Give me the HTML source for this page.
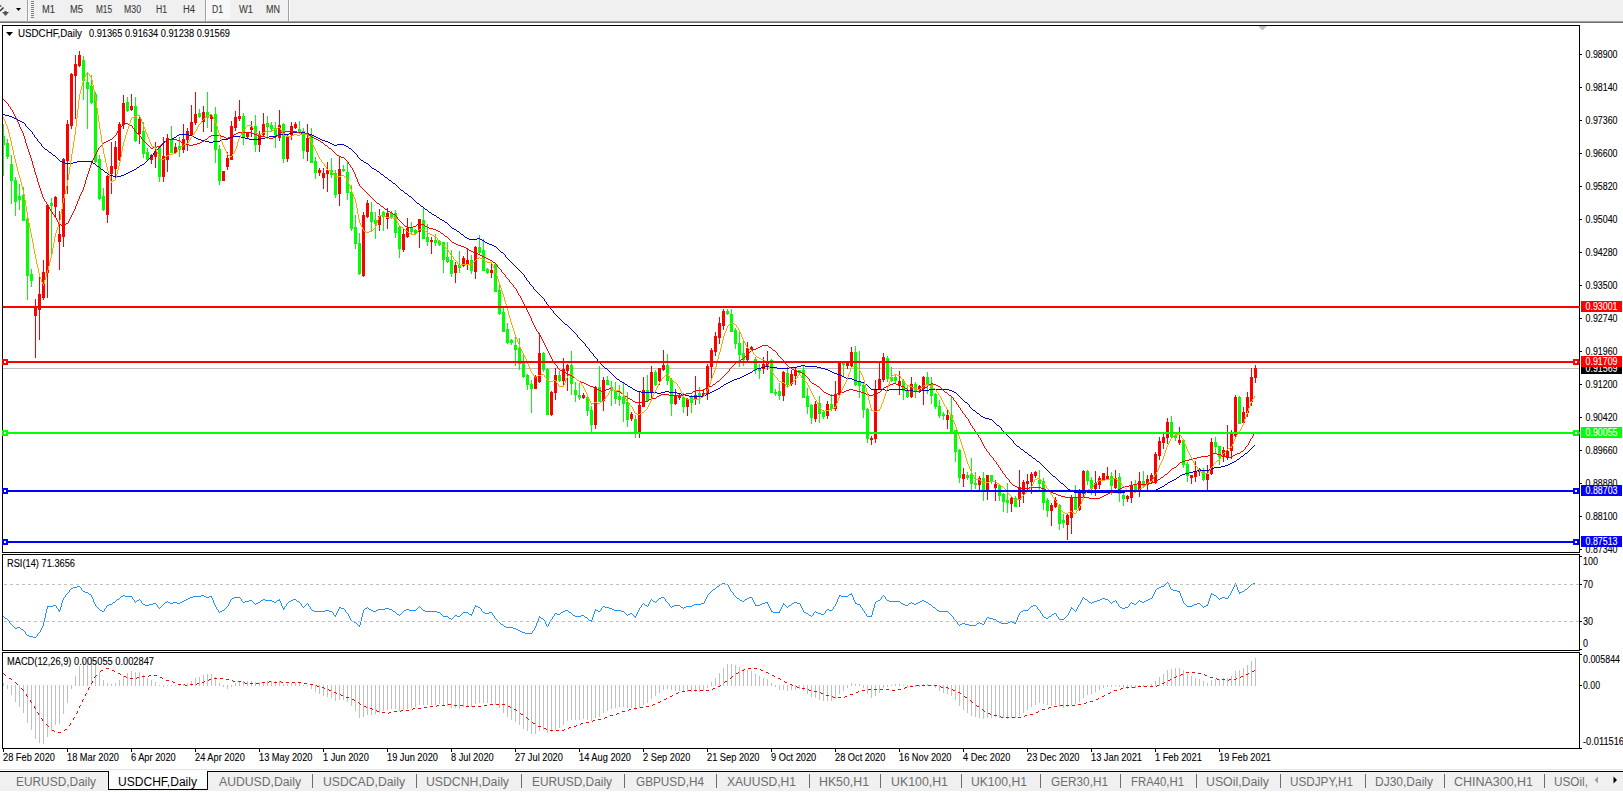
<!DOCTYPE html>
<html><head><meta charset="utf-8"><style>
html,body{margin:0;padding:0;background:#fff;overflow:hidden}
svg{display:block}
text{font-family:"Liberation Sans", sans-serif;white-space:pre}
</style></head><body>
<svg width="1623" height="792" viewBox="0 0 1623 792">
<rect x="0" y="0" width="1623" height="21" fill="#f0f0f0"/>
<rect x="0" y="21" width="1623" height="1" fill="#a0a0a0"/>
<rect x="0" y="22" width="1623" height="1" fill="#6e6e6e"/>
<rect x="27" y="0" width="1" height="21" fill="#a0a0a0"/>
<rect x="28" y="0" width="1" height="21" fill="#ffffff"/>
<rect x="205" y="0" width="1" height="21" fill="#a0a0a0"/>
<rect x="206" y="0" width="1" height="21" fill="#ffffff"/>
<rect x="288" y="0" width="1" height="21" fill="#a0a0a0"/>
<rect x="289" y="0" width="1" height="21" fill="#ffffff"/>
<rect x="31" y="1" width="3" height="1" fill="#808080"/>
<rect x="31" y="3" width="3" height="1" fill="#808080"/>
<rect x="31" y="5" width="3" height="1" fill="#808080"/>
<rect x="31" y="7" width="3" height="1" fill="#808080"/>
<rect x="31" y="9" width="3" height="1" fill="#808080"/>
<rect x="31" y="11" width="3" height="1" fill="#808080"/>
<rect x="31" y="13" width="3" height="1" fill="#808080"/>
<rect x="31" y="15" width="3" height="1" fill="#808080"/>
<rect x="31" y="17" width="3" height="1" fill="#808080"/>
<rect x="207" y="0" width="23" height="19" fill="#f8f8f8"/>
<path d="M16 8h5l-2.5 3z" fill="#000"/>
<path d="M0 5 L2 6 L0 7z" fill="#404040"/>
<path d="M0 11 L3.5 7.5" stroke="#303030" stroke-width="1.4"/>
<path d="M2 12 L9 12 L5.5 16z" fill="#555"/>
<path d="M4 11 L7 11 L5.5 13z" fill="#555"/>
<text x="42" y="13" font-size="10.0" fill="#3c3c3c" text-anchor="start" textLength="13" lengthAdjust="spacingAndGlyphs" stroke="#3c3c3c" stroke-width="0.1">M1</text>
<text x="70" y="13" font-size="10.0" fill="#3c3c3c" text-anchor="start" textLength="13" lengthAdjust="spacingAndGlyphs" stroke="#3c3c3c" stroke-width="0.1">M5</text>
<text x="96" y="13" font-size="10.0" fill="#3c3c3c" text-anchor="start" textLength="16" lengthAdjust="spacingAndGlyphs" stroke="#3c3c3c" stroke-width="0.1">M15</text>
<text x="124" y="13" font-size="10.0" fill="#3c3c3c" text-anchor="start" textLength="17" lengthAdjust="spacingAndGlyphs" stroke="#3c3c3c" stroke-width="0.1">M30</text>
<text x="156" y="13" font-size="10.0" fill="#3c3c3c" text-anchor="start" textLength="11" lengthAdjust="spacingAndGlyphs" stroke="#3c3c3c" stroke-width="0.1">H1</text>
<text x="183" y="13" font-size="10.0" fill="#3c3c3c" text-anchor="start" textLength="12" lengthAdjust="spacingAndGlyphs" stroke="#3c3c3c" stroke-width="0.1">H4</text>
<text x="212" y="13" font-size="10.0" fill="#3c3c3c" text-anchor="start" textLength="11" lengthAdjust="spacingAndGlyphs" stroke="#3c3c3c" stroke-width="0.1">D1</text>
<text x="239" y="13" font-size="10.0" fill="#3c3c3c" text-anchor="start" textLength="14" lengthAdjust="spacingAndGlyphs" stroke="#3c3c3c" stroke-width="0.1">W1</text>
<text x="266" y="13" font-size="10.0" fill="#3c3c3c" text-anchor="start" textLength="14" lengthAdjust="spacingAndGlyphs" stroke="#3c3c3c" stroke-width="0.1">MN</text>
<g fill="none" stroke="#000" stroke-width="1" shape-rendering="crispEdges">
<rect x="2.5" y="25.5" width="1577" height="527"/>
<rect x="2.5" y="554.5" width="1577" height="96"/>
<rect x="2.5" y="652.5" width="1577" height="96"/>
</g>
<rect x="1580" y="54" width="2" height="1" fill="#000"/>
<text x="1585.5" y="58" font-size="10.0" fill="#000" text-anchor="start" textLength="32" lengthAdjust="spacingAndGlyphs" stroke="#000" stroke-width="0.1">0.98900</text>
<rect x="1580" y="87" width="2" height="1" fill="#000"/>
<text x="1585.5" y="91" font-size="10.0" fill="#000" text-anchor="start" textLength="32" lengthAdjust="spacingAndGlyphs" stroke="#000" stroke-width="0.1">0.98140</text>
<rect x="1580" y="120" width="2" height="1" fill="#000"/>
<text x="1585.5" y="124" font-size="10.0" fill="#000" text-anchor="start" textLength="32" lengthAdjust="spacingAndGlyphs" stroke="#000" stroke-width="0.1">0.97360</text>
<rect x="1580" y="153" width="2" height="1" fill="#000"/>
<text x="1585.5" y="157" font-size="10.0" fill="#000" text-anchor="start" textLength="32" lengthAdjust="spacingAndGlyphs" stroke="#000" stroke-width="0.1">0.96600</text>
<rect x="1580" y="186" width="2" height="1" fill="#000"/>
<text x="1585.5" y="190" font-size="10.0" fill="#000" text-anchor="start" textLength="32" lengthAdjust="spacingAndGlyphs" stroke="#000" stroke-width="0.1">0.95820</text>
<rect x="1580" y="219" width="2" height="1" fill="#000"/>
<text x="1585.5" y="223" font-size="10.0" fill="#000" text-anchor="start" textLength="32" lengthAdjust="spacingAndGlyphs" stroke="#000" stroke-width="0.1">0.95040</text>
<rect x="1580" y="252" width="2" height="1" fill="#000"/>
<text x="1585.5" y="256" font-size="10.0" fill="#000" text-anchor="start" textLength="32" lengthAdjust="spacingAndGlyphs" stroke="#000" stroke-width="0.1">0.94280</text>
<rect x="1580" y="285" width="2" height="1" fill="#000"/>
<text x="1585.5" y="289" font-size="10.0" fill="#000" text-anchor="start" textLength="32" lengthAdjust="spacingAndGlyphs" stroke="#000" stroke-width="0.1">0.93500</text>
<rect x="1580" y="318" width="2" height="1" fill="#000"/>
<text x="1585.5" y="322" font-size="10.0" fill="#000" text-anchor="start" textLength="32" lengthAdjust="spacingAndGlyphs" stroke="#000" stroke-width="0.1">0.92740</text>
<rect x="1580" y="351" width="2" height="1" fill="#000"/>
<text x="1585.5" y="355" font-size="10.0" fill="#000" text-anchor="start" textLength="32" lengthAdjust="spacingAndGlyphs" stroke="#000" stroke-width="0.1">0.91960</text>
<rect x="1580" y="384" width="2" height="1" fill="#000"/>
<text x="1585.5" y="388" font-size="10.0" fill="#000" text-anchor="start" textLength="32" lengthAdjust="spacingAndGlyphs" stroke="#000" stroke-width="0.1">0.91200</text>
<rect x="1580" y="417" width="2" height="1" fill="#000"/>
<text x="1585.5" y="421" font-size="10.0" fill="#000" text-anchor="start" textLength="32" lengthAdjust="spacingAndGlyphs" stroke="#000" stroke-width="0.1">0.90420</text>
<rect x="1580" y="450" width="2" height="1" fill="#000"/>
<text x="1585.5" y="454" font-size="10.0" fill="#000" text-anchor="start" textLength="32" lengthAdjust="spacingAndGlyphs" stroke="#000" stroke-width="0.1">0.89660</text>
<rect x="1580" y="483" width="2" height="1" fill="#000"/>
<text x="1585.5" y="487" font-size="10.0" fill="#000" text-anchor="start" textLength="32" lengthAdjust="spacingAndGlyphs" stroke="#000" stroke-width="0.1">0.88880</text>
<rect x="1580" y="516" width="2" height="1" fill="#000"/>
<text x="1585.5" y="520" font-size="10.0" fill="#000" text-anchor="start" textLength="32" lengthAdjust="spacingAndGlyphs" stroke="#000" stroke-width="0.1">0.88100</text>
<rect x="1580" y="549" width="2" height="1" fill="#000"/>
<text x="1585.5" y="553" font-size="10.0" fill="#000" text-anchor="start" textLength="32" lengthAdjust="spacingAndGlyphs" stroke="#000" stroke-width="0.1">0.87340</text>
<rect x="3" y="368" width="1576" height="1" fill="#c0c0c0"/>
<path d="M3 124h1v52h-1zM3 136H5V145H3zM7 139h1v20h-1zM6 143H9V157H6zM11 155h1v49h-1zM10 164H13V181H10zM15 177h1v39h-1zM14 180H17V202H14zM19 184h1v26h-1zM18 196H21V200H18zM23 187h1v34h-1zM22 195H25V221H22zM27 218h1v82h-1zM26 219H29V276H26zM31 269h1v18h-1zM30 274H33V281H30zM51 198h1v58h-1zM50 203H53V206H50zM83 56h1v44h-1zM82 60H85V81H82zM87 72h1v57h-1zM86 82H89V89H86zM91 75h1v29h-1zM90 86H93V103H90zM95 92h1v71h-1zM94 94H97V162H94zM99 155h1v45h-1zM98 159H101V199H98zM103 188h1v23h-1zM102 196H105V210H102zM127 97h1v15h-1zM126 102H129V111H126zM135 97h1v45h-1zM134 106H137V141H134zM143 122h1v36h-1zM142 131H145V154H142zM147 148h1v13h-1zM146 152H149V160H146zM159 146h1v36h-1zM158 147H161V177H158zM171 126h1v27h-1zM170 139H173V153H170zM179 137h1v20h-1zM178 146H181V150H178zM199 109h1v9h-1zM198 113H201V117H198zM207 92h1v36h-1zM206 112H209V118H206zM215 107h1v56h-1zM214 114H217V150H214zM219 145h1v40h-1zM218 149H221V181H218zM243 113h1v32h-1zM242 116H245V137H242zM255 115h1v37h-1zM254 126H257V145H254zM267 116h1v23h-1zM266 123H269V127H266zM271 122h1v9h-1zM270 125H273V129H270zM275 122h1v26h-1zM274 128H277V135H274zM283 123h1v40h-1zM282 124H285V159H282zM299 121h1v13h-1zM298 129H301V133H298zM303 128h1v31h-1zM302 131H305V151H302zM311 128h1v35h-1zM310 135H313V163H310zM315 157h1v22h-1zM314 161H317V173H314zM331 158h1v20h-1zM330 170H333V175H330zM335 170h1v28h-1zM334 173H337V195H334zM343 165h1v7h-1zM342 169H345V171H342zM347 162h1v38h-1zM346 172H349V193H346zM351 185h1v46h-1zM350 192H353V229H350zM355 215h1v34h-1zM354 227H357V244H354zM359 233h1v42h-1zM358 243H361V274H358zM371 202h1v30h-1zM370 212H373V222H370zM375 212h1v27h-1zM374 220H377V224H374zM383 211h1v20h-1zM382 212H385V217H382zM391 211h1v8h-1zM390 213H393V218H390zM395 210h1v28h-1zM394 213H397V233H394zM399 226h1v32h-1zM398 227H401V249H398zM411 222h1v13h-1zM410 228H413V232H410zM415 229h1v6h-1zM414 230H417V234H414zM423 207h1v32h-1zM422 220H425V239H422zM427 224h1v22h-1zM426 237H429V242H426zM435 234h1v12h-1zM434 240H437V243H434zM439 240h1v6h-1zM438 241H441V245H438zM443 242h1v31h-1zM442 242H445V260H442zM447 242h1v21h-1zM446 257H449V262H446zM451 250h1v27h-1zM450 260H453V274H450zM459 251h1v22h-1zM458 265H461V268H458zM471 255h1v19h-1zM470 260H473V271H470zM479 235h1v20h-1zM478 247H481V253H478zM483 239h1v32h-1zM482 250H485V271H482zM487 268h1v6h-1zM486 269H489V273H486zM495 263h1v29h-1zM494 264H497V292H494zM499 285h1v30h-1zM498 290H501V314H498zM503 307h1v25h-1zM502 312H505V332H502zM507 323h1v21h-1zM506 329H509V343H506zM511 339h1v6h-1zM510 340H513V343H510zM515 337h1v29h-1zM514 345H517V350H514zM519 338h1v32h-1zM518 348H521V364H518zM523 355h1v23h-1zM522 361H525V377H522zM527 374h1v16h-1zM526 375H529V385H526zM531 380h1v33h-1zM530 384H533V389H530zM543 352h1v20h-1zM542 353H545V370H542zM547 368h1v47h-1zM546 369H549V415H546zM559 371h1v11h-1zM558 375H561V381H558zM571 351h1v44h-1zM570 365H573V384H570zM575 382h1v20h-1zM574 390H577V395H574zM579 383h1v17h-1zM578 395H581V398H578zM587 395h1v21h-1zM586 397H589V411H586zM591 406h1v27h-1zM590 410H593V425H590zM599 366h1v36h-1zM598 387H601V402H598zM607 376h1v9h-1zM606 380H609V385H606zM611 381h1v25h-1zM610 387H613V391H610zM615 382h1v22h-1zM614 390H617V399H614zM619 385h1v21h-1zM618 396H621V400H618zM623 382h1v40h-1zM622 397H625V404H622zM627 392h1v35h-1zM626 402H629V420H626zM635 415h1v23h-1zM634 419H637V433H634zM647 375h1v26h-1zM646 390H649V401H646zM655 370h1v16h-1zM654 372H657V385H654zM667 354h1v31h-1zM666 365H669V381H666zM671 378h1v38h-1zM670 380H673V404H670zM683 393h1v20h-1zM682 397H685V407H682zM691 395h1v18h-1zM690 396H693V403H690zM699 387h1v17h-1zM698 393H701V396H698zM727 309h1v6h-1zM726 311H729V314H726zM731 309h1v23h-1zM730 314H733V332H730zM735 328h1v21h-1zM734 330H737V344H734zM739 332h1v35h-1zM738 343H741V355H738zM743 341h1v25h-1zM742 353H745V360H742zM755 357h1v17h-1zM754 359H757V370H754zM759 364h1v15h-1zM758 369H761V371H758zM771 359h1v34h-1zM770 360H773V393H770zM775 389h1v7h-1zM774 392H777V394H774zM779 383h1v17h-1zM778 391H781V396H778zM787 367h1v21h-1zM786 373H789V385H786zM799 370h1v4h-1zM798 370H801V373H798zM803 366h1v32h-1zM802 370H805V398H802zM807 388h1v26h-1zM806 396H809V407H806zM811 404h1v20h-1zM810 405H813V418H810zM819 396h1v27h-1zM818 403H821V414H818zM823 410h1v9h-1zM822 412H825V417H822zM831 394h1v17h-1zM830 404H833V409H830zM843 362h1v14h-1zM842 362H845V365H842zM855 346h1v40h-1zM854 352H857V385H854zM859 351h1v47h-1zM858 381H861V386H858zM863 383h1v35h-1zM862 385H865V410H862zM867 408h1v35h-1zM866 409H869V439H866zM887 356h1v26h-1zM886 358H889V379H886zM891 367h1v15h-1zM890 377H893V381H890zM895 374h1v10h-1zM894 377H897V381H894zM903 379h1v21h-1zM902 381H905V391H902zM907 385h1v13h-1zM906 390H909V397H906zM915 382h1v16h-1zM914 384H917V392H914zM927 372h1v22h-1zM926 377H929V385H926zM931 377h1v27h-1zM930 384H933V396H930zM935 393h1v16h-1zM934 394H937V407H934zM939 400h1v18h-1zM938 406H941V416H938zM943 412h1v8h-1zM942 414H945V416H942zM951 396h1v37h-1zM950 415H953V432H950zM955 430h1v32h-1zM954 430H957V452H954zM959 449h1v34h-1zM958 450H961V478H958zM967 472h1v8h-1zM966 475H969V478H966zM971 458h1v33h-1zM970 474H973V484H970zM975 472h1v17h-1zM974 483H977V485H974zM983 472h1v29h-1zM982 478H985V491H982zM991 475h1v9h-1zM990 475H993V481H990zM999 484h1v17h-1zM998 485H1001V496H998zM1003 493h1v19h-1zM1002 494H1005V502H1002zM1007 483h1v30h-1zM1006 500H1009V503H1006zM1015 496h1v11h-1zM1014 498H1017V507H1014zM1039 470h1v22h-1zM1038 480H1041V484H1038zM1043 478h1v32h-1zM1042 481H1045V503H1042zM1047 498h1v19h-1zM1046 500H1049V511H1046zM1059 504h1v26h-1zM1058 505H1061V524H1058zM1063 514h1v14h-1zM1062 520H1065V523H1062zM1075 485h1v25h-1zM1074 498H1077V510H1074zM1087 470h1v15h-1zM1086 471H1089V481H1086zM1091 477h1v18h-1zM1090 480H1093V489H1090zM1111 472h1v23h-1zM1110 476H1113V486H1110zM1119 473h1v29h-1zM1118 477H1121V494H1118zM1123 493h1v13h-1zM1122 495H1125V499H1122zM1135 480h1v11h-1zM1134 485H1137V490H1134zM1143 471h1v17h-1zM1142 481H1145V486H1142zM1171 416h1v22h-1zM1170 422H1173V437H1170zM1175 433h1v8h-1zM1174 435H1177V438H1174zM1183 439h1v29h-1zM1182 440H1185V465H1182zM1187 462h1v20h-1zM1186 464H1189V476H1186zM1203 468h1v13h-1zM1202 470H1205V480H1202zM1215 437h1v17h-1zM1214 442H1217V447H1214zM1219 446h1v19h-1zM1218 446H1221V457H1218zM1239 396h1v28h-1zM1238 397H1241V424H1238z" fill="#00ff00" shape-rendering="crispEdges"/>
<path d="M35 299h1v59h-1zM34 306H37V316H34zM39 277h1v63h-1zM38 294H41V310H38zM43 260h1v40h-1zM42 272H45V298H42zM47 204h1v94h-1zM46 205H49V273H46zM55 196h1v22h-1zM54 197H57V207H54zM59 211h1v59h-1zM58 234H61V242H58zM63 158h1v89h-1zM62 159H65V237H62zM67 120h1v74h-1zM66 124H69V161H66zM71 73h1v56h-1zM70 74H73V126H70zM75 55h1v64h-1zM74 64H77V76H74zM79 51h1v16h-1zM78 55H81V66H78zM107 175h1v48h-1zM106 176H109V215H106zM111 142h1v52h-1zM110 166H113V174H110zM115 141h1v39h-1zM114 147H117V169H114zM119 122h1v39h-1zM118 124H121V160H118zM123 95h1v34h-1zM122 103H125V125H122zM131 94h1v17h-1zM130 106H133V110H130zM139 116h1v28h-1zM138 119H141V134H138zM151 154h1v10h-1zM150 155H153V160H150zM155 142h1v26h-1zM154 151H157V157H154zM163 137h1v45h-1zM162 156H165V177H162zM167 134h1v38h-1zM166 138H169V160H166zM175 143h1v11h-1zM174 147H177V153H174zM183 124h1v29h-1zM182 139H185V150H182zM187 128h1v23h-1zM186 131H189V140H186zM191 105h1v30h-1zM190 122H193V135H190zM195 92h1v33h-1zM194 114H197V123H194zM203 106h1v26h-1zM202 112H205V122H202zM211 114h1v18h-1zM210 115H213V119H210zM223 171h1v10h-1zM222 171H225V181H222zM227 152h1v18h-1zM226 158H229V167H226zM231 121h1v39h-1zM230 126H233V160H230zM235 111h1v20h-1zM234 117H237V128H234zM239 100h1v21h-1zM238 116H241V119H238zM247 132h1v6h-1zM246 133H249V137H246zM251 121h1v16h-1zM250 127H253V130H250zM259 131h1v21h-1zM258 135H261V145H258zM263 113h1v23h-1zM262 124H265V135H262zM279 110h1v31h-1zM278 125H281V138H278zM287 135h1v27h-1zM286 137H289V159H286zM291 122h1v18h-1zM290 126H293V135H290zM295 122h1v7h-1zM294 124H297V128H294zM307 124h1v37h-1zM306 138H309V152H306zM319 168h1v8h-1zM318 170H321V173H318zM323 168h1v21h-1zM322 173H325V178H322zM327 162h1v30h-1zM326 170H329V174H326zM339 157h1v49h-1zM338 169H341V194H338zM363 212h1v65h-1zM362 215H365V276H362zM367 200h1v18h-1zM366 203H369V217H366zM379 209h1v22h-1zM378 216H381V225H378zM387 208h1v21h-1zM386 213H389V219H386zM403 228h1v24h-1zM402 234H405V250H402zM407 218h1v20h-1zM406 228H409V237H406zM419 219h1v29h-1zM418 219H421V232H418zM431 237h1v17h-1zM430 240H433V242H430zM455 262h1v21h-1zM454 265H457V273H454zM463 256h1v11h-1zM462 258H465V266H462zM467 248h1v22h-1zM466 260H469V265H466zM475 246h1v33h-1zM474 247H477V272H474zM491 262h1v16h-1zM490 270H493V273H490zM535 375h1v14h-1zM534 377H537V389H534zM539 333h1v50h-1zM538 353H541V382H538zM551 391h1v25h-1zM550 392H553V415H550zM555 368h1v32h-1zM554 375H557V393H554zM563 358h1v27h-1zM562 369H565V381H562zM567 364h1v27h-1zM566 365H569V371H566zM583 393h1v6h-1zM582 395H585V398H582zM595 386h1v43h-1zM594 387H597V425H594zM603 377h1v34h-1zM602 380H605V401H602zM631 412h1v9h-1zM630 414H633V419H630zM639 392h1v46h-1zM638 405H641V433H638zM643 377h1v30h-1zM642 390H645V407H642zM651 366h1v34h-1zM650 372H653V392H650zM659 368h1v17h-1zM658 368H661V381H658zM663 350h1v21h-1zM662 365H665V370H662zM675 389h1v16h-1zM674 396H677V404H674zM679 394h1v6h-1zM678 395H681V398H678zM687 398h1v18h-1zM686 399H689V407H686zM695 376h1v29h-1zM694 395H697V399H694zM703 389h1v8h-1zM702 393H705V396H702zM707 364h1v36h-1zM706 366H709V394H706zM711 348h1v31h-1zM710 350H713V367H710zM715 332h1v24h-1zM714 336H717V352H714zM719 317h1v27h-1zM718 323H721V338H718zM723 309h1v21h-1zM722 311H725V326H722zM747 342h1v19h-1zM746 348H749V360H746zM751 346h1v5h-1zM750 347H753V350H750zM763 357h1v17h-1zM762 364H765V369H762zM767 351h1v19h-1zM766 361H769V366H766zM783 371h1v30h-1zM782 372H785V396H782zM791 370h1v16h-1zM790 374H793V384H790zM795 367h1v18h-1zM794 370H797V376H794zM815 401h1v21h-1zM814 404H817V419H814zM827 401h1v18h-1zM826 404H829V416H826zM835 381h1v30h-1zM834 394H837V409H834zM839 361h1v36h-1zM838 362H841V395H838zM847 362h1v7h-1zM846 363H849V366H846zM851 347h1v20h-1zM850 352H853V366H850zM871 436h1v9h-1zM870 438H873V440H870zM875 380h1v63h-1zM874 389H877V439H874zM879 363h1v27h-1zM878 379H881V389H878zM883 353h1v29h-1zM882 357H885V380H882zM899 371h1v24h-1zM898 381H901V385H898zM911 377h1v21h-1zM910 384H913V397H910zM919 385h1v8h-1zM918 386H921V390H918zM923 376h1v29h-1zM922 377H925V389H922zM947 410h1v19h-1zM946 415H949V420H946zM963 468h1v19h-1zM962 474H965V479H962zM979 476h1v15h-1zM978 478H981V485H978zM987 475h1v25h-1zM986 475H989V491H986zM995 480h1v21h-1zM994 484H997V488H994zM1011 497h1v15h-1zM1010 498H1013V504H1010zM1019 470h1v37h-1zM1018 488H1021V500H1018zM1023 480h1v23h-1zM1022 482H1025V494H1022zM1027 474h1v17h-1zM1026 481H1029V484H1026zM1031 472h1v22h-1zM1030 474H1033V482H1030zM1035 471h1v7h-1zM1034 472H1037V476H1034zM1051 503h1v23h-1zM1050 505H1053V511H1050zM1055 497h1v11h-1zM1054 500H1057V507H1054zM1067 514h1v26h-1zM1066 515H1069V525H1066zM1071 495h1v39h-1zM1070 497H1073V518H1070zM1079 489h1v22h-1zM1078 493H1081V510H1078zM1083 470h1v29h-1zM1082 471H1085V494H1082zM1095 471h1v25h-1zM1094 483H1097V489H1094zM1099 476h1v13h-1zM1098 478H1101V485H1098zM1103 473h1v8h-1zM1102 473H1105V480H1102zM1107 467h1v13h-1zM1106 476H1109V479H1106zM1115 470h1v19h-1zM1114 478H1117V488H1114zM1127 495h1v7h-1zM1126 496H1129V499H1126zM1131 481h1v22h-1zM1130 485H1133V498H1130zM1139 472h1v25h-1zM1138 481H1141V490H1138zM1147 475h1v15h-1zM1146 479H1149V485H1146zM1151 473h1v11h-1zM1150 475H1153V482H1150zM1155 452h1v32h-1zM1154 454H1157V483H1154zM1159 437h1v23h-1zM1158 441H1161V456H1158zM1163 434h1v15h-1zM1162 437H1165V443H1162zM1167 418h1v26h-1zM1166 422H1169V438H1166zM1179 427h1v18h-1zM1178 440H1181V443H1178zM1191 475h1v9h-1zM1190 475H1193V478H1190zM1195 461h1v21h-1zM1194 471H1197V477H1194zM1199 468h1v8h-1zM1198 469H1201V472H1198zM1207 465h1v26h-1zM1206 474H1209V480H1206zM1211 438h1v37h-1zM1210 442H1213V474H1210zM1223 447h1v15h-1zM1222 450H1225V457H1222zM1227 425h1v35h-1zM1226 451H1229V458H1226zM1231 430h1v29h-1zM1230 434H1233V451H1230zM1235 395h1v43h-1zM1234 397H1237V436H1234zM1243 407h1v17h-1zM1242 412H1245V423H1242zM1247 392h1v25h-1zM1246 397H1249V413H1246zM1251 368h1v38h-1zM1250 377H1253V402H1250zM1255 365h1v18h-1zM1254 368H1257V378H1254z" fill="#ff0000" shape-rendering="crispEdges"/>
<svg x="3" y="26" width="1576" height="526" overflow="hidden"><g transform="translate(-3,-26)">
<path d="M3 114h1v1h-1zM4 114h1v1h-1zM5 115h1v1h-1zM6 115h1v1h-1zM7 115h1v1h-1zM8 115h1v1h-1zM9 116h1v1h-1zM10 116h1v1h-1zM11 116h1v1h-1zM12 117h1v1h-1zM13 117h1v1h-1zM14 118h1v1h-1zM15 118h1v1h-1zM16 119h1v1h-1zM17 119h1v1h-1zM18 120h1v1h-1zM19 120h1v1h-1zM20 121h1v1h-1zM21 121h1v1h-1zM22 122h1v1h-1zM23 122h1v1h-1zM24 123h1v1h-1zM25 124h1v2h-1zM26 126h1v1h-1zM27 127h1v1h-1zM28 128h1v1h-1zM29 129h1v1h-1zM30 130h1v1h-1zM31 131h1v1h-1zM32 132h1v2h-1zM33 134h1v1h-1zM34 135h1v2h-1zM35 137h1v1h-1zM36 138h1v1h-1zM37 139h1v2h-1zM38 141h1v1h-1zM39 142h1v1h-1zM40 143h1v1h-1zM41 144h1v2h-1zM42 146h1v1h-1zM43 147h1v1h-1zM44 148h1v1h-1zM45 149h1v1h-1zM46 149h1v1h-1zM47 150h1v1h-1zM48 151h1v1h-1zM49 152h1v1h-1zM50 152h1v1h-1zM51 153h1v1h-1zM52 154h1v1h-1zM53 155h1v1h-1zM54 155h1v1h-1zM55 156h1v1h-1zM56 157h1v1h-1zM57 158h1v1h-1zM58 159h1v1h-1zM59 160h1v1h-1zM60 161h1v1h-1zM61 161h1v1h-1zM62 162h1v1h-1zM63 162h1v1h-1zM64 162h1v1h-1zM65 163h1v1h-1zM66 163h1v1h-1zM67 163h1v1h-1zM68 163h1v1h-1zM69 163h1v1h-1zM70 163h1v1h-1zM71 163h1v1h-1zM72 163h1v1h-1zM73 162h1v1h-1zM74 162h1v1h-1zM75 162h1v1h-1zM76 162h1v1h-1zM77 161h1v1h-1zM78 161h1v1h-1zM79 161h1v1h-1zM80 161h1v1h-1zM81 161h1v1h-1zM82 161h1v1h-1zM83 161h1v1h-1zM84 161h1v1h-1zM85 161h1v1h-1zM86 161h1v1h-1zM87 161h1v1h-1zM88 161h1v1h-1zM89 161h1v1h-1zM90 161h1v1h-1zM91 161h1v1h-1zM92 162h1v1h-1zM93 163h1v1h-1zM94 163h1v1h-1zM95 164h1v1h-1zM96 165h1v1h-1zM97 166h1v1h-1zM98 166h1v1h-1zM99 167h1v1h-1zM100 168h1v1h-1zM101 169h1v1h-1zM102 169h1v1h-1zM103 170h1v1h-1zM104 171h1v1h-1zM105 172h1v1h-1zM106 172h1v1h-1zM107 173h1v1h-1zM108 174h1v1h-1zM109 174h1v1h-1zM110 175h1v1h-1zM111 175h1v1h-1zM112 175h1v1h-1zM113 176h1v1h-1zM114 176h1v1h-1zM115 176h1v1h-1zM116 176h1v1h-1zM117 176h1v1h-1zM118 176h1v1h-1zM119 176h1v1h-1zM120 176h1v1h-1zM121 175h1v1h-1zM122 175h1v1h-1zM123 175h1v1h-1zM124 174h1v1h-1zM125 174h1v1h-1zM126 173h1v1h-1zM127 173h1v1h-1zM128 172h1v1h-1zM129 172h1v1h-1zM130 171h1v1h-1zM131 171h1v1h-1zM132 170h1v1h-1zM133 170h1v1h-1zM134 169h1v1h-1zM135 169h1v1h-1zM136 168h1v1h-1zM137 167h1v1h-1zM138 167h1v1h-1zM139 166h1v1h-1zM140 165h1v1h-1zM141 165h1v1h-1zM142 164h1v1h-1zM143 164h1v1h-1zM144 163h1v1h-1zM145 162h1v1h-1zM146 161h1v1h-1zM147 160h1v1h-1zM148 159h1v1h-1zM149 158h1v1h-1zM150 157h1v1h-1zM151 156h1v1h-1zM152 155h1v1h-1zM153 153h1v2h-1zM154 152h1v1h-1zM155 151h1v1h-1zM156 150h1v1h-1zM157 149h1v1h-1zM158 148h1v1h-1zM159 147h1v1h-1zM160 146h1v1h-1zM161 145h1v1h-1zM162 144h1v1h-1zM163 143h1v1h-1zM164 142h1v1h-1zM165 141h1v1h-1zM166 141h1v1h-1zM167 140h1v1h-1zM168 140h1v1h-1zM169 139h1v1h-1zM170 139h1v1h-1zM171 139h1v1h-1zM172 138h1v1h-1zM173 138h1v1h-1zM174 137h1v1h-1zM175 137h1v1h-1zM176 136h1v1h-1zM177 135h1v1h-1zM178 135h1v1h-1zM179 134h1v1h-1zM180 134h1v1h-1zM181 134h1v1h-1zM182 134h1v1h-1zM183 134h1v1h-1zM184 134h1v1h-1zM185 134h1v1h-1zM186 134h1v1h-1zM187 134h1v1h-1zM188 134h1v1h-1zM189 135h1v1h-1zM190 135h1v1h-1zM191 135h1v1h-1zM192 136h1v1h-1zM193 136h1v1h-1zM194 137h1v1h-1zM195 137h1v1h-1zM196 138h1v1h-1zM197 138h1v1h-1zM198 139h1v1h-1zM199 139h1v1h-1zM200 139h1v1h-1zM201 140h1v1h-1zM202 140h1v1h-1zM203 140h1v1h-1zM204 140h1v1h-1zM205 141h1v1h-1zM206 141h1v1h-1zM207 141h1v1h-1zM208 141h1v1h-1zM209 142h1v1h-1zM210 142h1v1h-1zM211 142h1v1h-1zM212 142h1v1h-1zM213 141h1v1h-1zM214 141h1v1h-1zM215 141h1v1h-1zM216 141h1v1h-1zM217 141h1v1h-1zM218 141h1v1h-1zM219 141h1v1h-1zM220 140h1v1h-1zM221 140h1v1h-1zM222 139h1v1h-1zM223 139h1v1h-1zM224 139h1v1h-1zM225 139h1v1h-1zM226 139h1v1h-1zM227 139h1v1h-1zM228 138h1v1h-1zM229 138h1v1h-1zM230 137h1v1h-1zM231 137h1v1h-1zM232 137h1v1h-1zM233 136h1v1h-1zM234 136h1v1h-1zM235 136h1v1h-1zM236 136h1v1h-1zM237 136h1v1h-1zM238 136h1v1h-1zM239 136h1v1h-1zM240 136h1v1h-1zM241 137h1v1h-1zM242 137h1v1h-1zM243 137h1v1h-1zM244 137h1v1h-1zM245 138h1v1h-1zM246 138h1v1h-1zM247 138h1v1h-1zM248 138h1v1h-1zM249 139h1v1h-1zM250 139h1v1h-1zM251 139h1v1h-1zM252 139h1v1h-1zM253 139h1v1h-1zM254 139h1v1h-1zM255 139h1v1h-1zM256 139h1v1h-1zM257 139h1v1h-1zM258 139h1v1h-1zM259 139h1v1h-1zM260 139h1v1h-1zM261 138h1v1h-1zM262 138h1v1h-1zM263 138h1v1h-1zM264 138h1v1h-1zM265 137h1v1h-1zM266 137h1v1h-1zM267 137h1v1h-1zM268 137h1v1h-1zM269 136h1v1h-1zM270 136h1v1h-1zM271 136h1v1h-1zM272 136h1v1h-1zM273 136h1v1h-1zM274 136h1v1h-1zM275 136h1v1h-1zM276 135h1v1h-1zM277 135h1v1h-1zM278 134h1v1h-1zM279 134h1v1h-1zM280 134h1v1h-1zM281 134h1v1h-1zM282 134h1v1h-1zM283 134h1v1h-1zM284 134h1v1h-1zM285 134h1v1h-1zM286 134h1v1h-1zM287 134h1v1h-1zM288 134h1v1h-1zM289 133h1v1h-1zM290 133h1v1h-1zM291 133h1v1h-1zM292 133h1v1h-1zM293 132h1v1h-1zM294 132h1v1h-1zM295 132h1v1h-1zM296 132h1v1h-1zM297 132h1v1h-1zM298 132h1v1h-1zM299 132h1v1h-1zM300 132h1v1h-1zM301 132h1v1h-1zM302 132h1v1h-1zM303 132h1v1h-1zM304 132h1v1h-1zM305 133h1v1h-1zM306 133h1v1h-1zM307 133h1v1h-1zM308 133h1v1h-1zM309 134h1v1h-1zM310 134h1v1h-1zM311 134h1v1h-1zM312 135h1v1h-1zM313 135h1v1h-1zM314 136h1v1h-1zM315 136h1v1h-1zM316 137h1v1h-1zM317 137h1v1h-1zM318 138h1v1h-1zM319 138h1v1h-1zM320 139h1v1h-1zM321 139h1v1h-1zM322 140h1v1h-1zM323 140h1v1h-1zM324 140h1v1h-1zM325 141h1v1h-1zM326 141h1v1h-1zM327 141h1v1h-1zM328 142h1v1h-1zM329 142h1v1h-1zM330 143h1v1h-1zM331 143h1v1h-1zM332 144h1v1h-1zM333 144h1v1h-1zM334 145h1v1h-1zM335 145h1v1h-1zM336 145h1v1h-1zM337 144h1v1h-1zM338 144h1v1h-1zM339 144h1v1h-1zM340 144h1v1h-1zM341 144h1v1h-1zM342 144h1v1h-1zM343 144h1v1h-1zM344 145h1v1h-1zM345 145h1v1h-1zM346 146h1v1h-1zM347 146h1v1h-1zM348 147h1v1h-1zM349 148h1v1h-1zM350 148h1v1h-1zM351 149h1v1h-1zM352 150h1v1h-1zM353 151h1v1h-1zM354 152h1v1h-1zM355 153h1v1h-1zM356 154h1v1h-1zM357 155h1v2h-1zM358 157h1v1h-1zM359 158h1v1h-1zM360 159h1v1h-1zM361 160h1v1h-1zM362 160h1v1h-1zM363 161h1v1h-1zM364 162h1v1h-1zM365 162h1v1h-1zM366 163h1v1h-1zM367 163h1v1h-1zM368 164h1v1h-1zM369 165h1v1h-1zM370 166h1v1h-1zM371 167h1v1h-1zM372 168h1v1h-1zM373 168h1v1h-1zM374 169h1v1h-1zM375 169h1v1h-1zM376 170h1v1h-1zM377 171h1v1h-1zM378 171h1v1h-1zM379 172h1v1h-1zM380 173h1v1h-1zM381 174h1v1h-1zM382 174h1v1h-1zM383 175h1v1h-1zM384 176h1v1h-1zM385 177h1v1h-1zM386 177h1v1h-1zM387 178h1v1h-1zM388 179h1v1h-1zM389 180h1v1h-1zM390 180h1v1h-1zM391 181h1v1h-1zM392 182h1v1h-1zM393 183h1v1h-1zM394 183h1v1h-1zM395 184h1v1h-1zM396 185h1v1h-1zM397 186h1v1h-1zM398 187h1v1h-1zM399 188h1v1h-1zM400 189h1v1h-1zM401 190h1v1h-1zM402 190h1v1h-1zM403 191h1v1h-1zM404 192h1v1h-1zM405 193h1v1h-1zM406 193h1v1h-1zM407 194h1v1h-1zM408 195h1v1h-1zM409 196h1v1h-1zM410 196h1v1h-1zM411 197h1v1h-1zM412 198h1v1h-1zM413 199h1v1h-1zM414 200h1v1h-1zM415 201h1v1h-1zM416 202h1v1h-1zM417 203h1v1h-1zM418 203h1v1h-1zM419 204h1v1h-1zM420 205h1v1h-1zM421 206h1v1h-1zM422 206h1v1h-1zM423 207h1v1h-1zM424 208h1v1h-1zM425 209h1v1h-1zM426 209h1v1h-1zM427 210h1v1h-1zM428 211h1v1h-1zM429 212h1v1h-1zM430 212h1v1h-1zM431 213h1v1h-1zM432 214h1v1h-1zM433 214h1v1h-1zM434 215h1v1h-1zM435 215h1v1h-1zM436 216h1v1h-1zM437 217h1v1h-1zM438 217h1v1h-1zM439 218h1v1h-1zM440 219h1v1h-1zM441 219h1v1h-1zM442 220h1v1h-1zM443 220h1v1h-1zM444 221h1v1h-1zM445 222h1v1h-1zM446 222h1v1h-1zM447 223h1v1h-1zM448 224h1v1h-1zM449 225h1v1h-1zM450 226h1v1h-1zM451 227h1v1h-1zM452 228h1v1h-1zM453 228h1v1h-1zM454 229h1v1h-1zM455 229h1v1h-1zM456 230h1v1h-1zM457 231h1v1h-1zM458 231h1v1h-1zM459 232h1v1h-1zM460 233h1v1h-1zM461 234h1v1h-1zM462 234h1v1h-1zM463 235h1v1h-1zM464 236h1v1h-1zM465 237h1v1h-1zM466 237h1v1h-1zM467 238h1v1h-1zM468 238h1v1h-1zM469 239h1v1h-1zM470 239h1v1h-1zM471 239h1v1h-1zM472 239h1v1h-1zM473 239h1v1h-1zM474 239h1v1h-1zM475 239h1v1h-1zM476 239h1v1h-1zM477 238h1v1h-1zM478 238h1v1h-1zM479 238h1v1h-1zM480 239h1v1h-1zM481 239h1v1h-1zM482 240h1v1h-1zM483 240h1v1h-1zM484 241h1v1h-1zM485 242h1v1h-1zM486 242h1v1h-1zM487 243h1v1h-1zM488 243h1v1h-1zM489 244h1v1h-1zM490 244h1v1h-1zM491 244h1v1h-1zM492 245h1v1h-1zM493 245h1v1h-1zM494 246h1v1h-1zM495 246h1v1h-1zM496 247h1v1h-1zM497 248h1v1h-1zM498 249h1v1h-1zM499 250h1v1h-1zM500 251h1v1h-1zM501 252h1v1h-1zM502 252h1v1h-1zM503 253h1v1h-1zM504 254h1v1h-1zM505 255h1v2h-1zM506 257h1v1h-1zM507 258h1v1h-1zM508 259h1v1h-1zM509 260h1v1h-1zM510 261h1v1h-1zM511 262h1v1h-1zM512 263h1v1h-1zM513 264h1v1h-1zM514 265h1v1h-1zM515 266h1v1h-1zM516 267h1v1h-1zM517 268h1v1h-1zM518 269h1v1h-1zM519 270h1v1h-1zM520 271h1v1h-1zM521 272h1v1h-1zM522 273h1v1h-1zM523 274h1v1h-1zM524 275h1v2h-1zM525 277h1v1h-1zM526 278h1v2h-1zM527 280h1v1h-1zM528 281h1v1h-1zM529 282h1v2h-1zM530 284h1v1h-1zM531 285h1v1h-1zM532 286h1v1h-1zM533 287h1v2h-1zM534 289h1v1h-1zM535 290h1v1h-1zM536 291h1v1h-1zM537 292h1v1h-1zM538 293h1v1h-1zM539 294h1v1h-1zM540 295h1v1h-1zM541 296h1v1h-1zM542 297h1v1h-1zM543 298h1v1h-1zM544 299h1v2h-1zM545 301h1v1h-1zM546 302h1v2h-1zM547 304h1v1h-1zM548 305h1v1h-1zM549 306h1v2h-1zM550 308h1v1h-1zM551 309h1v1h-1zM552 310h1v1h-1zM553 311h1v2h-1zM554 313h1v1h-1zM555 314h1v1h-1zM556 315h1v1h-1zM557 316h1v1h-1zM558 317h1v1h-1zM559 318h1v1h-1zM560 319h1v1h-1zM561 320h1v1h-1zM562 321h1v1h-1zM563 322h1v1h-1zM564 323h1v1h-1zM565 324h1v1h-1zM566 324h1v1h-1zM567 325h1v1h-1zM568 326h1v1h-1zM569 327h1v1h-1zM570 328h1v1h-1zM571 329h1v1h-1zM572 330h1v1h-1zM573 331h1v1h-1zM574 332h1v1h-1zM575 333h1v1h-1zM576 334h1v1h-1zM577 335h1v2h-1zM578 337h1v1h-1zM579 338h1v1h-1zM580 339h1v1h-1zM581 340h1v1h-1zM582 341h1v1h-1zM583 342h1v1h-1zM584 343h1v1h-1zM585 344h1v2h-1zM586 346h1v1h-1zM587 347h1v1h-1zM588 348h1v1h-1zM589 349h1v2h-1zM590 351h1v1h-1zM591 352h1v1h-1zM592 353h1v1h-1zM593 354h1v2h-1zM594 356h1v1h-1zM595 357h1v1h-1zM596 358h1v1h-1zM597 359h1v2h-1zM598 361h1v1h-1zM599 362h1v1h-1zM600 363h1v1h-1zM601 364h1v1h-1zM602 365h1v1h-1zM603 366h1v1h-1zM604 367h1v1h-1zM605 368h1v1h-1zM606 368h1v1h-1zM607 369h1v1h-1zM608 370h1v1h-1zM609 371h1v1h-1zM610 372h1v1h-1zM611 373h1v1h-1zM612 374h1v1h-1zM613 375h1v1h-1zM614 376h1v1h-1zM615 377h1v1h-1zM616 378h1v1h-1zM617 379h1v1h-1zM618 379h1v1h-1zM619 380h1v1h-1zM620 381h1v1h-1zM621 381h1v1h-1zM622 382h1v1h-1zM623 382h1v1h-1zM624 383h1v1h-1zM625 384h1v1h-1zM626 384h1v1h-1zM627 385h1v1h-1zM628 386h1v1h-1zM629 386h1v1h-1zM630 387h1v1h-1zM631 387h1v1h-1zM632 388h1v1h-1zM633 389h1v1h-1zM634 389h1v1h-1zM635 390h1v1h-1zM636 390h1v1h-1zM637 391h1v1h-1zM638 391h1v1h-1zM639 391h1v1h-1zM640 391h1v1h-1zM641 392h1v1h-1zM642 392h1v1h-1zM643 392h1v1h-1zM644 392h1v1h-1zM645 392h1v1h-1zM646 392h1v1h-1zM647 392h1v1h-1zM648 392h1v1h-1zM649 392h1v1h-1zM650 392h1v1h-1zM651 392h1v1h-1zM652 392h1v1h-1zM653 392h1v1h-1zM654 392h1v1h-1zM655 392h1v1h-1zM656 392h1v1h-1zM657 393h1v1h-1zM658 393h1v1h-1zM659 393h1v1h-1zM660 393h1v1h-1zM661 392h1v1h-1zM662 392h1v1h-1zM663 392h1v1h-1zM664 392h1v1h-1zM665 391h1v1h-1zM666 391h1v1h-1zM667 391h1v1h-1zM668 391h1v1h-1zM669 392h1v1h-1zM670 392h1v1h-1zM671 392h1v1h-1zM672 392h1v1h-1zM673 392h1v1h-1zM674 392h1v1h-1zM675 392h1v1h-1zM676 392h1v1h-1zM677 393h1v1h-1zM678 393h1v1h-1zM679 393h1v1h-1zM680 393h1v1h-1zM681 394h1v1h-1zM682 394h1v1h-1zM683 394h1v1h-1zM684 394h1v1h-1zM685 395h1v1h-1zM686 395h1v1h-1zM687 395h1v1h-1zM688 395h1v1h-1zM689 396h1v1h-1zM690 396h1v1h-1zM691 396h1v1h-1zM692 396h1v1h-1zM693 396h1v1h-1zM694 396h1v1h-1zM695 396h1v1h-1zM696 396h1v1h-1zM697 396h1v1h-1zM698 396h1v1h-1zM699 396h1v1h-1zM700 396h1v1h-1zM701 396h1v1h-1zM702 396h1v1h-1zM703 396h1v1h-1zM704 395h1v1h-1zM705 395h1v1h-1zM706 394h1v1h-1zM707 394h1v1h-1zM708 393h1v1h-1zM709 393h1v1h-1zM710 392h1v1h-1zM711 392h1v1h-1zM712 391h1v1h-1zM713 391h1v1h-1zM714 390h1v1h-1zM715 390h1v1h-1zM716 389h1v1h-1zM717 389h1v1h-1zM718 388h1v1h-1zM719 388h1v1h-1zM720 387h1v1h-1zM721 386h1v1h-1zM722 386h1v1h-1zM723 385h1v1h-1zM724 384h1v1h-1zM725 384h1v1h-1zM726 383h1v1h-1zM727 383h1v1h-1zM728 382h1v1h-1zM729 382h1v1h-1zM730 381h1v1h-1zM731 381h1v1h-1zM732 380h1v1h-1zM733 380h1v1h-1zM734 379h1v1h-1zM735 379h1v1h-1zM736 379h1v1h-1zM737 378h1v1h-1zM738 378h1v1h-1zM739 378h1v1h-1zM740 377h1v1h-1zM741 377h1v1h-1zM742 376h1v1h-1zM743 376h1v1h-1zM744 375h1v1h-1zM745 375h1v1h-1zM746 374h1v1h-1zM747 374h1v1h-1zM748 373h1v1h-1zM749 373h1v1h-1zM750 372h1v1h-1zM751 372h1v1h-1zM752 371h1v1h-1zM753 370h1v1h-1zM754 370h1v1h-1zM755 369h1v1h-1zM756 369h1v1h-1zM757 368h1v1h-1zM758 368h1v1h-1zM759 368h1v1h-1zM760 368h1v1h-1zM761 367h1v1h-1zM762 367h1v1h-1zM763 367h1v1h-1zM764 367h1v1h-1zM765 366h1v1h-1zM766 366h1v1h-1zM767 366h1v1h-1zM768 366h1v1h-1zM769 367h1v1h-1zM770 367h1v1h-1zM771 367h1v1h-1zM772 367h1v1h-1zM773 367h1v1h-1zM774 367h1v1h-1zM775 367h1v1h-1zM776 367h1v1h-1zM777 368h1v1h-1zM778 368h1v1h-1zM779 368h1v1h-1zM780 368h1v1h-1zM781 368h1v1h-1zM782 368h1v1h-1zM783 368h1v1h-1zM784 368h1v1h-1zM785 368h1v1h-1zM786 368h1v1h-1zM787 368h1v1h-1zM788 368h1v1h-1zM789 367h1v1h-1zM790 367h1v1h-1zM791 367h1v1h-1zM792 367h1v1h-1zM793 367h1v1h-1zM794 367h1v1h-1zM795 367h1v1h-1zM796 367h1v1h-1zM797 366h1v1h-1zM798 366h1v1h-1zM799 366h1v1h-1zM800 366h1v1h-1zM801 365h1v1h-1zM802 365h1v1h-1zM803 365h1v1h-1zM804 365h1v1h-1zM805 366h1v1h-1zM806 366h1v1h-1zM807 366h1v1h-1zM808 366h1v1h-1zM809 366h1v1h-1zM810 366h1v1h-1zM811 366h1v1h-1zM812 366h1v1h-1zM813 366h1v1h-1zM814 366h1v1h-1zM815 366h1v1h-1zM816 366h1v1h-1zM817 367h1v1h-1zM818 367h1v1h-1zM819 367h1v1h-1zM820 367h1v1h-1zM821 368h1v1h-1zM822 368h1v1h-1zM823 368h1v1h-1zM824 368h1v1h-1zM825 369h1v1h-1zM826 369h1v1h-1zM827 369h1v1h-1zM828 370h1v1h-1zM829 370h1v1h-1zM830 371h1v1h-1zM831 371h1v1h-1zM832 372h1v1h-1zM833 372h1v1h-1zM834 373h1v1h-1zM835 373h1v1h-1zM836 373h1v1h-1zM837 374h1v1h-1zM838 374h1v1h-1zM839 374h1v1h-1zM840 375h1v1h-1zM841 375h1v1h-1zM842 376h1v1h-1zM843 376h1v1h-1zM844 377h1v1h-1zM845 377h1v1h-1zM846 378h1v1h-1zM847 378h1v1h-1zM848 378h1v1h-1zM849 378h1v1h-1zM850 378h1v1h-1zM851 378h1v1h-1zM852 379h1v1h-1zM853 379h1v1h-1zM854 380h1v1h-1zM855 380h1v1h-1zM856 380h1v1h-1zM857 381h1v1h-1zM858 381h1v1h-1zM859 381h1v1h-1zM860 381h1v1h-1zM861 382h1v1h-1zM862 382h1v1h-1zM863 382h1v1h-1zM864 383h1v1h-1zM865 384h1v1h-1zM866 384h1v1h-1zM867 385h1v1h-1zM868 386h1v1h-1zM869 387h1v1h-1zM870 388h1v1h-1zM871 389h1v1h-1zM872 389h1v1h-1zM873 389h1v1h-1zM874 389h1v1h-1zM875 389h1v1h-1zM876 389h1v1h-1zM877 389h1v1h-1zM878 389h1v1h-1zM879 389h1v1h-1zM880 389h1v1h-1zM881 389h1v1h-1zM882 389h1v1h-1zM883 389h1v1h-1zM884 389h1v1h-1zM885 390h1v1h-1zM886 390h1v1h-1zM887 390h1v1h-1zM888 390h1v1h-1zM889 389h1v1h-1zM890 389h1v1h-1zM891 389h1v1h-1zM892 389h1v1h-1zM893 389h1v1h-1zM894 389h1v1h-1zM895 389h1v1h-1zM896 389h1v1h-1zM897 389h1v1h-1zM898 389h1v1h-1zM899 389h1v1h-1zM900 389h1v1h-1zM901 389h1v1h-1zM902 389h1v1h-1zM903 389h1v1h-1zM904 389h1v1h-1zM905 390h1v1h-1zM906 390h1v1h-1zM907 390h1v1h-1zM908 390h1v1h-1zM909 390h1v1h-1zM910 390h1v1h-1zM911 390h1v1h-1zM912 390h1v1h-1zM913 391h1v1h-1zM914 391h1v1h-1zM915 391h1v1h-1zM916 391h1v1h-1zM917 391h1v1h-1zM918 391h1v1h-1zM919 391h1v1h-1zM920 391h1v1h-1zM921 390h1v1h-1zM922 390h1v1h-1zM923 390h1v1h-1zM924 390h1v1h-1zM925 390h1v1h-1zM926 390h1v1h-1zM927 390h1v1h-1zM928 390h1v1h-1zM929 389h1v1h-1zM930 389h1v1h-1zM931 389h1v1h-1zM932 389h1v1h-1zM933 389h1v1h-1zM934 389h1v1h-1zM935 389h1v1h-1zM936 389h1v1h-1zM937 389h1v1h-1zM938 389h1v1h-1zM939 389h1v1h-1zM940 389h1v1h-1zM941 389h1v1h-1zM942 389h1v1h-1zM943 389h1v1h-1zM944 389h1v1h-1zM945 389h1v1h-1zM946 389h1v1h-1zM947 389h1v1h-1zM948 389h1v1h-1zM949 390h1v1h-1zM950 390h1v1h-1zM951 390h1v1h-1zM952 391h1v1h-1zM953 391h1v1h-1zM954 392h1v1h-1zM955 392h1v1h-1zM956 393h1v1h-1zM957 394h1v1h-1zM958 395h1v1h-1zM959 396h1v1h-1zM960 397h1v1h-1zM961 398h1v1h-1zM962 399h1v1h-1zM963 400h1v1h-1zM964 401h1v1h-1zM965 402h1v1h-1zM966 402h1v1h-1zM967 403h1v1h-1zM968 404h1v1h-1zM969 405h1v2h-1zM970 407h1v1h-1zM971 408h1v1h-1zM972 409h1v1h-1zM973 410h1v1h-1zM974 410h1v1h-1zM975 411h1v1h-1zM976 412h1v1h-1zM977 413h1v1h-1zM978 413h1v1h-1zM979 414h1v1h-1zM980 415h1v1h-1zM981 416h1v1h-1zM982 416h1v1h-1zM983 417h1v1h-1zM984 417h1v1h-1zM985 418h1v1h-1zM986 418h1v1h-1zM987 418h1v1h-1zM988 418h1v1h-1zM989 419h1v1h-1zM990 419h1v1h-1zM991 419h1v1h-1zM992 420h1v1h-1zM993 421h1v1h-1zM994 422h1v1h-1zM995 423h1v1h-1zM996 424h1v1h-1zM997 425h1v1h-1zM998 425h1v1h-1zM999 426h1v1h-1zM1000 427h1v1h-1zM1001 428h1v2h-1zM1002 430h1v1h-1zM1003 431h1v1h-1zM1004 432h1v1h-1zM1005 433h1v1h-1zM1006 434h1v1h-1zM1007 435h1v1h-1zM1008 436h1v1h-1zM1009 437h1v1h-1zM1010 438h1v1h-1zM1011 439h1v1h-1zM1012 440h1v1h-1zM1013 441h1v2h-1zM1014 443h1v1h-1zM1015 444h1v1h-1zM1016 445h1v1h-1zM1017 446h1v1h-1zM1018 446h1v1h-1zM1019 447h1v1h-1zM1020 448h1v1h-1zM1021 449h1v1h-1zM1022 449h1v1h-1zM1023 450h1v1h-1zM1024 451h1v1h-1zM1025 452h1v1h-1zM1026 452h1v1h-1zM1027 453h1v1h-1zM1028 454h1v1h-1zM1029 455h1v1h-1zM1030 455h1v1h-1zM1031 456h1v1h-1zM1032 457h1v1h-1zM1033 458h1v1h-1zM1034 458h1v1h-1zM1035 459h1v1h-1zM1036 460h1v1h-1zM1037 461h1v1h-1zM1038 461h1v1h-1zM1039 462h1v1h-1zM1040 463h1v1h-1zM1041 464h1v1h-1zM1042 465h1v1h-1zM1043 466h1v1h-1zM1044 467h1v1h-1zM1045 468h1v1h-1zM1046 469h1v1h-1zM1047 470h1v1h-1zM1048 471h1v1h-1zM1049 472h1v1h-1zM1050 473h1v1h-1zM1051 474h1v1h-1zM1052 475h1v1h-1zM1053 476h1v1h-1zM1054 476h1v1h-1zM1055 477h1v1h-1zM1056 478h1v1h-1zM1057 479h1v1h-1zM1058 480h1v1h-1zM1059 481h1v1h-1zM1060 482h1v1h-1zM1061 483h1v1h-1zM1062 483h1v1h-1zM1063 484h1v1h-1zM1064 485h1v1h-1zM1065 486h1v1h-1zM1066 487h1v1h-1zM1067 488h1v1h-1zM1068 489h1v1h-1zM1069 489h1v1h-1zM1070 490h1v1h-1zM1071 490h1v1h-1zM1072 491h1v1h-1zM1073 491h1v1h-1zM1074 492h1v1h-1zM1075 492h1v1h-1zM1076 492h1v1h-1zM1077 492h1v1h-1zM1078 492h1v1h-1zM1079 492h1v1h-1zM1080 492h1v1h-1zM1081 492h1v1h-1zM1082 492h1v1h-1zM1083 492h1v1h-1zM1084 492h1v1h-1zM1085 492h1v1h-1zM1086 492h1v1h-1zM1087 492h1v1h-1zM1088 492h1v1h-1zM1089 492h1v1h-1zM1090 492h1v1h-1zM1091 492h1v1h-1zM1092 492h1v1h-1zM1093 492h1v1h-1zM1094 492h1v1h-1zM1095 492h1v1h-1zM1096 492h1v1h-1zM1097 492h1v1h-1zM1098 492h1v1h-1zM1099 492h1v1h-1zM1100 492h1v1h-1zM1101 492h1v1h-1zM1102 492h1v1h-1zM1103 492h1v1h-1zM1104 492h1v1h-1zM1105 492h1v1h-1zM1106 492h1v1h-1zM1107 492h1v1h-1zM1108 492h1v1h-1zM1109 492h1v1h-1zM1110 492h1v1h-1zM1111 492h1v1h-1zM1112 492h1v1h-1zM1113 492h1v1h-1zM1114 492h1v1h-1zM1115 492h1v1h-1zM1116 492h1v1h-1zM1117 492h1v1h-1zM1118 492h1v1h-1zM1119 492h1v1h-1zM1120 492h1v1h-1zM1121 492h1v1h-1zM1122 492h1v1h-1zM1123 492h1v1h-1zM1124 492h1v1h-1zM1125 491h1v1h-1zM1126 491h1v1h-1zM1127 491h1v1h-1zM1128 491h1v1h-1zM1129 491h1v1h-1zM1130 491h1v1h-1zM1131 491h1v1h-1zM1132 491h1v1h-1zM1133 490h1v1h-1zM1134 490h1v1h-1zM1135 490h1v1h-1zM1136 490h1v1h-1zM1137 490h1v1h-1zM1138 490h1v1h-1zM1139 490h1v1h-1zM1140 490h1v1h-1zM1141 490h1v1h-1zM1142 490h1v1h-1zM1143 490h1v1h-1zM1144 490h1v1h-1zM1145 490h1v1h-1zM1146 490h1v1h-1zM1147 490h1v1h-1zM1148 490h1v1h-1zM1149 490h1v1h-1zM1150 490h1v1h-1zM1151 490h1v1h-1zM1152 490h1v1h-1zM1153 490h1v1h-1zM1154 490h1v1h-1zM1155 490h1v1h-1zM1156 489h1v1h-1zM1157 489h1v1h-1zM1158 488h1v1h-1zM1159 488h1v1h-1zM1160 487h1v1h-1zM1161 487h1v1h-1zM1162 486h1v1h-1zM1163 486h1v1h-1zM1164 485h1v1h-1zM1165 484h1v1h-1zM1166 484h1v1h-1zM1167 483h1v1h-1zM1168 482h1v1h-1zM1169 482h1v1h-1zM1170 481h1v1h-1zM1171 481h1v1h-1zM1172 480h1v1h-1zM1173 480h1v1h-1zM1174 479h1v1h-1zM1175 479h1v1h-1zM1176 478h1v1h-1zM1177 477h1v1h-1zM1178 477h1v1h-1zM1179 476h1v1h-1zM1180 475h1v1h-1zM1181 475h1v1h-1zM1182 474h1v1h-1zM1183 474h1v1h-1zM1184 474h1v1h-1zM1185 473h1v1h-1zM1186 473h1v1h-1zM1187 473h1v1h-1zM1188 473h1v1h-1zM1189 472h1v1h-1zM1190 472h1v1h-1zM1191 472h1v1h-1zM1192 472h1v1h-1zM1193 471h1v1h-1zM1194 471h1v1h-1zM1195 471h1v1h-1zM1196 471h1v1h-1zM1197 470h1v1h-1zM1198 470h1v1h-1zM1199 470h1v1h-1zM1200 470h1v1h-1zM1201 470h1v1h-1zM1202 470h1v1h-1zM1203 470h1v1h-1zM1204 470h1v1h-1zM1205 470h1v1h-1zM1206 470h1v1h-1zM1207 470h1v1h-1zM1208 470h1v1h-1zM1209 469h1v1h-1zM1210 469h1v1h-1zM1211 469h1v1h-1zM1212 468h1v1h-1zM1213 468h1v1h-1zM1214 467h1v1h-1zM1215 467h1v1h-1zM1216 467h1v1h-1zM1217 467h1v1h-1zM1218 467h1v1h-1zM1219 467h1v1h-1zM1220 467h1v1h-1zM1221 466h1v1h-1zM1222 466h1v1h-1zM1223 466h1v1h-1zM1224 466h1v1h-1zM1225 465h1v1h-1zM1226 465h1v1h-1zM1227 465h1v1h-1zM1228 464h1v1h-1zM1229 464h1v1h-1zM1230 463h1v1h-1zM1231 463h1v1h-1zM1232 462h1v1h-1zM1233 462h1v1h-1zM1234 461h1v1h-1zM1235 461h1v1h-1zM1236 460h1v1h-1zM1237 459h1v1h-1zM1238 459h1v1h-1zM1239 458h1v1h-1zM1240 457h1v1h-1zM1241 456h1v1h-1zM1242 456h1v1h-1zM1243 455h1v1h-1zM1244 454h1v1h-1zM1245 453h1v1h-1zM1246 453h1v1h-1zM1247 452h1v1h-1zM1248 451h1v1h-1zM1249 450h1v1h-1zM1250 449h1v1h-1zM1251 448h1v1h-1zM1252 447h1v1h-1zM1253 446h1v1h-1zM1254 445h1v1h-1z" fill="#0000cd" shape-rendering="crispEdges"/>
<path d="M3 99h1v1h-1zM4 100h1v1h-1zM5 101h1v1h-1zM6 102h1v1h-1zM7 103h1v1h-1zM8 104h1v2h-1zM9 106h1v1h-1zM10 107h1v2h-1zM11 109h1v1h-1zM12 110h1v2h-1zM13 112h1v2h-1zM14 114h1v2h-1zM15 116h1v2h-1zM16 118h1v2h-1zM17 120h1v2h-1zM18 122h1v2h-1zM19 124h1v3h-1zM20 127h1v2h-1zM21 129h1v2h-1zM22 131h1v2h-1zM23 133h1v3h-1zM24 136h1v3h-1zM25 139h1v4h-1zM26 143h1v3h-1zM27 146h1v3h-1zM28 149h1v3h-1zM29 152h1v3h-1zM30 155h1v3h-1zM31 158h1v3h-1zM32 161h1v4h-1zM33 165h1v3h-1zM34 168h1v4h-1zM35 172h1v3h-1zM36 175h1v3h-1zM37 178h1v4h-1zM38 182h1v3h-1zM39 185h1v3h-1zM40 188h1v3h-1zM41 191h1v3h-1zM42 194h1v3h-1zM43 197h1v2h-1zM44 199h1v2h-1zM45 201h1v1h-1zM46 202h1v2h-1zM47 204h1v1h-1zM48 205h1v2h-1zM49 207h1v2h-1zM50 209h1v2h-1zM51 211h1v1h-1zM52 212h1v2h-1zM53 214h1v1h-1zM54 215h1v2h-1zM55 217h1v1h-1zM56 218h1v2h-1zM57 220h1v2h-1zM58 222h1v2h-1zM59 224h1v1h-1zM60 224h1v1h-1zM61 225h1v1h-1zM62 225h1v1h-1zM63 225h1v1h-1zM64 224h1v1h-1zM65 224h1v1h-1zM66 223h1v1h-1zM67 223h1v1h-1zM68 221h1v2h-1zM69 219h1v2h-1zM70 217h1v2h-1zM71 215h1v2h-1zM72 213h1v2h-1zM73 211h1v2h-1zM74 209h1v2h-1zM75 206h1v3h-1zM76 204h1v2h-1zM77 201h1v3h-1zM78 199h1v2h-1zM79 196h1v3h-1zM80 194h1v2h-1zM81 192h1v2h-1zM82 190h1v2h-1zM83 187h1v3h-1zM84 184h1v3h-1zM85 180h1v4h-1zM86 177h1v3h-1zM87 174h1v3h-1zM88 171h1v3h-1zM89 168h1v3h-1zM90 165h1v3h-1zM91 162h1v3h-1zM92 160h1v2h-1zM93 158h1v2h-1zM94 156h1v2h-1zM95 154h1v2h-1zM96 152h1v2h-1zM97 150h1v2h-1zM98 148h1v2h-1zM99 147h1v1h-1zM100 146h1v1h-1zM101 145h1v1h-1zM102 144h1v1h-1zM103 143h1v1h-1zM104 142h1v1h-1zM105 142h1v1h-1zM106 141h1v1h-1zM107 141h1v1h-1zM108 140h1v1h-1zM109 140h1v1h-1zM110 139h1v1h-1zM111 139h1v1h-1zM112 138h1v1h-1zM113 137h1v1h-1zM114 136h1v1h-1zM115 135h1v1h-1zM116 133h1v2h-1zM117 131h1v2h-1zM118 129h1v2h-1zM119 128h1v1h-1zM120 127h1v1h-1zM121 126h1v1h-1zM122 125h1v1h-1zM123 124h1v1h-1zM124 124h1v1h-1zM125 123h1v1h-1zM126 123h1v1h-1zM127 123h1v1h-1zM128 124h1v1h-1zM129 124h1v1h-1zM130 125h1v1h-1zM131 125h1v1h-1zM132 126h1v2h-1zM133 128h1v1h-1zM134 129h1v2h-1zM135 131h1v1h-1zM136 132h1v1h-1zM137 133h1v1h-1zM138 134h1v1h-1zM139 135h1v1h-1zM140 136h1v1h-1zM141 137h1v2h-1zM142 139h1v1h-1zM143 140h1v1h-1zM144 141h1v1h-1zM145 142h1v1h-1zM146 143h1v1h-1zM147 144h1v1h-1zM148 145h1v1h-1zM149 146h1v1h-1zM150 147h1v1h-1zM151 148h1v1h-1zM152 148h1v1h-1zM153 147h1v1h-1zM154 147h1v1h-1zM155 147h1v1h-1zM156 147h1v1h-1zM157 146h1v1h-1zM158 146h1v1h-1zM159 146h1v1h-1zM160 145h1v1h-1zM161 144h1v1h-1zM162 143h1v1h-1zM163 142h1v1h-1zM164 141h1v1h-1zM165 141h1v1h-1zM166 140h1v1h-1zM167 140h1v1h-1zM168 140h1v1h-1zM169 139h1v1h-1zM170 139h1v1h-1zM171 139h1v1h-1zM172 139h1v1h-1zM173 139h1v1h-1zM174 139h1v1h-1zM175 139h1v1h-1zM176 139h1v1h-1zM177 140h1v1h-1zM178 140h1v1h-1zM179 140h1v1h-1zM180 141h1v1h-1zM181 142h1v1h-1zM182 142h1v1h-1zM183 143h1v1h-1zM184 143h1v1h-1zM185 144h1v1h-1zM186 144h1v1h-1zM187 144h1v1h-1zM188 144h1v1h-1zM189 145h1v1h-1zM190 145h1v1h-1zM191 145h1v1h-1zM192 145h1v1h-1zM193 144h1v1h-1zM194 144h1v1h-1zM195 144h1v1h-1zM196 144h1v1h-1zM197 143h1v1h-1zM198 143h1v1h-1zM199 143h1v1h-1zM200 142h1v1h-1zM201 142h1v1h-1zM202 141h1v1h-1zM203 141h1v1h-1zM204 140h1v1h-1zM205 139h1v1h-1zM206 139h1v1h-1zM207 138h1v1h-1zM208 137h1v1h-1zM209 136h1v1h-1zM210 136h1v1h-1zM211 135h1v1h-1zM212 135h1v1h-1zM213 135h1v1h-1zM214 135h1v1h-1zM215 135h1v1h-1zM216 135h1v1h-1zM217 135h1v1h-1zM218 135h1v1h-1zM219 135h1v1h-1zM220 135h1v1h-1zM221 136h1v1h-1zM222 136h1v1h-1zM223 136h1v1h-1zM224 137h1v1h-1zM225 137h1v1h-1zM226 138h1v1h-1zM227 138h1v1h-1zM228 137h1v1h-1zM229 137h1v1h-1zM230 136h1v1h-1zM231 136h1v1h-1zM232 135h1v1h-1zM233 135h1v1h-1zM234 134h1v1h-1zM235 134h1v1h-1zM236 133h1v1h-1zM237 133h1v1h-1zM238 132h1v1h-1zM239 132h1v1h-1zM240 132h1v1h-1zM241 132h1v1h-1zM242 132h1v1h-1zM243 132h1v1h-1zM244 132h1v1h-1zM245 132h1v1h-1zM246 132h1v1h-1zM247 132h1v1h-1zM248 132h1v1h-1zM249 132h1v1h-1zM250 132h1v1h-1zM251 132h1v1h-1zM252 133h1v1h-1zM253 133h1v1h-1zM254 134h1v1h-1zM255 134h1v1h-1zM256 134h1v1h-1zM257 135h1v1h-1zM258 135h1v1h-1zM259 135h1v1h-1zM260 135h1v1h-1zM261 136h1v1h-1zM262 136h1v1h-1zM263 136h1v1h-1zM264 136h1v1h-1zM265 137h1v1h-1zM266 137h1v1h-1zM267 137h1v1h-1zM268 137h1v1h-1zM269 138h1v1h-1zM270 138h1v1h-1zM271 138h1v1h-1zM272 138h1v1h-1zM273 137h1v1h-1zM274 137h1v1h-1zM275 137h1v1h-1zM276 136h1v1h-1zM277 135h1v1h-1zM278 134h1v1h-1zM279 133h1v1h-1zM280 133h1v1h-1zM281 132h1v1h-1zM282 132h1v1h-1zM283 132h1v1h-1zM284 132h1v1h-1zM285 131h1v1h-1zM286 131h1v1h-1zM287 131h1v1h-1zM288 131h1v1h-1zM289 131h1v1h-1zM290 131h1v1h-1zM291 131h1v1h-1zM292 131h1v1h-1zM293 131h1v1h-1zM294 131h1v1h-1zM295 131h1v1h-1zM296 131h1v1h-1zM297 132h1v1h-1zM298 132h1v1h-1zM299 132h1v1h-1zM300 132h1v1h-1zM301 133h1v1h-1zM302 133h1v1h-1zM303 133h1v1h-1zM304 133h1v1h-1zM305 133h1v1h-1zM306 133h1v1h-1zM307 133h1v1h-1zM308 134h1v1h-1zM309 135h1v1h-1zM310 135h1v1h-1zM311 136h1v1h-1zM312 137h1v1h-1zM313 137h1v1h-1zM314 138h1v1h-1zM315 138h1v1h-1zM316 139h1v1h-1zM317 139h1v1h-1zM318 140h1v1h-1zM319 140h1v1h-1zM320 141h1v1h-1zM321 142h1v1h-1zM322 142h1v1h-1zM323 143h1v1h-1zM324 144h1v1h-1zM325 145h1v1h-1zM326 145h1v1h-1zM327 146h1v1h-1zM328 147h1v1h-1zM329 148h1v1h-1zM330 148h1v1h-1zM331 149h1v1h-1zM332 150h1v1h-1zM333 151h1v1h-1zM334 152h1v1h-1zM335 153h1v1h-1zM336 154h1v1h-1zM337 155h1v1h-1zM338 155h1v1h-1zM339 156h1v1h-1zM340 156h1v1h-1zM341 157h1v1h-1zM342 157h1v1h-1zM343 157h1v1h-1zM344 158h1v1h-1zM345 159h1v1h-1zM346 160h1v1h-1zM347 161h1v1h-1zM348 162h1v2h-1zM349 164h1v1h-1zM350 165h1v2h-1zM351 167h1v1h-1zM352 168h1v2h-1zM353 170h1v2h-1zM354 172h1v2h-1zM355 174h1v3h-1zM356 177h1v2h-1zM357 179h1v3h-1zM358 182h1v2h-1zM359 184h1v2h-1zM360 186h1v1h-1zM361 187h1v1h-1zM362 188h1v1h-1zM363 189h1v1h-1zM364 190h1v1h-1zM365 191h1v1h-1zM366 192h1v1h-1zM367 193h1v1h-1zM368 194h1v1h-1zM369 195h1v1h-1zM370 196h1v1h-1zM371 197h1v1h-1zM372 198h1v1h-1zM373 199h1v1h-1zM374 200h1v1h-1zM375 201h1v1h-1zM376 202h1v1h-1zM377 203h1v1h-1zM378 203h1v1h-1zM379 204h1v1h-1zM380 205h1v1h-1zM381 206h1v1h-1zM382 206h1v1h-1zM383 207h1v1h-1zM384 208h1v1h-1zM385 209h1v1h-1zM386 209h1v1h-1zM387 210h1v1h-1zM388 211h1v1h-1zM389 211h1v1h-1zM390 212h1v1h-1zM391 212h1v1h-1zM392 213h1v1h-1zM393 214h1v1h-1zM394 214h1v1h-1zM395 215h1v1h-1zM396 216h1v1h-1zM397 217h1v2h-1zM398 219h1v1h-1zM399 220h1v1h-1zM400 221h1v1h-1zM401 222h1v1h-1zM402 223h1v1h-1zM403 224h1v1h-1zM404 225h1v1h-1zM405 226h1v1h-1zM406 226h1v1h-1zM407 227h1v1h-1zM408 227h1v1h-1zM409 227h1v1h-1zM410 227h1v1h-1zM411 227h1v1h-1zM412 227h1v1h-1zM413 226h1v1h-1zM414 226h1v1h-1zM415 226h1v1h-1zM416 225h1v1h-1zM417 224h1v1h-1zM418 224h1v1h-1zM419 223h1v1h-1zM420 223h1v1h-1zM421 224h1v1h-1zM422 224h1v1h-1zM423 224h1v1h-1zM424 225h1v1h-1zM425 226h1v1h-1zM426 226h1v1h-1zM427 227h1v1h-1zM428 227h1v1h-1zM429 228h1v1h-1zM430 228h1v1h-1zM431 228h1v1h-1zM432 228h1v1h-1zM433 229h1v1h-1zM434 229h1v1h-1zM435 229h1v1h-1zM436 230h1v1h-1zM437 230h1v1h-1zM438 231h1v1h-1zM439 231h1v1h-1zM440 232h1v1h-1zM441 233h1v1h-1zM442 233h1v1h-1zM443 234h1v1h-1zM444 235h1v1h-1zM445 236h1v1h-1zM446 236h1v1h-1zM447 237h1v1h-1zM448 238h1v1h-1zM449 239h1v1h-1zM450 240h1v1h-1zM451 241h1v1h-1zM452 242h1v1h-1zM453 242h1v1h-1zM454 243h1v1h-1zM455 243h1v1h-1zM456 244h1v1h-1zM457 244h1v1h-1zM458 245h1v1h-1zM459 245h1v1h-1zM460 245h1v1h-1zM461 246h1v1h-1zM462 246h1v1h-1zM463 246h1v1h-1zM464 247h1v1h-1zM465 247h1v1h-1zM466 248h1v1h-1zM467 248h1v1h-1zM468 249h1v1h-1zM469 250h1v1h-1zM470 250h1v1h-1zM471 251h1v1h-1zM472 251h1v1h-1zM473 252h1v1h-1zM474 252h1v1h-1zM475 252h1v1h-1zM476 253h1v1h-1zM477 253h1v1h-1zM478 254h1v1h-1zM479 254h1v1h-1zM480 255h1v1h-1zM481 255h1v1h-1zM482 256h1v1h-1zM483 256h1v1h-1zM484 257h1v1h-1zM485 257h1v1h-1zM486 258h1v1h-1zM487 258h1v1h-1zM488 259h1v1h-1zM489 259h1v1h-1zM490 260h1v1h-1zM491 260h1v1h-1zM492 261h1v1h-1zM493 262h1v1h-1zM494 262h1v1h-1zM495 263h1v1h-1zM496 264h1v1h-1zM497 265h1v2h-1zM498 267h1v1h-1zM499 268h1v1h-1zM500 269h1v1h-1zM501 270h1v2h-1zM502 272h1v1h-1zM503 273h1v1h-1zM504 274h1v1h-1zM505 275h1v2h-1zM506 277h1v1h-1zM507 278h1v1h-1zM508 279h1v1h-1zM509 280h1v2h-1zM510 282h1v1h-1zM511 283h1v1h-1zM512 284h1v1h-1zM513 285h1v2h-1zM514 287h1v1h-1zM515 288h1v1h-1zM516 289h1v2h-1zM517 291h1v2h-1zM518 293h1v2h-1zM519 295h1v1h-1zM520 296h1v2h-1zM521 298h1v2h-1zM522 300h1v2h-1zM523 302h1v2h-1zM524 304h1v2h-1zM525 306h1v2h-1zM526 308h1v2h-1zM527 310h1v2h-1zM528 312h1v2h-1zM529 314h1v2h-1zM530 316h1v2h-1zM531 318h1v3h-1zM532 321h1v2h-1zM533 323h1v2h-1zM534 325h1v2h-1zM535 327h1v2h-1zM536 329h1v2h-1zM537 331h1v1h-1zM538 332h1v2h-1zM539 334h1v1h-1zM540 335h1v2h-1zM541 337h1v2h-1zM542 339h1v2h-1zM543 341h1v2h-1zM544 343h1v2h-1zM545 345h1v2h-1zM546 347h1v2h-1zM547 349h1v2h-1zM548 351h1v2h-1zM549 353h1v2h-1zM550 355h1v2h-1zM551 357h1v2h-1zM552 359h1v2h-1zM553 361h1v1h-1zM554 362h1v2h-1zM555 364h1v1h-1zM556 365h1v1h-1zM557 366h1v2h-1zM558 368h1v1h-1zM559 369h1v1h-1zM560 370h1v1h-1zM561 370h1v1h-1zM562 371h1v1h-1zM563 371h1v1h-1zM564 372h1v1h-1zM565 372h1v1h-1zM566 373h1v1h-1zM567 373h1v1h-1zM568 374h1v1h-1zM569 374h1v1h-1zM570 375h1v1h-1zM571 375h1v1h-1zM572 376h1v1h-1zM573 377h1v1h-1zM574 377h1v1h-1zM575 378h1v1h-1zM576 379h1v1h-1zM577 380h1v1h-1zM578 380h1v1h-1zM579 381h1v1h-1zM580 381h1v1h-1zM581 382h1v1h-1zM582 382h1v1h-1zM583 382h1v1h-1zM584 383h1v1h-1zM585 383h1v1h-1zM586 384h1v1h-1zM587 384h1v1h-1zM588 385h1v1h-1zM589 385h1v1h-1zM590 386h1v1h-1zM591 386h1v1h-1zM592 386h1v1h-1zM593 387h1v1h-1zM594 387h1v1h-1zM595 387h1v1h-1zM596 388h1v1h-1zM597 389h1v1h-1zM598 389h1v1h-1zM599 390h1v1h-1zM600 390h1v1h-1zM601 391h1v1h-1zM602 391h1v1h-1zM603 391h1v1h-1zM604 390h1v1h-1zM605 390h1v1h-1zM606 389h1v1h-1zM607 389h1v1h-1zM608 389h1v1h-1zM609 388h1v1h-1zM610 388h1v1h-1zM611 388h1v1h-1zM612 389h1v1h-1zM613 389h1v1h-1zM614 390h1v1h-1zM615 390h1v1h-1zM616 390h1v1h-1zM617 391h1v1h-1zM618 391h1v1h-1zM619 391h1v1h-1zM620 392h1v1h-1zM621 393h1v1h-1zM622 393h1v1h-1zM623 394h1v1h-1zM624 395h1v1h-1zM625 396h1v1h-1zM626 396h1v1h-1zM627 397h1v1h-1zM628 398h1v1h-1zM629 398h1v1h-1zM630 399h1v1h-1zM631 399h1v1h-1zM632 400h1v1h-1zM633 401h1v1h-1zM634 401h1v1h-1zM635 402h1v1h-1zM636 402h1v1h-1zM637 402h1v1h-1zM638 402h1v1h-1zM639 402h1v1h-1zM640 402h1v1h-1zM641 402h1v1h-1zM642 402h1v1h-1zM643 402h1v1h-1zM644 402h1v1h-1zM645 401h1v1h-1zM646 401h1v1h-1zM647 401h1v1h-1zM648 400h1v1h-1zM649 399h1v1h-1zM650 399h1v1h-1zM651 398h1v1h-1zM652 398h1v1h-1zM653 398h1v1h-1zM654 398h1v1h-1zM655 398h1v1h-1zM656 397h1v1h-1zM657 396h1v1h-1zM658 396h1v1h-1zM659 395h1v1h-1zM660 395h1v1h-1zM661 394h1v1h-1zM662 394h1v1h-1zM663 394h1v1h-1zM664 394h1v1h-1zM665 394h1v1h-1zM666 394h1v1h-1zM667 394h1v1h-1zM668 394h1v1h-1zM669 395h1v1h-1zM670 395h1v1h-1zM671 395h1v1h-1zM672 395h1v1h-1zM673 395h1v1h-1zM674 395h1v1h-1zM675 395h1v1h-1zM676 395h1v1h-1zM677 395h1v1h-1zM678 395h1v1h-1zM679 395h1v1h-1zM680 395h1v1h-1zM681 395h1v1h-1zM682 395h1v1h-1zM683 395h1v1h-1zM684 394h1v1h-1zM685 394h1v1h-1zM686 393h1v1h-1zM687 393h1v1h-1zM688 393h1v1h-1zM689 393h1v1h-1zM690 393h1v1h-1zM691 393h1v1h-1zM692 392h1v1h-1zM693 391h1v1h-1zM694 391h1v1h-1zM695 390h1v1h-1zM696 390h1v1h-1zM697 390h1v1h-1zM698 390h1v1h-1zM699 390h1v1h-1zM700 390h1v1h-1zM701 390h1v1h-1zM702 390h1v1h-1zM703 390h1v1h-1zM704 389h1v1h-1zM705 388h1v1h-1zM706 388h1v1h-1zM707 387h1v1h-1zM708 387h1v1h-1zM709 386h1v1h-1zM710 386h1v1h-1zM711 386h1v1h-1zM712 385h1v1h-1zM713 384h1v1h-1zM714 384h1v1h-1zM715 383h1v1h-1zM716 382h1v1h-1zM717 381h1v1h-1zM718 381h1v1h-1zM719 380h1v1h-1zM720 379h1v1h-1zM721 378h1v1h-1zM722 377h1v1h-1zM723 376h1v1h-1zM724 375h1v1h-1zM725 374h1v1h-1zM726 373h1v1h-1zM727 372h1v1h-1zM728 371h1v1h-1zM729 369h1v2h-1zM730 368h1v1h-1zM731 367h1v1h-1zM732 366h1v1h-1zM733 365h1v1h-1zM734 364h1v1h-1zM735 363h1v1h-1zM736 362h1v1h-1zM737 362h1v1h-1zM738 361h1v1h-1zM739 361h1v1h-1zM740 360h1v1h-1zM741 359h1v1h-1zM742 359h1v1h-1zM743 358h1v1h-1zM744 357h1v1h-1zM745 356h1v1h-1zM746 355h1v1h-1zM747 354h1v1h-1zM748 353h1v1h-1zM749 352h1v1h-1zM750 351h1v1h-1zM751 350h1v1h-1zM752 350h1v1h-1zM753 349h1v1h-1zM754 349h1v1h-1zM755 349h1v1h-1zM756 348h1v1h-1zM757 348h1v1h-1zM758 347h1v1h-1zM759 347h1v1h-1zM760 346h1v1h-1zM761 346h1v1h-1zM762 345h1v1h-1zM763 345h1v1h-1zM764 345h1v1h-1zM765 345h1v1h-1zM766 345h1v1h-1zM767 345h1v1h-1zM768 346h1v1h-1zM769 347h1v1h-1zM770 347h1v1h-1zM771 348h1v1h-1zM772 349h1v1h-1zM773 350h1v1h-1zM774 350h1v1h-1zM775 351h1v1h-1zM776 352h1v1h-1zM777 353h1v2h-1zM778 355h1v1h-1zM779 356h1v1h-1zM780 357h1v1h-1zM781 358h1v1h-1zM782 359h1v1h-1zM783 360h1v1h-1zM784 361h1v1h-1zM785 362h1v2h-1zM786 364h1v1h-1zM787 365h1v1h-1zM788 366h1v1h-1zM789 367h1v1h-1zM790 367h1v1h-1zM791 368h1v1h-1zM792 369h1v1h-1zM793 369h1v1h-1zM794 370h1v1h-1zM795 370h1v1h-1zM796 370h1v1h-1zM797 371h1v1h-1zM798 371h1v1h-1zM799 371h1v1h-1zM800 372h1v1h-1zM801 372h1v1h-1zM802 373h1v1h-1zM803 373h1v1h-1zM804 374h1v1h-1zM805 375h1v1h-1zM806 376h1v1h-1zM807 377h1v1h-1zM808 378h1v1h-1zM809 379h1v2h-1zM810 381h1v1h-1zM811 382h1v1h-1zM812 383h1v1h-1zM813 383h1v1h-1zM814 384h1v1h-1zM815 384h1v1h-1zM816 385h1v1h-1zM817 386h1v1h-1zM818 386h1v1h-1zM819 387h1v1h-1zM820 388h1v1h-1zM821 389h1v1h-1zM822 390h1v1h-1zM823 391h1v1h-1zM824 392h1v1h-1zM825 392h1v1h-1zM826 393h1v1h-1zM827 393h1v1h-1zM828 394h1v1h-1zM829 394h1v1h-1zM830 395h1v1h-1zM831 395h1v1h-1zM832 395h1v1h-1zM833 395h1v1h-1zM834 395h1v1h-1zM835 395h1v1h-1zM836 394h1v1h-1zM837 393h1v1h-1zM838 393h1v1h-1zM839 392h1v1h-1zM840 392h1v1h-1zM841 392h1v1h-1zM842 392h1v1h-1zM843 392h1v1h-1zM844 391h1v1h-1zM845 391h1v1h-1zM846 390h1v1h-1zM847 390h1v1h-1zM848 390h1v1h-1zM849 389h1v1h-1zM850 389h1v1h-1zM851 389h1v1h-1zM852 389h1v1h-1zM853 390h1v1h-1zM854 390h1v1h-1zM855 390h1v1h-1zM856 390h1v1h-1zM857 391h1v1h-1zM858 391h1v1h-1zM859 391h1v1h-1zM860 391h1v1h-1zM861 392h1v1h-1zM862 392h1v1h-1zM863 392h1v1h-1zM864 393h1v1h-1zM865 393h1v1h-1zM866 394h1v1h-1zM867 394h1v1h-1zM868 394h1v1h-1zM869 395h1v1h-1zM870 395h1v1h-1zM871 395h1v1h-1zM872 395h1v1h-1zM873 394h1v1h-1zM874 394h1v1h-1zM875 394h1v1h-1zM876 393h1v1h-1zM877 393h1v1h-1zM878 392h1v1h-1zM879 392h1v1h-1zM880 391h1v1h-1zM881 390h1v1h-1zM882 389h1v1h-1zM883 388h1v1h-1zM884 387h1v1h-1zM885 387h1v1h-1zM886 386h1v1h-1zM887 386h1v1h-1zM888 385h1v1h-1zM889 385h1v1h-1zM890 384h1v1h-1zM891 384h1v1h-1zM892 384h1v1h-1zM893 383h1v1h-1zM894 383h1v1h-1zM895 383h1v1h-1zM896 384h1v1h-1zM897 384h1v1h-1zM898 385h1v1h-1zM899 385h1v1h-1zM900 385h1v1h-1zM901 386h1v1h-1zM902 386h1v1h-1zM903 386h1v1h-1zM904 387h1v1h-1zM905 388h1v1h-1zM906 388h1v1h-1zM907 389h1v1h-1zM908 390h1v1h-1zM909 390h1v1h-1zM910 391h1v1h-1zM911 391h1v1h-1zM912 391h1v1h-1zM913 391h1v1h-1zM914 391h1v1h-1zM915 391h1v1h-1zM916 391h1v1h-1zM917 391h1v1h-1zM918 391h1v1h-1zM919 391h1v1h-1zM920 390h1v1h-1zM921 390h1v1h-1zM922 389h1v1h-1zM923 389h1v1h-1zM924 388h1v1h-1zM925 387h1v1h-1zM926 387h1v1h-1zM927 386h1v1h-1zM928 385h1v1h-1zM929 384h1v1h-1zM930 384h1v1h-1zM931 383h1v1h-1zM932 383h1v1h-1zM933 384h1v1h-1zM934 384h1v1h-1zM935 384h1v1h-1zM936 385h1v1h-1zM937 385h1v1h-1zM938 386h1v1h-1zM939 386h1v1h-1zM940 387h1v1h-1zM941 388h1v1h-1zM942 389h1v1h-1zM943 390h1v1h-1zM944 391h1v1h-1zM945 392h1v1h-1zM946 392h1v1h-1zM947 393h1v1h-1zM948 394h1v1h-1zM949 395h1v1h-1zM950 395h1v1h-1zM951 396h1v1h-1zM952 397h1v1h-1zM953 398h1v2h-1zM954 400h1v1h-1zM955 401h1v1h-1zM956 402h1v2h-1zM957 404h1v1h-1zM958 405h1v2h-1zM959 407h1v1h-1zM960 408h1v2h-1zM961 410h1v1h-1zM962 411h1v2h-1zM963 413h1v1h-1zM964 414h1v1h-1zM965 415h1v2h-1zM966 417h1v1h-1zM967 418h1v1h-1zM968 419h1v2h-1zM969 421h1v2h-1zM970 423h1v2h-1zM971 425h1v1h-1zM972 426h1v2h-1zM973 428h1v1h-1zM974 429h1v2h-1zM975 431h1v1h-1zM976 432h1v2h-1zM977 434h1v1h-1zM978 435h1v2h-1zM979 437h1v1h-1zM980 438h1v2h-1zM981 440h1v2h-1zM982 442h1v2h-1zM983 444h1v2h-1zM984 446h1v2h-1zM985 448h1v1h-1zM986 449h1v2h-1zM987 451h1v1h-1zM988 452h1v1h-1zM989 453h1v2h-1zM990 455h1v1h-1zM991 456h1v1h-1zM992 457h1v1h-1zM993 458h1v2h-1zM994 460h1v1h-1zM995 461h1v1h-1zM996 462h1v2h-1zM997 464h1v1h-1zM998 465h1v2h-1zM999 467h1v1h-1zM1000 468h1v2h-1zM1001 470h1v1h-1zM1002 471h1v2h-1zM1003 473h1v1h-1zM1004 474h1v1h-1zM1005 475h1v2h-1zM1006 477h1v1h-1zM1007 478h1v1h-1zM1008 479h1v1h-1zM1009 480h1v2h-1zM1010 482h1v1h-1zM1011 483h1v1h-1zM1012 484h1v1h-1zM1013 485h1v1h-1zM1014 485h1v1h-1zM1015 486h1v1h-1zM1016 486h1v1h-1zM1017 487h1v1h-1zM1018 487h1v1h-1zM1019 487h1v1h-1zM1020 487h1v1h-1zM1021 488h1v1h-1zM1022 488h1v1h-1zM1023 488h1v1h-1zM1024 488h1v1h-1zM1025 488h1v1h-1zM1026 488h1v1h-1zM1027 488h1v1h-1zM1028 488h1v1h-1zM1029 487h1v1h-1zM1030 487h1v1h-1zM1031 487h1v1h-1zM1032 487h1v1h-1zM1033 487h1v1h-1zM1034 487h1v1h-1zM1035 487h1v1h-1zM1036 487h1v1h-1zM1037 487h1v1h-1zM1038 487h1v1h-1zM1039 487h1v1h-1zM1040 487h1v1h-1zM1041 488h1v1h-1zM1042 488h1v1h-1zM1043 488h1v1h-1zM1044 489h1v1h-1zM1045 489h1v1h-1zM1046 490h1v1h-1zM1047 490h1v1h-1zM1048 491h1v1h-1zM1049 491h1v1h-1zM1050 492h1v1h-1zM1051 492h1v1h-1zM1052 492h1v1h-1zM1053 493h1v1h-1zM1054 493h1v1h-1zM1055 493h1v1h-1zM1056 494h1v1h-1zM1057 494h1v1h-1zM1058 495h1v1h-1zM1059 495h1v1h-1zM1060 495h1v1h-1zM1061 496h1v1h-1zM1062 496h1v1h-1zM1063 496h1v1h-1zM1064 496h1v1h-1zM1065 497h1v1h-1zM1066 497h1v1h-1zM1067 497h1v1h-1zM1068 497h1v1h-1zM1069 497h1v1h-1zM1070 497h1v1h-1zM1071 497h1v1h-1zM1072 497h1v1h-1zM1073 497h1v1h-1zM1074 497h1v1h-1zM1075 497h1v1h-1zM1076 497h1v1h-1zM1077 497h1v1h-1zM1078 497h1v1h-1zM1079 497h1v1h-1zM1080 497h1v1h-1zM1081 497h1v1h-1zM1082 497h1v1h-1zM1083 497h1v1h-1zM1084 497h1v1h-1zM1085 497h1v1h-1zM1086 497h1v1h-1zM1087 497h1v1h-1zM1088 497h1v1h-1zM1089 498h1v1h-1zM1090 498h1v1h-1zM1091 498h1v1h-1zM1092 498h1v1h-1zM1093 498h1v1h-1zM1094 498h1v1h-1zM1095 498h1v1h-1zM1096 498h1v1h-1zM1097 498h1v1h-1zM1098 498h1v1h-1zM1099 498h1v1h-1zM1100 497h1v1h-1zM1101 497h1v1h-1zM1102 496h1v1h-1zM1103 496h1v1h-1zM1104 495h1v1h-1zM1105 495h1v1h-1zM1106 494h1v1h-1zM1107 494h1v1h-1zM1108 493h1v1h-1zM1109 493h1v1h-1zM1110 492h1v1h-1zM1111 492h1v1h-1zM1112 492h1v1h-1zM1113 491h1v1h-1zM1114 491h1v1h-1zM1115 491h1v1h-1zM1116 490h1v1h-1zM1117 490h1v1h-1zM1118 489h1v1h-1zM1119 489h1v1h-1zM1120 488h1v1h-1zM1121 488h1v1h-1zM1122 487h1v1h-1zM1123 487h1v1h-1zM1124 487h1v1h-1zM1125 486h1v1h-1zM1126 486h1v1h-1zM1127 486h1v1h-1zM1128 486h1v1h-1zM1129 485h1v1h-1zM1130 485h1v1h-1zM1131 485h1v1h-1zM1132 485h1v1h-1zM1133 484h1v1h-1zM1134 484h1v1h-1zM1135 484h1v1h-1zM1136 484h1v1h-1zM1137 483h1v1h-1zM1138 483h1v1h-1zM1139 483h1v1h-1zM1140 483h1v1h-1zM1141 484h1v1h-1zM1142 484h1v1h-1zM1143 484h1v1h-1zM1144 484h1v1h-1zM1145 484h1v1h-1zM1146 484h1v1h-1zM1147 484h1v1h-1zM1148 484h1v1h-1zM1149 483h1v1h-1zM1150 483h1v1h-1zM1151 483h1v1h-1zM1152 482h1v1h-1zM1153 482h1v1h-1zM1154 481h1v1h-1zM1155 481h1v1h-1zM1156 480h1v1h-1zM1157 480h1v1h-1zM1158 479h1v1h-1zM1159 479h1v1h-1zM1160 478h1v1h-1zM1161 477h1v1h-1zM1162 477h1v1h-1zM1163 476h1v1h-1zM1164 475h1v1h-1zM1165 474h1v1h-1zM1166 474h1v1h-1zM1167 473h1v1h-1zM1168 472h1v1h-1zM1169 471h1v1h-1zM1170 470h1v1h-1zM1171 469h1v1h-1zM1172 468h1v1h-1zM1173 468h1v1h-1zM1174 467h1v1h-1zM1175 467h1v1h-1zM1176 466h1v1h-1zM1177 465h1v1h-1zM1178 464h1v1h-1zM1179 463h1v1h-1zM1180 462h1v1h-1zM1181 462h1v1h-1zM1182 461h1v1h-1zM1183 461h1v1h-1zM1184 461h1v1h-1zM1185 460h1v1h-1zM1186 460h1v1h-1zM1187 460h1v1h-1zM1188 460h1v1h-1zM1189 459h1v1h-1zM1190 459h1v1h-1zM1191 459h1v1h-1zM1192 459h1v1h-1zM1193 458h1v1h-1zM1194 458h1v1h-1zM1195 458h1v1h-1zM1196 458h1v1h-1zM1197 457h1v1h-1zM1198 457h1v1h-1zM1199 457h1v1h-1zM1200 457h1v1h-1zM1201 456h1v1h-1zM1202 456h1v1h-1zM1203 456h1v1h-1zM1204 456h1v1h-1zM1205 456h1v1h-1zM1206 456h1v1h-1zM1207 456h1v1h-1zM1208 455h1v1h-1zM1209 455h1v1h-1zM1210 454h1v1h-1zM1211 454h1v1h-1zM1212 454h1v1h-1zM1213 453h1v1h-1zM1214 453h1v1h-1zM1215 453h1v1h-1zM1216 453h1v1h-1zM1217 454h1v1h-1zM1218 454h1v1h-1zM1219 454h1v1h-1zM1220 454h1v1h-1zM1221 455h1v1h-1zM1222 455h1v1h-1zM1223 455h1v1h-1zM1224 456h1v1h-1zM1225 456h1v1h-1zM1226 457h1v1h-1zM1227 457h1v1h-1zM1228 457h1v1h-1zM1229 457h1v1h-1zM1230 457h1v1h-1zM1231 457h1v1h-1zM1232 456h1v1h-1zM1233 455h1v1h-1zM1234 455h1v1h-1zM1235 454h1v1h-1zM1236 454h1v1h-1zM1237 453h1v1h-1zM1238 453h1v1h-1zM1239 453h1v1h-1zM1240 452h1v1h-1zM1241 451h1v1h-1zM1242 451h1v1h-1zM1243 450h1v1h-1zM1244 449h1v1h-1zM1245 447h1v2h-1zM1246 446h1v1h-1zM1247 445h1v1h-1zM1248 443h1v2h-1zM1249 441h1v2h-1zM1250 439h1v2h-1zM1251 438h1v1h-1zM1252 436h1v2h-1zM1253 434h1v2h-1zM1254 432h1v2h-1z" fill="#ff0000" shape-rendering="crispEdges"/>
<path d="M3 117h1v2h-1zM4 119h1v2h-1zM5 121h1v3h-1zM6 124h1v2h-1zM7 126h1v3h-1zM8 129h1v4h-1zM9 133h1v4h-1zM10 137h1v4h-1zM11 141h1v5h-1zM12 146h1v4h-1zM13 150h1v5h-1zM14 155h1v4h-1zM15 159h1v4h-1zM16 163h1v4h-1zM17 167h1v4h-1zM18 171h1v4h-1zM19 175h1v3h-1zM20 178h1v4h-1zM21 182h1v4h-1zM22 186h1v4h-1zM23 190h1v4h-1zM24 194h1v6h-1zM25 200h1v6h-1zM26 206h1v6h-1zM27 212h1v6h-1zM28 218h1v5h-1zM29 223h1v5h-1zM30 228h1v5h-1zM31 233h1v5h-1zM32 238h1v5h-1zM33 243h1v6h-1zM34 249h1v5h-1zM35 254h1v5h-1zM36 259h1v5h-1zM37 264h1v4h-1zM38 268h1v5h-1zM39 273h1v4h-1zM40 277h1v2h-1zM41 279h1v3h-1zM42 282h1v2h-1zM43 284h1v2h-1zM44 280h1v4h-1zM45 277h1v3h-1zM46 273h1v4h-1zM47 270h1v3h-1zM48 266h1v4h-1zM49 262h1v4h-1zM50 258h1v4h-1zM51 254h1v4h-1zM52 248h1v6h-1zM53 243h1v5h-1zM54 237h1v6h-1zM55 233h1v4h-1zM56 230h1v3h-1zM57 227h1v3h-1zM58 224h1v3h-1zM59 220h1v4h-1zM60 214h1v6h-1zM61 209h1v5h-1zM62 203h1v6h-1zM63 198h1v5h-1zM64 194h1v4h-1zM65 190h1v4h-1zM66 186h1v4h-1zM67 180h1v6h-1zM68 174h1v6h-1zM69 167h1v7h-1zM70 161h1v6h-1zM71 154h1v7h-1zM72 148h1v6h-1zM73 141h1v7h-1zM74 135h1v6h-1zM75 127h1v8h-1zM76 118h1v9h-1zM77 109h1v9h-1zM78 100h1v9h-1zM79 94h1v6h-1zM80 90h1v4h-1zM81 86h1v4h-1zM82 82h1v4h-1zM83 79h1v3h-1zM84 77h1v2h-1zM85 75h1v2h-1zM86 73h1v2h-1zM87 72h1v1h-1zM88 73h1v1h-1zM89 74h1v2h-1zM90 76h1v1h-1zM91 77h1v3h-1zM92 80h1v5h-1zM93 85h1v5h-1zM94 90h1v5h-1zM95 95h1v6h-1zM96 101h1v7h-1zM97 108h1v7h-1zM98 115h1v7h-1zM99 122h1v7h-1zM100 129h1v6h-1zM101 135h1v7h-1zM102 142h1v6h-1zM103 148h1v6h-1zM104 154h1v4h-1zM105 158h1v5h-1zM106 163h1v4h-1zM107 167h1v4h-1zM108 171h1v3h-1zM109 174h1v4h-1zM110 178h1v3h-1zM111 181h1v2h-1zM112 181h1v1h-1zM113 180h1v1h-1zM114 180h1v1h-1zM115 178h1v2h-1zM116 174h1v4h-1zM117 170h1v4h-1zM118 166h1v4h-1zM119 162h1v4h-1zM120 157h1v5h-1zM121 151h1v6h-1zM122 146h1v5h-1zM123 142h1v4h-1zM124 139h1v3h-1zM125 135h1v4h-1zM126 132h1v3h-1zM127 129h1v3h-1zM128 126h1v3h-1zM129 123h1v3h-1zM130 120h1v3h-1zM131 118h1v2h-1zM132 117h1v1h-1zM133 117h1v1h-1zM134 116h1v1h-1zM135 116h1v1h-1zM136 116h1v1h-1zM137 115h1v1h-1zM138 115h1v1h-1zM139 115h1v2h-1zM140 117h1v2h-1zM141 119h1v3h-1zM142 122h1v2h-1zM143 124h1v3h-1zM144 127h1v2h-1zM145 129h1v3h-1zM146 132h1v2h-1zM147 134h1v3h-1zM148 137h1v2h-1zM149 139h1v3h-1zM150 142h1v2h-1zM151 144h1v2h-1zM152 146h1v1h-1zM153 146h1v1h-1zM154 147h1v1h-1zM155 147h1v2h-1zM156 149h1v3h-1zM157 152h1v2h-1zM158 154h1v3h-1zM159 157h1v2h-1zM160 158h1v1h-1zM161 159h1v1h-1zM162 159h1v1h-1zM163 159h1v1h-1zM164 158h1v1h-1zM165 157h1v1h-1zM166 156h1v1h-1zM167 155h1v1h-1zM168 155h1v1h-1zM169 154h1v1h-1zM170 154h1v1h-1zM171 154h1v1h-1zM172 154h1v1h-1zM173 153h1v1h-1zM174 153h1v1h-1zM175 153h1v1h-1zM176 152h1v1h-1zM177 150h1v2h-1zM178 149h1v1h-1zM179 148h1v1h-1zM180 147h1v1h-1zM181 146h1v1h-1zM182 146h1v1h-1zM183 145h1v1h-1zM184 144h1v1h-1zM185 144h1v1h-1zM186 143h1v1h-1zM187 143h1v1h-1zM188 141h1v2h-1zM189 140h1v1h-1zM190 138h1v2h-1zM191 137h1v1h-1zM192 135h1v2h-1zM193 134h1v1h-1zM194 132h1v2h-1zM195 131h1v1h-1zM196 129h1v2h-1zM197 127h1v2h-1zM198 125h1v2h-1zM199 124h1v1h-1zM200 123h1v1h-1zM201 121h1v2h-1zM202 120h1v1h-1zM203 119h1v1h-1zM204 118h1v1h-1zM205 117h1v1h-1zM206 117h1v1h-1zM207 116h1v1h-1zM208 115h1v1h-1zM209 115h1v1h-1zM210 114h1v1h-1zM211 114h1v1h-1zM212 115h1v2h-1zM213 117h1v2h-1zM214 119h1v2h-1zM215 121h1v2h-1zM216 123h1v3h-1zM217 126h1v4h-1zM218 130h1v3h-1zM219 133h1v3h-1zM220 136h1v3h-1zM221 139h1v3h-1zM222 142h1v3h-1zM223 145h1v2h-1zM224 147h1v2h-1zM225 149h1v2h-1zM226 151h1v2h-1zM227 153h1v2h-1zM228 155h1v1h-1zM229 155h1v1h-1zM230 156h1v1h-1zM231 156h1v1h-1zM232 154h1v2h-1zM233 153h1v1h-1zM234 151h1v2h-1zM235 149h1v2h-1zM236 146h1v3h-1zM237 142h1v4h-1zM238 139h1v3h-1zM239 137h1v2h-1zM240 135h1v2h-1zM241 133h1v2h-1zM242 131h1v2h-1zM243 130h1v1h-1zM244 129h1v1h-1zM245 127h1v2h-1zM246 126h1v1h-1zM247 125h1v1h-1zM248 125h1v1h-1zM249 125h1v1h-1zM250 125h1v1h-1zM251 125h1v1h-1zM252 126h1v2h-1zM253 128h1v1h-1zM254 129h1v2h-1zM255 131h1v1h-1zM256 132h1v1h-1zM257 133h1v1h-1zM258 134h1v1h-1zM259 135h1v1h-1zM260 134h1v1h-1zM261 133h1v1h-1zM262 133h1v1h-1zM263 132h1v1h-1zM264 132h1v1h-1zM265 131h1v1h-1zM266 131h1v1h-1zM267 131h1v1h-1zM268 131h1v1h-1zM269 131h1v1h-1zM270 131h1v1h-1zM271 131h1v1h-1zM272 130h1v1h-1zM273 130h1v1h-1zM274 129h1v1h-1zM275 129h1v1h-1zM276 128h1v1h-1zM277 128h1v1h-1zM278 127h1v1h-1zM279 127h1v1h-1zM280 128h1v2h-1zM281 130h1v2h-1zM282 132h1v2h-1zM283 134h1v1h-1zM284 135h1v1h-1zM285 135h1v1h-1zM286 136h1v1h-1zM287 136h1v1h-1zM288 136h1v1h-1zM289 136h1v1h-1zM290 136h1v1h-1zM291 136h1v1h-1zM292 135h1v1h-1zM293 135h1v1h-1zM294 134h1v1h-1zM295 134h1v1h-1zM296 134h1v1h-1zM297 135h1v1h-1zM298 135h1v1h-1zM299 135h1v1h-1zM300 134h1v1h-1zM301 134h1v1h-1zM302 133h1v1h-1zM303 133h1v1h-1zM304 133h1v1h-1zM305 134h1v1h-1zM306 134h1v1h-1zM307 134h1v1h-1zM308 135h1v2h-1zM309 137h1v2h-1zM310 139h1v2h-1zM311 141h1v2h-1zM312 143h1v2h-1zM313 145h1v2h-1zM314 147h1v2h-1zM315 149h1v2h-1zM316 151h1v2h-1zM317 153h1v2h-1zM318 155h1v2h-1zM319 157h1v2h-1zM320 159h1v1h-1zM321 160h1v2h-1zM322 162h1v1h-1zM323 163h1v1h-1zM324 164h1v2h-1zM325 166h1v1h-1zM326 167h1v2h-1zM327 169h1v1h-1zM328 170h1v1h-1zM329 170h1v1h-1zM330 171h1v1h-1zM331 171h1v1h-1zM332 172h1v1h-1zM333 173h1v2h-1zM334 175h1v1h-1zM335 176h1v1h-1zM336 176h1v1h-1zM337 176h1v1h-1zM338 176h1v1h-1zM339 176h1v1h-1zM340 176h1v1h-1zM341 175h1v1h-1zM342 175h1v1h-1zM343 175h1v1h-1zM344 176h1v1h-1zM345 177h1v1h-1zM346 178h1v1h-1zM347 179h1v2h-1zM348 181h1v3h-1zM349 184h1v2h-1zM350 186h1v3h-1zM351 189h1v3h-1zM352 192h1v2h-1zM353 194h1v3h-1zM354 197h1v2h-1zM355 199h1v4h-1zM356 203h1v5h-1zM357 208h1v6h-1zM358 214h1v5h-1zM359 219h1v4h-1zM360 223h1v2h-1zM361 225h1v2h-1zM362 227h1v2h-1zM363 229h1v2h-1zM364 231h1v1h-1zM365 231h1v1h-1zM366 232h1v1h-1zM367 232h1v1h-1zM368 232h1v1h-1zM369 231h1v1h-1zM370 231h1v1h-1zM371 231h1v1h-1zM372 230h1v1h-1zM373 229h1v1h-1zM374 228h1v1h-1zM375 226h1v2h-1zM376 223h1v3h-1zM377 220h1v3h-1zM378 217h1v3h-1zM379 215h1v2h-1zM380 215h1v1h-1zM381 215h1v1h-1zM382 215h1v1h-1zM383 215h1v1h-1zM384 216h1v1h-1zM385 216h1v1h-1zM386 217h1v1h-1zM387 217h1v1h-1zM388 217h1v1h-1zM389 217h1v1h-1zM390 217h1v1h-1zM391 217h1v1h-1zM392 217h1v1h-1zM393 218h1v1h-1zM394 218h1v1h-1zM395 218h1v1h-1zM396 219h1v2h-1zM397 221h1v2h-1zM398 223h1v2h-1zM399 225h1v1h-1zM400 226h1v1h-1zM401 227h1v1h-1zM402 227h1v1h-1zM403 228h1v1h-1zM404 229h1v1h-1zM405 230h1v1h-1zM406 230h1v1h-1zM407 231h1v1h-1zM408 232h1v1h-1zM409 233h1v1h-1zM410 233h1v1h-1zM411 234h1v1h-1zM412 234h1v1h-1zM413 234h1v1h-1zM414 234h1v1h-1zM415 234h1v1h-1zM416 233h1v1h-1zM417 231h1v2h-1zM418 230h1v1h-1zM419 229h1v1h-1zM420 229h1v1h-1zM421 229h1v1h-1zM422 229h1v1h-1zM423 229h1v1h-1zM424 230h1v1h-1zM425 231h1v1h-1zM426 231h1v1h-1zM427 232h1v1h-1zM428 233h1v1h-1zM429 233h1v1h-1zM430 234h1v1h-1zM431 234h1v1h-1zM432 235h1v1h-1zM433 235h1v1h-1zM434 236h1v1h-1zM435 236h1v1h-1zM436 237h1v1h-1zM437 238h1v2h-1zM438 240h1v1h-1zM439 241h1v1h-1zM440 242h1v1h-1zM441 243h1v1h-1zM442 244h1v1h-1zM443 245h1v1h-1zM444 246h1v1h-1zM445 247h1v1h-1zM446 248h1v1h-1zM447 249h1v1h-1zM448 250h1v2h-1zM449 252h1v1h-1zM450 253h1v2h-1zM451 255h1v1h-1zM452 256h1v1h-1zM453 257h1v2h-1zM454 259h1v1h-1zM455 260h1v1h-1zM456 261h1v1h-1zM457 262h1v2h-1zM458 264h1v1h-1zM459 265h1v1h-1zM460 265h1v1h-1zM461 264h1v1h-1zM462 264h1v1h-1zM463 264h1v1h-1zM464 264h1v1h-1zM465 264h1v1h-1zM466 264h1v1h-1zM467 264h1v1h-1zM468 264h1v1h-1zM469 264h1v1h-1zM470 264h1v1h-1zM471 264h1v1h-1zM472 263h1v1h-1zM473 262h1v1h-1zM474 261h1v1h-1zM475 260h1v1h-1zM476 259h1v1h-1zM477 258h1v1h-1zM478 258h1v1h-1zM479 257h1v1h-1zM480 258h1v1h-1zM481 258h1v1h-1zM482 259h1v1h-1zM483 259h1v1h-1zM484 260h1v1h-1zM485 261h1v1h-1zM486 261h1v1h-1zM487 262h1v1h-1zM488 262h1v1h-1zM489 262h1v1h-1zM490 262h1v1h-1zM491 262h1v2h-1zM492 264h1v2h-1zM493 266h1v2h-1zM494 268h1v2h-1zM495 270h1v3h-1zM496 273h1v3h-1zM497 276h1v3h-1zM498 279h1v3h-1zM499 282h1v3h-1zM500 285h1v3h-1zM501 288h1v3h-1zM502 291h1v3h-1zM503 294h1v3h-1zM504 297h1v4h-1zM505 301h1v3h-1zM506 304h1v4h-1zM507 308h1v3h-1zM508 311h1v4h-1zM509 315h1v3h-1zM510 318h1v4h-1zM511 322h1v3h-1zM512 325h1v3h-1zM513 328h1v3h-1zM514 331h1v3h-1zM515 334h1v3h-1zM516 337h1v2h-1zM517 339h1v3h-1zM518 342h1v2h-1zM519 344h1v3h-1zM520 347h1v2h-1zM521 349h1v2h-1zM522 351h1v2h-1zM523 353h1v2h-1zM524 355h1v2h-1zM525 357h1v2h-1zM526 359h1v2h-1zM527 361h1v3h-1zM528 364h1v2h-1zM529 366h1v3h-1zM530 369h1v2h-1zM531 371h1v2h-1zM532 373h1v1h-1zM533 374h1v2h-1zM534 376h1v1h-1zM535 377h1v1h-1zM536 376h1v1h-1zM537 376h1v1h-1zM538 375h1v1h-1zM539 375h1v1h-1zM540 375h1v1h-1zM541 374h1v1h-1zM542 374h1v1h-1zM543 374h1v1h-1zM544 375h1v2h-1zM545 377h1v1h-1zM546 378h1v2h-1zM547 380h1v1h-1zM548 380h1v1h-1zM549 381h1v1h-1zM550 381h1v1h-1zM551 381h1v1h-1zM552 381h1v1h-1zM553 380h1v1h-1zM554 380h1v1h-1zM555 380h1v1h-1zM556 381h1v2h-1zM557 383h1v1h-1zM558 384h1v2h-1zM559 386h1v1h-1zM560 386h1v1h-1zM561 386h1v1h-1zM562 386h1v1h-1zM563 385h1v2h-1zM564 383h1v2h-1zM565 380h1v3h-1zM566 378h1v2h-1zM567 376h1v2h-1zM568 375h1v1h-1zM569 375h1v1h-1zM570 374h1v1h-1zM571 374h1v1h-1zM572 375h1v1h-1zM573 376h1v1h-1zM574 377h1v1h-1zM575 378h1v1h-1zM576 379h1v1h-1zM577 380h1v1h-1zM578 380h1v1h-1zM579 381h1v1h-1zM580 382h1v1h-1zM581 383h1v2h-1zM582 385h1v1h-1zM583 386h1v2h-1zM584 388h1v2h-1zM585 390h1v2h-1zM586 392h1v2h-1zM587 394h1v3h-1zM588 397h1v2h-1zM589 399h1v2h-1zM590 401h1v2h-1zM591 403h1v2h-1zM592 403h1v1h-1zM593 403h1v1h-1zM594 402h1v1h-1zM595 402h1v1h-1zM596 402h1v1h-1zM597 403h1v1h-1zM598 403h1v1h-1zM599 403h1v1h-1zM600 402h1v1h-1zM601 401h1v1h-1zM602 401h1v1h-1zM603 400h1v1h-1zM604 399h1v1h-1zM605 397h1v2h-1zM606 396h1v1h-1zM607 395h1v1h-1zM608 393h1v2h-1zM609 391h1v2h-1zM610 389h1v2h-1zM611 388h1v1h-1zM612 389h1v1h-1zM613 389h1v1h-1zM614 390h1v1h-1zM615 390h1v1h-1zM616 390h1v1h-1zM617 390h1v1h-1zM618 390h1v1h-1zM619 390h1v1h-1zM620 391h1v1h-1zM621 392h1v1h-1zM622 393h1v1h-1zM623 394h1v1h-1zM624 395h1v2h-1zM625 397h1v2h-1zM626 399h1v2h-1zM627 401h1v1h-1zM628 402h1v1h-1zM629 403h1v2h-1zM630 405h1v1h-1zM631 406h1v1h-1zM632 407h1v2h-1zM633 409h1v2h-1zM634 411h1v2h-1zM635 413h1v1h-1zM636 413h1v1h-1zM637 414h1v1h-1zM638 414h1v1h-1zM639 414h1v1h-1zM640 413h1v1h-1zM641 413h1v1h-1zM642 412h1v1h-1zM643 412h1v1h-1zM644 411h1v1h-1zM645 410h1v1h-1zM646 409h1v1h-1zM647 407h1v2h-1zM648 405h1v2h-1zM649 403h1v2h-1zM650 401h1v2h-1zM651 398h1v3h-1zM652 396h1v2h-1zM653 394h1v2h-1zM654 392h1v2h-1zM655 390h1v2h-1zM656 388h1v2h-1zM657 386h1v2h-1zM658 384h1v2h-1zM659 382h1v2h-1zM660 381h1v1h-1zM661 379h1v2h-1zM662 378h1v1h-1zM663 377h1v1h-1zM664 376h1v1h-1zM665 375h1v1h-1zM666 374h1v1h-1zM667 373h1v1h-1zM668 374h1v2h-1zM669 376h1v2h-1zM670 378h1v2h-1zM671 380h1v1h-1zM672 381h1v1h-1zM673 381h1v1h-1zM674 382h1v1h-1zM675 382h1v1h-1zM676 383h1v1h-1zM677 384h1v2h-1zM678 386h1v1h-1zM679 387h1v2h-1zM680 389h1v2h-1zM681 391h1v2h-1zM682 393h1v2h-1zM683 395h1v2h-1zM684 397h1v1h-1zM685 398h1v1h-1zM686 398h1v1h-1zM687 399h1v1h-1zM688 399h1v1h-1zM689 399h1v1h-1zM690 399h1v1h-1zM691 399h1v1h-1zM692 399h1v1h-1zM693 399h1v1h-1zM694 399h1v1h-1zM695 399h1v1h-1zM696 399h1v1h-1zM697 399h1v1h-1zM698 399h1v1h-1zM699 399h1v1h-1zM700 398h1v1h-1zM701 397h1v1h-1zM702 397h1v1h-1zM703 396h1v1h-1zM704 394h1v2h-1zM705 393h1v1h-1zM706 391h1v2h-1zM707 389h1v2h-1zM708 386h1v3h-1zM709 384h1v2h-1zM710 381h1v3h-1zM711 378h1v3h-1zM712 375h1v3h-1zM713 373h1v2h-1zM714 370h1v3h-1zM715 367h1v3h-1zM716 363h1v4h-1zM717 359h1v4h-1zM718 355h1v4h-1zM719 352h1v3h-1zM720 348h1v4h-1zM721 344h1v4h-1zM722 340h1v4h-1zM723 336h1v4h-1zM724 333h1v3h-1zM725 331h1v2h-1zM726 328h1v3h-1zM727 326h1v2h-1zM728 325h1v1h-1zM729 324h1v1h-1zM730 323h1v1h-1zM731 322h1v1h-1zM732 323h1v1h-1zM733 323h1v1h-1zM734 324h1v1h-1zM735 324h1v1h-1zM736 325h1v2h-1zM737 327h1v1h-1zM738 328h1v2h-1zM739 330h1v2h-1zM740 332h1v2h-1zM741 334h1v3h-1zM742 337h1v2h-1zM743 339h1v2h-1zM744 341h1v2h-1zM745 343h1v2h-1zM746 345h1v2h-1zM747 347h1v1h-1zM748 348h1v1h-1zM749 349h1v1h-1zM750 349h1v1h-1zM751 350h1v1h-1zM752 351h1v1h-1zM753 352h1v2h-1zM754 354h1v1h-1zM755 355h1v1h-1zM756 356h1v1h-1zM757 357h1v1h-1zM758 357h1v1h-1zM759 358h1v1h-1zM760 358h1v1h-1zM761 359h1v1h-1zM762 359h1v1h-1zM763 359h1v1h-1zM764 360h1v1h-1zM765 361h1v1h-1zM766 361h1v1h-1zM767 362h1v2h-1zM768 364h1v2h-1zM769 366h1v2h-1zM770 368h1v2h-1zM771 370h1v2h-1zM772 372h1v1h-1zM773 373h1v2h-1zM774 375h1v1h-1zM775 376h1v1h-1zM776 377h1v1h-1zM777 378h1v2h-1zM778 380h1v1h-1zM779 381h1v1h-1zM780 381h1v1h-1zM781 382h1v1h-1zM782 382h1v1h-1zM783 382h1v1h-1zM784 383h1v1h-1zM785 384h1v2h-1zM786 386h1v1h-1zM787 387h1v1h-1zM788 386h1v1h-1zM789 385h1v1h-1zM790 384h1v1h-1zM791 383h1v1h-1zM792 382h1v1h-1zM793 381h1v1h-1zM794 380h1v1h-1zM795 379h1v1h-1zM796 378h1v1h-1zM797 376h1v2h-1zM798 375h1v1h-1zM799 374h1v1h-1zM800 375h1v1h-1zM801 376h1v2h-1zM802 378h1v1h-1zM803 379h1v1h-1zM804 380h1v1h-1zM805 381h1v1h-1zM806 382h1v1h-1zM807 383h1v2h-1zM808 385h1v2h-1zM809 387h1v2h-1zM810 389h1v2h-1zM811 391h1v2h-1zM812 393h1v2h-1zM813 395h1v2h-1zM814 397h1v2h-1zM815 399h1v1h-1zM816 400h1v2h-1zM817 402h1v2h-1zM818 404h1v2h-1zM819 406h1v2h-1zM820 408h1v1h-1zM821 409h1v1h-1zM822 410h1v1h-1zM823 411h1v1h-1zM824 411h1v1h-1zM825 410h1v1h-1zM826 410h1v1h-1zM827 410h1v1h-1zM828 410h1v1h-1zM829 409h1v1h-1zM830 409h1v1h-1zM831 409h1v1h-1zM832 408h1v1h-1zM833 408h1v1h-1zM834 407h1v1h-1zM835 406h1v2h-1zM836 403h1v3h-1zM837 401h1v2h-1zM838 398h1v3h-1zM839 395h1v3h-1zM840 393h1v2h-1zM841 390h1v3h-1zM842 388h1v2h-1zM843 386h1v2h-1zM844 384h1v2h-1zM845 382h1v2h-1zM846 380h1v2h-1zM847 377h1v3h-1zM848 374h1v3h-1zM849 372h1v2h-1zM850 369h1v3h-1zM851 367h1v2h-1zM852 366h1v1h-1zM853 366h1v1h-1zM854 365h1v1h-1zM855 365h1v1h-1zM856 366h1v1h-1zM857 367h1v1h-1zM858 368h1v1h-1zM859 369h1v2h-1zM860 371h1v2h-1zM861 373h1v2h-1zM862 375h1v2h-1zM863 377h1v3h-1zM864 380h1v4h-1zM865 384h1v4h-1zM866 388h1v4h-1zM867 392h1v4h-1zM868 396h1v4h-1zM869 400h1v4h-1zM870 404h1v4h-1zM871 408h1v3h-1zM872 410h1v1h-1zM873 411h1v1h-1zM874 411h1v1h-1zM875 411h1v1h-1zM876 411h1v1h-1zM877 410h1v1h-1zM878 410h1v1h-1zM879 409h1v2h-1zM880 407h1v2h-1zM881 404h1v3h-1zM882 402h1v2h-1zM883 399h1v3h-1zM884 396h1v3h-1zM885 393h1v3h-1zM886 390h1v3h-1zM887 387h1v3h-1zM888 384h1v3h-1zM889 381h1v3h-1zM890 378h1v3h-1zM891 376h1v2h-1zM892 375h1v1h-1zM893 375h1v1h-1zM894 374h1v1h-1zM895 374h1v1h-1zM896 374h1v1h-1zM897 375h1v1h-1zM898 375h1v1h-1zM899 375h1v1h-1zM900 376h1v2h-1zM901 378h1v1h-1zM902 379h1v2h-1zM903 381h1v1h-1zM904 382h1v1h-1zM905 383h1v1h-1zM906 384h1v1h-1zM907 385h1v1h-1zM908 385h1v1h-1zM909 386h1v1h-1zM910 386h1v1h-1zM911 386h1v1h-1zM912 387h1v1h-1zM913 387h1v1h-1zM914 388h1v1h-1zM915 388h1v1h-1zM916 388h1v1h-1zM917 389h1v1h-1zM918 389h1v1h-1zM919 389h1v1h-1zM920 388h1v1h-1zM921 387h1v1h-1zM922 387h1v1h-1zM923 386h1v1h-1zM924 385h1v1h-1zM925 385h1v1h-1zM926 384h1v1h-1zM927 384h1v1h-1zM928 385h1v1h-1zM929 385h1v1h-1zM930 386h1v1h-1zM931 386h1v1h-1zM932 387h1v1h-1zM933 388h1v1h-1zM934 388h1v1h-1zM935 389h1v1h-1zM936 390h1v2h-1zM937 392h1v1h-1zM938 393h1v2h-1zM939 395h1v1h-1zM940 396h1v2h-1zM941 398h1v2h-1zM942 400h1v2h-1zM943 402h1v2h-1zM944 404h1v2h-1zM945 406h1v1h-1zM946 407h1v2h-1zM947 409h1v1h-1zM948 410h1v2h-1zM949 412h1v2h-1zM950 414h1v2h-1zM951 416h1v2h-1zM952 418h1v2h-1zM953 420h1v2h-1zM954 422h1v2h-1zM955 424h1v3h-1zM956 427h1v3h-1zM957 430h1v3h-1zM958 433h1v3h-1zM959 436h1v3h-1zM960 439h1v3h-1zM961 442h1v3h-1zM962 445h1v3h-1zM963 448h1v3h-1zM964 451h1v3h-1zM965 454h1v4h-1zM966 458h1v3h-1zM967 461h1v3h-1zM968 464h1v2h-1zM969 466h1v3h-1zM970 469h1v2h-1zM971 471h1v2h-1zM972 473h1v2h-1zM973 475h1v2h-1zM974 477h1v2h-1zM975 479h1v1h-1zM976 479h1v1h-1zM977 479h1v1h-1zM978 479h1v1h-1zM979 479h1v1h-1zM980 480h1v1h-1zM981 481h1v1h-1zM982 481h1v1h-1zM983 482h1v1h-1zM984 482h1v1h-1zM985 482h1v1h-1zM986 482h1v1h-1zM987 482h1v1h-1zM988 482h1v1h-1zM989 481h1v1h-1zM990 481h1v1h-1zM991 481h1v1h-1zM992 481h1v1h-1zM993 481h1v1h-1zM994 481h1v1h-1zM995 481h1v1h-1zM996 482h1v1h-1zM997 483h1v1h-1zM998 483h1v1h-1zM999 484h1v1h-1zM1000 485h1v1h-1zM1001 486h1v1h-1zM1002 486h1v1h-1zM1003 487h1v1h-1zM1004 488h1v1h-1zM1005 489h1v2h-1zM1006 491h1v1h-1zM1007 492h1v1h-1zM1008 493h1v1h-1zM1009 494h1v1h-1zM1010 495h1v1h-1zM1011 496h1v1h-1zM1012 497h1v1h-1zM1013 498h1v1h-1zM1014 499h1v1h-1zM1015 500h1v1h-1zM1016 500h1v1h-1zM1017 499h1v1h-1zM1018 499h1v1h-1zM1019 499h1v1h-1zM1020 498h1v1h-1zM1021 497h1v1h-1zM1022 496h1v1h-1zM1023 495h1v1h-1zM1024 494h1v1h-1zM1025 493h1v1h-1zM1026 492h1v1h-1zM1027 491h1v1h-1zM1028 490h1v1h-1zM1029 488h1v2h-1zM1030 487h1v1h-1zM1031 486h1v1h-1zM1032 484h1v2h-1zM1033 482h1v2h-1zM1034 480h1v2h-1zM1035 479h1v1h-1zM1036 479h1v1h-1zM1037 478h1v1h-1zM1038 478h1v1h-1zM1039 478h1v1h-1zM1040 479h1v1h-1zM1041 480h1v1h-1zM1042 481h1v1h-1zM1043 482h1v1h-1zM1044 483h1v2h-1zM1045 485h1v1h-1zM1046 486h1v2h-1zM1047 488h1v1h-1zM1048 489h1v2h-1zM1049 491h1v1h-1zM1050 492h1v2h-1zM1051 494h1v1h-1zM1052 495h1v2h-1zM1053 497h1v1h-1zM1054 498h1v2h-1zM1055 500h1v1h-1zM1056 501h1v2h-1zM1057 503h1v2h-1zM1058 505h1v2h-1zM1059 507h1v2h-1zM1060 509h1v1h-1zM1061 510h1v1h-1zM1062 511h1v1h-1zM1063 512h1v1h-1zM1064 512h1v1h-1zM1065 513h1v1h-1zM1066 513h1v1h-1zM1067 513h1v1h-1zM1068 512h1v1h-1zM1069 512h1v1h-1zM1070 511h1v1h-1zM1071 511h1v1h-1zM1072 512h1v1h-1zM1073 512h1v1h-1zM1074 513h1v1h-1zM1075 513h1v1h-1zM1076 511h1v2h-1zM1077 510h1v1h-1zM1078 508h1v2h-1zM1079 506h1v2h-1zM1080 504h1v2h-1zM1081 501h1v3h-1zM1082 499h1v2h-1zM1083 497h1v2h-1zM1084 495h1v2h-1zM1085 493h1v2h-1zM1086 491h1v2h-1zM1087 490h1v1h-1zM1088 489h1v1h-1zM1089 489h1v1h-1zM1090 488h1v1h-1zM1091 488h1v1h-1zM1092 487h1v1h-1zM1093 485h1v2h-1zM1094 484h1v1h-1zM1095 483h1v1h-1zM1096 482h1v1h-1zM1097 481h1v1h-1zM1098 481h1v1h-1zM1099 480h1v1h-1zM1100 480h1v1h-1zM1101 480h1v1h-1zM1102 480h1v1h-1zM1103 480h1v1h-1zM1104 480h1v1h-1zM1105 479h1v1h-1zM1106 479h1v1h-1zM1107 479h1v1h-1zM1108 479h1v1h-1zM1109 479h1v1h-1zM1110 479h1v1h-1zM1111 479h1v1h-1zM1112 479h1v1h-1zM1113 478h1v1h-1zM1114 478h1v1h-1zM1115 478h1v1h-1zM1116 479h1v1h-1zM1117 480h1v1h-1zM1118 480h1v1h-1zM1119 481h1v1h-1zM1120 482h1v1h-1zM1121 483h1v2h-1zM1122 485h1v1h-1zM1123 486h1v1h-1zM1124 487h1v1h-1zM1125 488h1v1h-1zM1126 489h1v1h-1zM1127 490h1v1h-1zM1128 490h1v1h-1zM1129 490h1v1h-1zM1130 490h1v1h-1zM1131 490h1v1h-1zM1132 491h1v1h-1zM1133 491h1v1h-1zM1134 492h1v1h-1zM1135 492h1v1h-1zM1136 491h1v1h-1zM1137 490h1v1h-1zM1138 490h1v1h-1zM1139 489h1v1h-1zM1140 488h1v1h-1zM1141 488h1v1h-1zM1142 487h1v1h-1zM1143 487h1v1h-1zM1144 486h1v1h-1zM1145 485h1v1h-1zM1146 484h1v1h-1zM1147 483h1v1h-1zM1148 482h1v1h-1zM1149 482h1v1h-1zM1150 481h1v1h-1zM1151 481h1v1h-1zM1152 479h1v2h-1zM1153 477h1v2h-1zM1154 475h1v2h-1zM1155 474h1v1h-1zM1156 472h1v2h-1zM1157 470h1v2h-1zM1158 468h1v2h-1zM1159 465h1v3h-1zM1160 463h1v2h-1zM1161 461h1v2h-1zM1162 459h1v2h-1zM1163 456h1v3h-1zM1164 453h1v3h-1zM1165 450h1v3h-1zM1166 447h1v3h-1zM1167 445h1v2h-1zM1168 443h1v2h-1zM1169 441h1v2h-1zM1170 439h1v2h-1zM1171 438h1v1h-1zM1172 437h1v1h-1zM1173 436h1v1h-1zM1174 435h1v1h-1zM1175 434h1v1h-1zM1176 434h1v1h-1zM1177 434h1v1h-1zM1178 434h1v1h-1zM1179 434h1v1h-1zM1180 435h1v1h-1zM1181 436h1v2h-1zM1182 438h1v1h-1zM1183 439h1v2h-1zM1184 441h1v3h-1zM1185 444h1v2h-1zM1186 446h1v3h-1zM1187 449h1v2h-1zM1188 451h1v2h-1zM1189 453h1v2h-1zM1190 455h1v2h-1zM1191 457h1v2h-1zM1192 459h1v2h-1zM1193 461h1v2h-1zM1194 463h1v2h-1zM1195 465h1v1h-1zM1196 466h1v1h-1zM1197 467h1v2h-1zM1198 469h1v1h-1zM1199 470h1v1h-1zM1200 471h1v1h-1zM1201 472h1v1h-1zM1202 472h1v1h-1zM1203 473h1v1h-1zM1204 473h1v1h-1zM1205 473h1v1h-1zM1206 473h1v1h-1zM1207 473h1v1h-1zM1208 471h1v2h-1zM1209 470h1v1h-1zM1210 468h1v2h-1zM1211 467h1v1h-1zM1212 466h1v1h-1zM1213 464h1v2h-1zM1214 463h1v1h-1zM1215 462h1v1h-1zM1216 461h1v1h-1zM1217 460h1v1h-1zM1218 460h1v1h-1zM1219 459h1v1h-1zM1220 457h1v2h-1zM1221 456h1v1h-1zM1222 454h1v2h-1zM1223 453h1v1h-1zM1224 452h1v1h-1zM1225 451h1v1h-1zM1226 450h1v1h-1zM1227 449h1v1h-1zM1228 448h1v1h-1zM1229 448h1v1h-1zM1230 447h1v1h-1zM1231 446h1v2h-1zM1232 444h1v2h-1zM1233 441h1v3h-1zM1234 439h1v2h-1zM1235 437h1v2h-1zM1236 435h1v2h-1zM1237 434h1v1h-1zM1238 432h1v2h-1zM1239 431h1v1h-1zM1240 429h1v2h-1zM1241 427h1v2h-1zM1242 425h1v2h-1zM1243 422h1v3h-1zM1244 419h1v3h-1zM1245 417h1v2h-1zM1246 414h1v3h-1zM1247 411h1v3h-1zM1248 408h1v3h-1zM1249 406h1v2h-1zM1250 403h1v3h-1zM1251 401h1v2h-1zM1252 399h1v2h-1zM1253 398h1v1h-1zM1254 396h1v2h-1z" fill="#ffa500" shape-rendering="crispEdges"/>
</g></svg>
<svg x="3" y="555" width="1576" height="95" overflow="hidden"><g transform="translate(-3,-555)">
<path d="M3 616h1v1h-1zM4 617h1v1h-1zM5 618h1v1h-1zM6 618h1v1h-1zM7 619h1v1h-1zM8 620h1v1h-1zM9 621h1v2h-1zM10 623h1v1h-1zM11 624h1v1h-1zM12 625h1v1h-1zM13 626h1v1h-1zM14 627h1v1h-1zM15 628h1v1h-1zM16 628h1v1h-1zM17 627h1v1h-1zM18 627h1v1h-1zM19 627h1v1h-1zM20 628h1v1h-1zM21 629h1v1h-1zM22 629h1v1h-1zM23 630h1v1h-1zM24 631h1v1h-1zM25 632h1v2h-1zM26 634h1v1h-1zM27 635h1v1h-1zM28 635h1v1h-1zM29 636h1v1h-1zM30 636h1v1h-1zM31 636h1v1h-1zM32 636h1v1h-1zM33 637h1v1h-1zM34 637h1v1h-1zM35 637h1v1h-1zM36 636h1v1h-1zM37 634h1v2h-1zM38 633h1v1h-1zM39 632h1v1h-1zM40 630h1v2h-1zM41 628h1v2h-1zM42 626h1v2h-1zM43 622h1v4h-1zM44 618h1v4h-1zM45 613h1v5h-1zM46 609h1v4h-1zM47 606h1v3h-1zM48 606h1v1h-1zM49 606h1v1h-1zM50 606h1v1h-1zM51 606h1v1h-1zM52 606h1v1h-1zM53 605h1v1h-1zM54 605h1v1h-1zM55 605h1v1h-1zM56 606h1v2h-1zM57 608h1v1h-1zM58 609h1v2h-1zM59 610h1v2h-1zM60 607h1v3h-1zM61 603h1v4h-1zM62 600h1v3h-1zM63 598h1v2h-1zM64 597h1v1h-1zM65 595h1v2h-1zM66 594h1v1h-1zM67 593h1v1h-1zM68 592h1v1h-1zM69 590h1v2h-1zM70 589h1v1h-1zM71 588h1v1h-1zM72 588h1v1h-1zM73 587h1v1h-1zM74 587h1v1h-1zM75 587h1v1h-1zM76 587h1v1h-1zM77 586h1v1h-1zM78 586h1v1h-1zM79 586h1v1h-1zM80 587h1v1h-1zM81 588h1v2h-1zM82 590h1v1h-1zM83 591h1v1h-1zM84 591h1v1h-1zM85 592h1v1h-1zM86 592h1v1h-1zM87 592h1v1h-1zM88 593h1v1h-1zM89 594h1v1h-1zM90 594h1v1h-1zM91 595h1v2h-1zM92 597h1v2h-1zM93 599h1v3h-1zM94 602h1v2h-1zM95 604h1v2h-1zM96 606h1v1h-1zM97 607h1v1h-1zM98 608h1v1h-1zM99 609h1v1h-1zM100 610h1v1h-1zM101 610h1v1h-1zM102 611h1v1h-1zM103 611h1v1h-1zM104 609h1v2h-1zM105 608h1v1h-1zM106 606h1v2h-1zM107 605h1v1h-1zM108 605h1v1h-1zM109 604h1v1h-1zM110 604h1v1h-1zM111 604h1v1h-1zM112 603h1v1h-1zM113 602h1v1h-1zM114 602h1v1h-1zM115 601h1v1h-1zM116 600h1v1h-1zM117 599h1v1h-1zM118 599h1v1h-1zM119 598h1v1h-1zM120 597h1v1h-1zM121 596h1v1h-1zM122 596h1v1h-1zM123 595h1v1h-1zM124 595h1v1h-1zM125 596h1v1h-1zM126 596h1v1h-1zM127 596h1v1h-1zM128 596h1v1h-1zM129 596h1v1h-1zM130 596h1v1h-1zM131 596h1v1h-1zM132 597h1v2h-1zM133 599h1v1h-1zM134 600h1v2h-1zM135 602h1v1h-1zM136 601h1v1h-1zM137 600h1v1h-1zM138 600h1v1h-1zM139 599h1v1h-1zM140 600h1v1h-1zM141 601h1v2h-1zM142 603h1v1h-1zM143 604h1v1h-1zM144 604h1v1h-1zM145 605h1v1h-1zM146 605h1v1h-1zM147 605h1v1h-1zM148 605h1v1h-1zM149 604h1v1h-1zM150 604h1v1h-1zM151 604h1v1h-1zM152 604h1v1h-1zM153 603h1v1h-1zM154 603h1v1h-1zM155 603h1v1h-1zM156 604h1v1h-1zM157 605h1v2h-1zM158 607h1v1h-1zM159 608h1v1h-1zM160 607h1v1h-1zM161 606h1v1h-1zM162 605h1v1h-1zM163 604h1v1h-1zM164 603h1v1h-1zM165 602h1v1h-1zM166 602h1v1h-1zM167 601h1v1h-1zM168 602h1v1h-1zM169 602h1v1h-1zM170 603h1v1h-1zM171 603h1v1h-1zM172 603h1v1h-1zM173 602h1v1h-1zM174 602h1v1h-1zM175 602h1v1h-1zM176 602h1v1h-1zM177 603h1v1h-1zM178 603h1v1h-1zM179 603h1v1h-1zM180 602h1v1h-1zM181 602h1v1h-1zM182 601h1v1h-1zM183 601h1v1h-1zM184 600h1v1h-1zM185 600h1v1h-1zM186 599h1v1h-1zM187 599h1v1h-1zM188 598h1v1h-1zM189 598h1v1h-1zM190 597h1v1h-1zM191 597h1v1h-1zM192 597h1v1h-1zM193 596h1v1h-1zM194 596h1v1h-1zM195 596h1v1h-1zM196 596h1v1h-1zM197 596h1v1h-1zM198 596h1v1h-1zM199 596h1v1h-1zM200 596h1v1h-1zM201 595h1v1h-1zM202 595h1v1h-1zM203 595h1v1h-1zM204 596h1v1h-1zM205 596h1v1h-1zM206 597h1v1h-1zM207 597h1v1h-1zM208 597h1v1h-1zM209 596h1v1h-1zM210 596h1v1h-1zM211 596h1v2h-1zM212 598h1v2h-1zM213 600h1v3h-1zM214 603h1v2h-1zM215 605h1v2h-1zM216 607h1v2h-1zM217 609h1v1h-1zM218 610h1v2h-1zM219 612h1v1h-1zM220 611h1v1h-1zM221 611h1v1h-1zM222 610h1v1h-1zM223 610h1v1h-1zM224 609h1v1h-1zM225 608h1v1h-1zM226 607h1v1h-1zM227 606h1v1h-1zM228 604h1v2h-1zM229 602h1v2h-1zM230 600h1v2h-1zM231 599h1v1h-1zM232 598h1v1h-1zM233 598h1v1h-1zM234 597h1v1h-1zM235 597h1v1h-1zM236 597h1v1h-1zM237 597h1v1h-1zM238 597h1v1h-1zM239 597h1v1h-1zM240 598h1v1h-1zM241 599h1v2h-1zM242 601h1v1h-1zM243 602h1v1h-1zM244 602h1v1h-1zM245 601h1v1h-1zM246 601h1v1h-1zM247 601h1v1h-1zM248 601h1v1h-1zM249 600h1v1h-1zM250 600h1v1h-1zM251 600h1v1h-1zM252 601h1v1h-1zM253 602h1v1h-1zM254 603h1v1h-1zM255 604h1v1h-1zM256 603h1v1h-1zM257 603h1v1h-1zM258 602h1v1h-1zM259 602h1v1h-1zM260 601h1v1h-1zM261 600h1v1h-1zM262 600h1v1h-1zM263 599h1v1h-1zM264 599h1v1h-1zM265 600h1v1h-1zM266 600h1v1h-1zM267 600h1v1h-1zM268 600h1v1h-1zM269 600h1v1h-1zM270 600h1v1h-1zM271 600h1v1h-1zM272 601h1v1h-1zM273 601h1v1h-1zM274 602h1v1h-1zM275 602h1v1h-1zM276 601h1v1h-1zM277 600h1v1h-1zM278 600h1v1h-1zM279 599h1v2h-1zM280 601h1v2h-1zM281 603h1v3h-1zM282 606h1v2h-1zM283 608h1v2h-1zM284 607h1v2h-1zM285 606h1v1h-1zM286 604h1v2h-1zM287 603h1v1h-1zM288 602h1v1h-1zM289 601h1v1h-1zM290 601h1v1h-1zM291 600h1v1h-1zM292 600h1v1h-1zM293 599h1v1h-1zM294 599h1v1h-1zM295 599h1v1h-1zM296 600h1v1h-1zM297 601h1v1h-1zM298 601h1v1h-1zM299 602h1v1h-1zM300 603h1v1h-1zM301 604h1v2h-1zM302 606h1v1h-1zM303 607h1v1h-1zM304 606h1v1h-1zM305 605h1v1h-1zM306 604h1v1h-1zM307 603h1v1h-1zM308 604h1v2h-1zM309 606h1v1h-1zM310 607h1v2h-1zM311 609h1v1h-1zM312 610h1v1h-1zM313 610h1v1h-1zM314 611h1v1h-1zM315 611h1v1h-1zM316 611h1v1h-1zM317 611h1v1h-1zM318 611h1v1h-1zM319 611h1v1h-1zM320 611h1v1h-1zM321 611h1v1h-1zM322 611h1v1h-1zM323 611h1v1h-1zM324 611h1v1h-1zM325 610h1v1h-1zM326 610h1v1h-1zM327 610h1v1h-1zM328 610h1v1h-1zM329 611h1v1h-1zM330 611h1v1h-1zM331 611h1v1h-1zM332 612h1v1h-1zM333 613h1v2h-1zM334 615h1v1h-1zM335 615h1v2h-1zM336 613h1v2h-1zM337 611h1v2h-1zM338 609h1v2h-1zM339 607h1v2h-1zM340 607h1v1h-1zM341 608h1v1h-1zM342 608h1v1h-1zM343 608h1v1h-1zM344 609h1v1h-1zM345 610h1v2h-1zM346 612h1v1h-1zM347 613h1v1h-1zM348 614h1v2h-1zM349 616h1v2h-1zM350 618h1v2h-1zM351 620h1v1h-1zM352 621h1v1h-1zM353 621h1v1h-1zM354 622h1v1h-1zM355 622h1v1h-1zM356 623h1v1h-1zM357 624h1v1h-1zM358 625h1v1h-1zM359 625h1v2h-1zM360 621h1v4h-1zM361 617h1v4h-1zM362 613h1v4h-1zM363 610h1v3h-1zM364 609h1v1h-1zM365 608h1v1h-1zM366 608h1v1h-1zM367 607h1v1h-1zM368 608h1v1h-1zM369 609h1v1h-1zM370 609h1v1h-1zM371 610h1v1h-1zM372 610h1v1h-1zM373 611h1v1h-1zM374 611h1v1h-1zM375 611h1v1h-1zM376 610h1v1h-1zM377 610h1v1h-1zM378 609h1v1h-1zM379 609h1v1h-1zM380 609h1v1h-1zM381 609h1v1h-1zM382 609h1v1h-1zM383 609h1v1h-1zM384 609h1v1h-1zM385 608h1v1h-1zM386 608h1v1h-1zM387 608h1v1h-1zM388 608h1v1h-1zM389 609h1v1h-1zM390 609h1v1h-1zM391 609h1v1h-1zM392 610h1v1h-1zM393 611h1v1h-1zM394 611h1v1h-1zM395 612h1v1h-1zM396 613h1v1h-1zM397 614h1v1h-1zM398 614h1v1h-1zM399 615h1v1h-1zM400 614h1v1h-1zM401 613h1v1h-1zM402 612h1v1h-1zM403 611h1v1h-1zM404 610h1v1h-1zM405 610h1v1h-1zM406 609h1v1h-1zM407 609h1v1h-1zM408 609h1v1h-1zM409 610h1v1h-1zM410 610h1v1h-1zM411 610h1v1h-1zM412 610h1v1h-1zM413 610h1v1h-1zM414 610h1v1h-1zM415 610h1v1h-1zM416 609h1v1h-1zM417 608h1v1h-1zM418 607h1v1h-1zM419 606h1v1h-1zM420 607h1v1h-1zM421 608h1v1h-1zM422 609h1v1h-1zM423 610h1v1h-1zM424 610h1v1h-1zM425 611h1v1h-1zM426 611h1v1h-1zM427 611h1v1h-1zM428 611h1v1h-1zM429 611h1v1h-1zM430 611h1v1h-1zM431 611h1v1h-1zM432 611h1v1h-1zM433 611h1v1h-1zM434 611h1v1h-1zM435 611h1v1h-1zM436 611h1v1h-1zM437 612h1v1h-1zM438 612h1v1h-1zM439 612h1v1h-1zM440 613h1v1h-1zM441 614h1v1h-1zM442 615h1v1h-1zM443 616h1v1h-1zM444 616h1v1h-1zM445 616h1v1h-1zM446 616h1v1h-1zM447 616h1v1h-1zM448 617h1v1h-1zM449 618h1v1h-1zM450 618h1v1h-1zM451 619h1v1h-1zM452 618h1v1h-1zM453 617h1v1h-1zM454 616h1v1h-1zM455 615h1v1h-1zM456 615h1v1h-1zM457 616h1v1h-1zM458 616h1v1h-1zM459 616h1v1h-1zM460 615h1v1h-1zM461 614h1v1h-1zM462 613h1v1h-1zM463 612h1v1h-1zM464 612h1v1h-1zM465 612h1v1h-1zM466 612h1v1h-1zM467 612h1v1h-1zM468 613h1v1h-1zM469 614h1v1h-1zM470 614h1v1h-1zM471 614h1v2h-1zM472 612h1v2h-1zM473 609h1v3h-1zM474 607h1v2h-1zM475 605h1v2h-1zM476 606h1v1h-1zM477 606h1v1h-1zM478 607h1v1h-1zM479 607h1v1h-1zM480 608h1v1h-1zM481 609h1v2h-1zM482 611h1v1h-1zM483 612h1v1h-1zM484 612h1v1h-1zM485 613h1v1h-1zM486 613h1v1h-1zM487 613h1v1h-1zM488 613h1v1h-1zM489 612h1v1h-1zM490 612h1v1h-1zM491 612h1v1h-1zM492 613h1v2h-1zM493 615h1v1h-1zM494 616h1v2h-1zM495 618h1v1h-1zM496 619h1v1h-1zM497 620h1v1h-1zM498 621h1v1h-1zM499 622h1v1h-1zM500 623h1v1h-1zM501 624h1v1h-1zM502 624h1v1h-1zM503 625h1v1h-1zM504 626h1v1h-1zM505 626h1v1h-1zM506 627h1v1h-1zM507 627h1v1h-1zM508 627h1v1h-1zM509 627h1v1h-1zM510 627h1v1h-1zM511 627h1v1h-1zM512 627h1v1h-1zM513 628h1v1h-1zM514 628h1v1h-1zM515 628h1v1h-1zM516 629h1v1h-1zM517 629h1v1h-1zM518 630h1v1h-1zM519 630h1v1h-1zM520 631h1v1h-1zM521 631h1v1h-1zM522 632h1v1h-1zM523 632h1v1h-1zM524 632h1v1h-1zM525 633h1v1h-1zM526 633h1v1h-1zM527 633h1v1h-1zM528 633h1v1h-1zM529 633h1v1h-1zM530 633h1v1h-1zM531 633h1v1h-1zM532 631h1v2h-1zM533 630h1v1h-1zM534 628h1v2h-1zM535 626h1v2h-1zM536 623h1v3h-1zM537 621h1v2h-1zM538 618h1v3h-1zM539 616h1v2h-1zM540 617h1v1h-1zM541 618h1v1h-1zM542 618h1v1h-1zM543 619h1v1h-1zM544 620h1v2h-1zM545 622h1v2h-1zM546 624h1v2h-1zM547 626h1v1h-1zM548 624h1v2h-1zM549 622h1v2h-1zM550 620h1v2h-1zM551 619h1v1h-1zM552 617h1v2h-1zM553 616h1v1h-1zM554 614h1v2h-1zM555 613h1v1h-1zM556 613h1v1h-1zM557 614h1v1h-1zM558 614h1v1h-1zM559 614h1v1h-1zM560 613h1v1h-1zM561 612h1v1h-1zM562 612h1v1h-1zM563 611h1v1h-1zM564 611h1v1h-1zM565 610h1v1h-1zM566 610h1v1h-1zM567 610h1v1h-1zM568 611h1v1h-1zM569 612h1v1h-1zM570 612h1v1h-1zM571 613h1v1h-1zM572 614h1v1h-1zM573 615h1v1h-1zM574 615h1v1h-1zM575 616h1v1h-1zM576 616h1v1h-1zM577 616h1v1h-1zM578 616h1v1h-1zM579 616h1v1h-1zM580 616h1v1h-1zM581 615h1v1h-1zM582 615h1v1h-1zM583 615h1v1h-1zM584 616h1v1h-1zM585 617h1v1h-1zM586 617h1v1h-1zM587 618h1v1h-1zM588 619h1v1h-1zM589 620h1v1h-1zM590 620h1v1h-1zM591 620h1v2h-1zM592 617h1v3h-1zM593 614h1v3h-1zM594 611h1v3h-1zM595 609h1v2h-1zM596 610h1v1h-1zM597 610h1v1h-1zM598 611h1v1h-1zM599 611h1v1h-1zM600 610h1v1h-1zM601 608h1v2h-1zM602 607h1v1h-1zM603 606h1v1h-1zM604 606h1v1h-1zM605 607h1v1h-1zM606 607h1v1h-1zM607 607h1v1h-1zM608 607h1v1h-1zM609 608h1v1h-1zM610 608h1v1h-1zM611 608h1v1h-1zM612 609h1v1h-1zM613 609h1v1h-1zM614 610h1v1h-1zM615 610h1v1h-1zM616 610h1v1h-1zM617 610h1v1h-1zM618 610h1v1h-1zM619 610h1v1h-1zM620 610h1v1h-1zM621 611h1v1h-1zM622 611h1v1h-1zM623 611h1v1h-1zM624 612h1v1h-1zM625 613h1v1h-1zM626 614h1v1h-1zM627 615h1v1h-1zM628 614h1v1h-1zM629 614h1v1h-1zM630 613h1v1h-1zM631 613h1v1h-1zM632 614h1v1h-1zM633 615h1v1h-1zM634 616h1v1h-1zM635 616h1v2h-1zM636 614h1v2h-1zM637 612h1v2h-1zM638 610h1v2h-1zM639 608h1v2h-1zM640 607h1v1h-1zM641 605h1v2h-1zM642 604h1v1h-1zM643 603h1v1h-1zM644 604h1v1h-1zM645 605h1v1h-1zM646 605h1v1h-1zM647 606h1v1h-1zM648 604h1v2h-1zM649 602h1v2h-1zM650 600h1v2h-1zM651 599h1v1h-1zM652 600h1v1h-1zM653 601h1v1h-1zM654 601h1v1h-1zM655 602h1v1h-1zM656 601h1v1h-1zM657 600h1v1h-1zM658 599h1v1h-1zM659 598h1v1h-1zM660 598h1v1h-1zM661 597h1v1h-1zM662 597h1v1h-1zM663 597h1v1h-1zM664 598h1v1h-1zM665 599h1v2h-1zM666 601h1v1h-1zM667 602h1v1h-1zM668 603h1v1h-1zM669 604h1v2h-1zM670 606h1v1h-1zM671 607h1v1h-1zM672 606h1v1h-1zM673 606h1v1h-1zM674 605h1v1h-1zM675 605h1v1h-1zM676 605h1v1h-1zM677 605h1v1h-1zM678 605h1v1h-1zM679 605h1v1h-1zM680 606h1v1h-1zM681 607h1v1h-1zM682 607h1v1h-1zM683 608h1v1h-1zM684 607h1v1h-1zM685 607h1v1h-1zM686 606h1v1h-1zM687 606h1v1h-1zM688 606h1v1h-1zM689 606h1v1h-1zM690 606h1v1h-1zM691 606h1v1h-1zM692 605h1v1h-1zM693 605h1v1h-1zM694 604h1v1h-1zM695 604h1v1h-1zM696 604h1v1h-1zM697 604h1v1h-1zM698 604h1v1h-1zM699 604h1v1h-1zM700 604h1v1h-1zM701 603h1v1h-1zM702 603h1v1h-1zM703 603h1v1h-1zM704 601h1v2h-1zM705 599h1v2h-1zM706 597h1v2h-1zM707 595h1v2h-1zM708 594h1v1h-1zM709 593h1v1h-1zM710 592h1v1h-1zM711 591h1v1h-1zM712 590h1v1h-1zM713 589h1v1h-1zM714 589h1v1h-1zM715 588h1v1h-1zM716 587h1v1h-1zM717 586h1v1h-1zM718 586h1v1h-1zM719 585h1v1h-1zM720 584h1v1h-1zM721 584h1v1h-1zM722 583h1v1h-1zM723 583h1v1h-1zM724 583h1v1h-1zM725 584h1v1h-1zM726 584h1v1h-1zM727 584h1v1h-1zM728 585h1v2h-1zM729 587h1v2h-1zM730 589h1v2h-1zM731 591h1v1h-1zM732 592h1v1h-1zM733 593h1v2h-1zM734 595h1v1h-1zM735 596h1v1h-1zM736 597h1v1h-1zM737 598h1v1h-1zM738 598h1v1h-1zM739 599h1v1h-1zM740 600h1v1h-1zM741 600h1v1h-1zM742 601h1v1h-1zM743 601h1v1h-1zM744 600h1v1h-1zM745 599h1v1h-1zM746 599h1v1h-1zM747 598h1v1h-1zM748 598h1v1h-1zM749 597h1v1h-1zM750 597h1v1h-1zM751 597h1v1h-1zM752 598h1v2h-1zM753 600h1v2h-1zM754 602h1v2h-1zM755 604h1v2h-1zM756 605h1v1h-1zM757 605h1v1h-1zM758 605h1v1h-1zM759 605h1v1h-1zM760 604h1v1h-1zM761 604h1v1h-1zM762 603h1v1h-1zM763 603h1v1h-1zM764 603h1v1h-1zM765 602h1v1h-1zM766 602h1v1h-1zM767 602h1v2h-1zM768 604h1v2h-1zM769 606h1v2h-1zM770 608h1v2h-1zM771 610h1v2h-1zM772 611h1v1h-1zM773 612h1v1h-1zM774 612h1v1h-1zM775 612h1v1h-1zM776 612h1v1h-1zM777 612h1v1h-1zM778 612h1v1h-1zM779 611h1v2h-1zM780 609h1v2h-1zM781 607h1v2h-1zM782 605h1v2h-1zM783 603h1v2h-1zM784 604h1v1h-1zM785 605h1v1h-1zM786 606h1v1h-1zM787 607h1v1h-1zM788 606h1v1h-1zM789 605h1v1h-1zM790 605h1v1h-1zM791 604h1v1h-1zM792 603h1v1h-1zM793 603h1v1h-1zM794 602h1v1h-1zM795 602h1v1h-1zM796 602h1v1h-1zM797 603h1v1h-1zM798 603h1v1h-1zM799 603h1v1h-1zM800 604h1v2h-1zM801 606h1v2h-1zM802 608h1v2h-1zM803 610h1v2h-1zM804 612h1v1h-1zM805 612h1v1h-1zM806 613h1v1h-1zM807 613h1v1h-1zM808 614h1v1h-1zM809 615h1v1h-1zM810 615h1v1h-1zM811 616h1v1h-1zM812 615h1v1h-1zM813 613h1v2h-1zM814 612h1v1h-1zM815 611h1v1h-1zM816 612h1v1h-1zM817 612h1v1h-1zM818 613h1v1h-1zM819 613h1v1h-1zM820 613h1v1h-1zM821 614h1v1h-1zM822 614h1v1h-1zM823 614h1v1h-1zM824 613h1v1h-1zM825 611h1v2h-1zM826 610h1v1h-1zM827 609h1v1h-1zM828 609h1v1h-1zM829 610h1v1h-1zM830 610h1v1h-1zM831 610h1v1h-1zM832 609h1v1h-1zM833 607h1v2h-1zM834 606h1v1h-1zM835 604h1v2h-1zM836 602h1v2h-1zM837 599h1v3h-1zM838 597h1v2h-1zM839 595h1v2h-1zM840 595h1v1h-1zM841 596h1v1h-1zM842 596h1v1h-1zM843 596h1v1h-1zM844 596h1v1h-1zM845 596h1v1h-1zM846 596h1v1h-1zM847 596h1v1h-1zM848 595h1v1h-1zM849 594h1v1h-1zM850 594h1v1h-1zM851 593h1v2h-1zM852 595h1v2h-1zM853 597h1v3h-1zM854 600h1v2h-1zM855 602h1v2h-1zM856 603h1v1h-1zM857 604h1v1h-1zM858 604h1v1h-1zM859 604h1v1h-1zM860 605h1v2h-1zM861 607h1v1h-1zM862 608h1v2h-1zM863 610h1v1h-1zM864 611h1v2h-1zM865 613h1v1h-1zM866 614h1v2h-1zM867 616h1v1h-1zM868 616h1v1h-1zM869 616h1v1h-1zM870 616h1v1h-1zM871 615h1v2h-1zM872 611h1v4h-1zM873 608h1v3h-1zM874 604h1v4h-1zM875 602h1v2h-1zM876 601h1v1h-1zM877 601h1v1h-1zM878 600h1v1h-1zM879 600h1v1h-1zM880 599h1v1h-1zM881 597h1v2h-1zM882 596h1v1h-1zM883 595h1v1h-1zM884 596h1v1h-1zM885 597h1v2h-1zM886 599h1v1h-1zM887 600h1v1h-1zM888 600h1v1h-1zM889 601h1v1h-1zM890 601h1v1h-1zM891 601h1v1h-1zM892 601h1v1h-1zM893 601h1v1h-1zM894 601h1v1h-1zM895 601h1v1h-1zM896 601h1v1h-1zM897 601h1v1h-1zM898 601h1v1h-1zM899 601h1v1h-1zM900 602h1v1h-1zM901 603h1v1h-1zM902 603h1v1h-1zM903 604h1v1h-1zM904 604h1v1h-1zM905 605h1v1h-1zM906 605h1v1h-1zM907 605h1v1h-1zM908 604h1v1h-1zM909 603h1v1h-1zM910 603h1v1h-1zM911 602h1v1h-1zM912 603h1v1h-1zM913 603h1v1h-1zM914 604h1v1h-1zM915 604h1v1h-1zM916 603h1v1h-1zM917 603h1v1h-1zM918 602h1v1h-1zM919 602h1v1h-1zM920 601h1v1h-1zM921 601h1v1h-1zM922 600h1v1h-1zM923 600h1v1h-1zM924 601h1v1h-1zM925 601h1v1h-1zM926 602h1v1h-1zM927 602h1v1h-1zM928 603h1v1h-1zM929 604h1v1h-1zM930 604h1v1h-1zM931 605h1v1h-1zM932 606h1v1h-1zM933 607h1v1h-1zM934 607h1v1h-1zM935 608h1v1h-1zM936 609h1v1h-1zM937 610h1v1h-1zM938 610h1v1h-1zM939 611h1v1h-1zM940 611h1v1h-1zM941 611h1v1h-1zM942 611h1v1h-1zM943 611h1v1h-1zM944 611h1v1h-1zM945 611h1v1h-1zM946 611h1v1h-1zM947 611h1v1h-1zM948 612h1v1h-1zM949 613h1v1h-1zM950 614h1v1h-1zM951 615h1v1h-1zM952 616h1v1h-1zM953 617h1v2h-1zM954 619h1v1h-1zM955 620h1v1h-1zM956 621h1v1h-1zM957 622h1v2h-1zM958 624h1v1h-1zM959 625h1v1h-1zM960 624h1v1h-1zM961 624h1v1h-1zM962 623h1v1h-1zM963 623h1v1h-1zM964 623h1v1h-1zM965 624h1v1h-1zM966 624h1v1h-1zM967 624h1v1h-1zM968 624h1v1h-1zM969 625h1v1h-1zM970 625h1v1h-1zM971 625h1v1h-1zM972 625h1v1h-1zM973 625h1v1h-1zM974 625h1v1h-1zM975 625h1v1h-1zM976 624h1v1h-1zM977 623h1v1h-1zM978 623h1v1h-1zM979 622h1v1h-1zM980 623h1v1h-1zM981 623h1v1h-1zM982 624h1v1h-1zM983 624h1v1h-1zM984 622h1v2h-1zM985 620h1v2h-1zM986 618h1v2h-1zM987 617h1v1h-1zM988 617h1v1h-1zM989 618h1v1h-1zM990 618h1v1h-1zM991 618h1v1h-1zM992 618h1v1h-1zM993 619h1v1h-1zM994 619h1v1h-1zM995 619h1v1h-1zM996 620h1v1h-1zM997 621h1v1h-1zM998 621h1v1h-1zM999 622h1v1h-1zM1000 622h1v1h-1zM1001 623h1v1h-1zM1002 623h1v1h-1zM1003 623h1v1h-1zM1004 623h1v1h-1zM1005 623h1v1h-1zM1006 623h1v1h-1zM1007 623h1v1h-1zM1008 622h1v1h-1zM1009 622h1v1h-1zM1010 621h1v1h-1zM1011 621h1v1h-1zM1012 622h1v1h-1zM1013 622h1v1h-1zM1014 623h1v1h-1zM1015 622h1v2h-1zM1016 620h1v2h-1zM1017 617h1v3h-1zM1018 615h1v2h-1zM1019 613h1v2h-1zM1020 612h1v1h-1zM1021 611h1v1h-1zM1022 611h1v1h-1zM1023 610h1v1h-1zM1024 610h1v1h-1zM1025 610h1v1h-1zM1026 610h1v1h-1zM1027 610h1v1h-1zM1028 609h1v1h-1zM1029 608h1v1h-1zM1030 607h1v1h-1zM1031 606h1v1h-1zM1032 606h1v1h-1zM1033 605h1v1h-1zM1034 605h1v1h-1zM1035 605h1v1h-1zM1036 606h1v1h-1zM1037 607h1v2h-1zM1038 609h1v1h-1zM1039 610h1v1h-1zM1040 611h1v2h-1zM1041 613h1v1h-1zM1042 614h1v2h-1zM1043 616h1v1h-1zM1044 617h1v1h-1zM1045 617h1v1h-1zM1046 618h1v1h-1zM1047 618h1v1h-1zM1048 617h1v1h-1zM1049 616h1v1h-1zM1050 616h1v1h-1zM1051 615h1v1h-1zM1052 614h1v1h-1zM1053 614h1v1h-1zM1054 613h1v1h-1zM1055 613h1v1h-1zM1056 614h1v2h-1zM1057 616h1v1h-1zM1058 617h1v2h-1zM1059 619h1v1h-1zM1060 619h1v1h-1zM1061 619h1v1h-1zM1062 619h1v1h-1zM1063 619h1v1h-1zM1064 618h1v1h-1zM1065 617h1v1h-1zM1066 616h1v1h-1zM1067 615h1v1h-1zM1068 613h1v2h-1zM1069 611h1v2h-1zM1070 609h1v2h-1zM1071 607h1v2h-1zM1072 608h1v1h-1zM1073 609h1v1h-1zM1074 610h1v1h-1zM1075 611h1v1h-1zM1076 609h1v2h-1zM1077 607h1v2h-1zM1078 605h1v2h-1zM1079 604h1v1h-1zM1080 602h1v2h-1zM1081 600h1v2h-1zM1082 598h1v2h-1zM1083 597h1v1h-1zM1084 598h1v1h-1zM1085 599h1v1h-1zM1086 599h1v1h-1zM1087 600h1v1h-1zM1088 601h1v1h-1zM1089 602h1v1h-1zM1090 602h1v1h-1zM1091 603h1v1h-1zM1092 602h1v1h-1zM1093 602h1v1h-1zM1094 601h1v1h-1zM1095 601h1v1h-1zM1096 601h1v1h-1zM1097 600h1v1h-1zM1098 600h1v1h-1zM1099 600h1v1h-1zM1100 599h1v1h-1zM1101 599h1v1h-1zM1102 598h1v1h-1zM1103 598h1v1h-1zM1104 598h1v1h-1zM1105 599h1v1h-1zM1106 599h1v1h-1zM1107 599h1v1h-1zM1108 600h1v1h-1zM1109 601h1v1h-1zM1110 602h1v1h-1zM1111 603h1v1h-1zM1112 602h1v1h-1zM1113 601h1v1h-1zM1114 601h1v1h-1zM1115 600h1v1h-1zM1116 601h1v2h-1zM1117 603h1v1h-1zM1118 604h1v2h-1zM1119 606h1v1h-1zM1120 607h1v1h-1zM1121 607h1v1h-1zM1122 608h1v1h-1zM1123 608h1v1h-1zM1124 608h1v1h-1zM1125 607h1v1h-1zM1126 607h1v1h-1zM1127 607h1v1h-1zM1128 606h1v1h-1zM1129 604h1v2h-1zM1130 603h1v1h-1zM1131 602h1v1h-1zM1132 603h1v1h-1zM1133 603h1v1h-1zM1134 604h1v1h-1zM1135 604h1v1h-1zM1136 603h1v1h-1zM1137 602h1v1h-1zM1138 601h1v1h-1zM1139 600h1v1h-1zM1140 601h1v1h-1zM1141 601h1v1h-1zM1142 602h1v1h-1zM1143 602h1v1h-1zM1144 601h1v1h-1zM1145 601h1v1h-1zM1146 600h1v1h-1zM1147 600h1v1h-1zM1148 599h1v1h-1zM1149 599h1v1h-1zM1150 598h1v1h-1zM1151 598h1v1h-1zM1152 596h1v2h-1zM1153 594h1v2h-1zM1154 592h1v2h-1zM1155 590h1v2h-1zM1156 589h1v1h-1zM1157 588h1v1h-1zM1158 588h1v1h-1zM1159 587h1v1h-1zM1160 587h1v1h-1zM1161 586h1v1h-1zM1162 586h1v1h-1zM1163 586h1v1h-1zM1164 585h1v1h-1zM1165 584h1v1h-1zM1166 583h1v1h-1zM1167 582h1v1h-1zM1168 583h1v2h-1zM1169 585h1v2h-1zM1170 587h1v2h-1zM1171 589h1v1h-1zM1172 589h1v1h-1zM1173 590h1v1h-1zM1174 590h1v1h-1zM1175 590h1v1h-1zM1176 590h1v1h-1zM1177 591h1v1h-1zM1178 591h1v1h-1zM1179 591h1v2h-1zM1180 593h1v3h-1zM1181 596h1v2h-1zM1182 598h1v3h-1zM1183 601h1v2h-1zM1184 603h1v1h-1zM1185 604h1v1h-1zM1186 605h1v1h-1zM1187 606h1v1h-1zM1188 606h1v1h-1zM1189 606h1v1h-1zM1190 606h1v1h-1zM1191 606h1v1h-1zM1192 605h1v1h-1zM1193 605h1v1h-1zM1194 604h1v1h-1zM1195 604h1v1h-1zM1196 604h1v1h-1zM1197 603h1v1h-1zM1198 603h1v1h-1zM1199 603h1v1h-1zM1200 604h1v1h-1zM1201 605h1v1h-1zM1202 606h1v1h-1zM1203 607h1v1h-1zM1204 606h1v1h-1zM1205 606h1v1h-1zM1206 605h1v1h-1zM1207 604h1v2h-1zM1208 601h1v3h-1zM1209 598h1v3h-1zM1210 595h1v3h-1zM1211 593h1v2h-1zM1212 594h1v1h-1zM1213 594h1v1h-1zM1214 595h1v1h-1zM1215 595h1v1h-1zM1216 596h1v1h-1zM1217 597h1v1h-1zM1218 598h1v1h-1zM1219 599h1v1h-1zM1220 598h1v1h-1zM1221 598h1v1h-1zM1222 597h1v1h-1zM1223 597h1v1h-1zM1224 597h1v1h-1zM1225 598h1v1h-1zM1226 598h1v1h-1zM1227 598h1v1h-1zM1228 596h1v2h-1zM1229 595h1v1h-1zM1230 593h1v2h-1zM1231 591h1v2h-1zM1232 589h1v2h-1zM1233 587h1v2h-1zM1234 585h1v2h-1zM1235 583h1v2h-1zM1236 585h1v2h-1zM1237 587h1v3h-1zM1238 590h1v2h-1zM1239 592h1v2h-1zM1240 592h1v1h-1zM1241 592h1v1h-1zM1242 591h1v1h-1zM1243 591h1v1h-1zM1244 590h1v1h-1zM1245 589h1v1h-1zM1246 589h1v1h-1zM1247 588h1v1h-1zM1248 587h1v1h-1zM1249 586h1v1h-1zM1250 585h1v1h-1zM1251 584h1v1h-1zM1252 584h1v1h-1zM1253 583h1v1h-1zM1254 583h1v1h-1z" fill="#1e90ff" shape-rendering="crispEdges"/>
</g></svg>
<path d="M3.5 683V686M7.5 685V689M11.5 685V695M15.5 685V702M19.5 685V707M23.5 685V713M27.5 685V723M31.5 685V730M35.5 685V739M39.5 685V743M43.5 685V744M47.5 685V737M51.5 685V731M55.5 685V725M59.5 685V724M63.5 685V714M67.5 685V703M71.5 685V689M75.5 676V686M79.5 666V686M83.5 661V686M87.5 658V686M91.5 657V686M95.5 663V686M99.5 672V686M103.5 680V686M107.5 683V686M111.5 684V686M115.5 683V686M119.5 680V686M123.5 676V686M127.5 673V686M131.5 671V686M135.5 672V686M139.5 672V686M143.5 675V686M147.5 678V686M151.5 680V686M155.5 682V686M159.5 685V686M163.5 685V687M167.5 685V686M171.5 685V686M175.5 685V686M179.5 685V686M183.5 684V686M187.5 683V686M191.5 681V686M195.5 678V686M199.5 677V686M203.5 675V686M207.5 674V686M211.5 674V686M215.5 677V686M219.5 683V686M223.5 685V687M227.5 685V689M231.5 685V687M235.5 683V686M239.5 681V686M243.5 681V686M247.5 681V686M251.5 681V686M255.5 682V686M259.5 682V686M263.5 682V686M267.5 681V686M271.5 681V686M275.5 681V686M279.5 681V686M283.5 684V686M287.5 684V686M291.5 683V686M295.5 683V686M299.5 683V686M303.5 685V686M307.5 685V686M311.5 685V689M315.5 685V692M319.5 685V694M323.5 685V696M327.5 685V697M331.5 685V698M335.5 685V701M339.5 685V700M343.5 685V700M347.5 685V702M351.5 685V706M355.5 685V711M359.5 685V718M363.5 685V717M367.5 685V715M371.5 685V715M375.5 685V714M379.5 685V713M383.5 685V711M387.5 685V710M391.5 685V709M395.5 685V709M399.5 685V711M403.5 685V710M407.5 685V709M411.5 685V708M415.5 685V707M419.5 685V705M423.5 685V705M427.5 685V705M431.5 685V705M435.5 685V705M439.5 685V704M443.5 685V706M447.5 685V706M451.5 685V708M455.5 685V708M459.5 685V709M463.5 685V707M467.5 685V707M471.5 685V707M475.5 685V704M479.5 685V703M483.5 685V703M487.5 685V703M491.5 685V703M495.5 685V705M499.5 685V708M503.5 685V713M507.5 685V717M511.5 685V720M515.5 685V722M519.5 685V725M523.5 685V729M527.5 685V731M531.5 685V734M535.5 685V734M539.5 685V731M543.5 685V730M547.5 685V733M551.5 685V732M555.5 685V730M559.5 685V728M563.5 685V725M567.5 685V721M571.5 685V720M575.5 685V720M579.5 685V720M583.5 685V719M587.5 685V720M591.5 685V721M595.5 685V718M599.5 685V717M603.5 685V713M607.5 685V711M611.5 685V709M615.5 685V708M619.5 685V707M623.5 685V707M627.5 685V708M631.5 685V708M635.5 685V710M639.5 685V708M643.5 685V705M647.5 685V703M651.5 685V699M655.5 685V696M659.5 685V693M663.5 685V690M667.5 685V689M671.5 685V690M675.5 685V691M679.5 685V691M683.5 685V692M687.5 685V692M691.5 685V692M695.5 685V692M699.5 685V692M703.5 685V691M707.5 685V688M711.5 682V686M715.5 678V686M719.5 673V686M723.5 668V686M727.5 664V686M731.5 664V686M735.5 665V686M739.5 667V686M743.5 669V686M747.5 670V686M751.5 671V686M755.5 674V686M759.5 676V686M763.5 678V686M767.5 679V686M771.5 683V686M775.5 685V687M779.5 685V690M783.5 685V690M787.5 685V691M791.5 685V690M795.5 685V690M799.5 685V689M803.5 685V691M807.5 685V694M811.5 685V697M815.5 685V698M819.5 685V700M823.5 685V701M827.5 685V701M831.5 685V701M835.5 685V699M839.5 685V694M843.5 685V691M847.5 685V688M851.5 683V686M855.5 684V686M859.5 684V686M863.5 685V688M867.5 685V694M871.5 685V698M875.5 685V696M879.5 685V693M883.5 685V688M887.5 685V687M891.5 685V686M895.5 684V686M899.5 684V686M903.5 685V686M907.5 685V687M911.5 685V686M915.5 685V687M919.5 685V687M923.5 684V686M927.5 684V686M931.5 685V686M935.5 685V688M939.5 685V691M943.5 685V693M947.5 685V694M951.5 685V696M955.5 685V700M959.5 685V706M963.5 685V710M967.5 685V713M971.5 685V716M975.5 685V717M979.5 685V718M983.5 685V719M987.5 685V718M991.5 685V718M995.5 685V717M999.5 685V718M1003.5 685V718M1007.5 685V719M1011.5 685V718M1015.5 685V718M1019.5 685V716M1023.5 685V713M1027.5 685V710M1031.5 685V707M1035.5 685V705M1039.5 685V703M1043.5 685V704M1047.5 685V705M1051.5 685V706M1055.5 685V705M1059.5 685V707M1063.5 685V708M1067.5 685V707M1071.5 685V705M1075.5 685V704M1079.5 685V702M1083.5 685V698M1087.5 685V695M1091.5 685V694M1095.5 685V692M1099.5 685V690M1103.5 685V688M1107.5 685V687M1111.5 685V687M1115.5 685V686M1119.5 685V687M1123.5 685V688M1127.5 685V689M1131.5 685V688M1135.5 685V688M1139.5 685V687M1143.5 685V687M1147.5 685V686M1151.5 684V686M1155.5 681V686M1159.5 677V686M1163.5 674V686M1167.5 670V686M1171.5 669V686M1175.5 668V686M1179.5 668V686M1183.5 670V686M1187.5 674V686M1191.5 676V686M1195.5 678V686M1199.5 679V686M1203.5 681V686M1207.5 683V686M1211.5 680V686M1215.5 679V686M1219.5 679V686M1223.5 678V686M1227.5 678V686M1231.5 676V686M1235.5 671V686M1239.5 670V686M1243.5 668V686M1247.5 665V686M1251.5 661V686M1255.5 658V686" stroke="#c0c0c0" stroke-width="1" fill="none"/>
<path d="M3 673h1v1h-1zM4 674h1v1h-1zM5 675h1v1h-1zM9 678h1v1h-1zM10 678h1v1h-1zM11 679h1v1h-1zM15 682h1v1h-1zM16 683h1v1h-1zM17 684h1v1h-1zM21 688h1v1h-1zM22 689h1v1h-1zM23 690h1v1h-1zM26 694h1v2h-1zM27 696h1v1h-1zM30 700h1v2h-1zM31 702h1v1h-1zM34 706h1v2h-1zM35 708h1v1h-1zM37 712h1v1h-1zM38 713h1v2h-1zM41 718h1v1h-1zM42 719h1v2h-1zM46 724h1v1h-1zM47 725h1v1h-1zM48 726h1v1h-1zM52 730h1v1h-1zM53 730h1v1h-1zM54 731h1v1h-1zM58 732h1v1h-1zM59 732h1v1h-1zM60 732h1v1h-1zM64 730h1v1h-1zM65 729h1v1h-1zM66 729h1v1h-1zM69 725h1v1h-1zM70 723h1v2h-1zM73 718h1v2h-1zM74 717h1v1h-1zM76 713h1v1h-1zM77 711h1v2h-1zM79 706h1v2h-1zM80 705h1v1h-1zM82 700h1v2h-1zM83 699h1v1h-1zM85 694h1v2h-1zM86 693h1v1h-1zM88 688h1v2h-1zM89 687h1v1h-1zM91 683h1v1h-1zM92 681h1v2h-1zM94 677h1v1h-1zM95 676h1v1h-1zM96 675h1v1h-1zM100 671h1v1h-1zM101 670h1v1h-1zM102 670h1v1h-1zM106 668h1v1h-1zM107 668h1v1h-1zM108 668h1v1h-1zM112 670h1v1h-1zM113 670h1v1h-1zM114 671h1v1h-1zM118 673h1v1h-1zM119 673h1v1h-1zM120 674h1v1h-1zM124 676h1v1h-1zM125 676h1v1h-1zM126 677h1v1h-1zM130 678h1v1h-1zM131 678h1v1h-1zM132 678h1v1h-1zM136 678h1v1h-1zM137 677h1v1h-1zM138 677h1v1h-1zM142 676h1v1h-1zM143 676h1v1h-1zM144 676h1v1h-1zM148 676h1v1h-1zM149 675h1v1h-1zM150 675h1v1h-1zM154 675h1v1h-1zM155 675h1v1h-1zM156 675h1v1h-1zM160 677h1v1h-1zM161 677h1v1h-1zM162 678h1v1h-1zM166 680h1v1h-1zM167 680h1v1h-1zM168 680h1v1h-1zM172 681h1v1h-1zM173 682h1v1h-1zM174 682h1v1h-1zM178 684h1v1h-1zM179 684h1v1h-1zM180 684h1v1h-1zM184 684h1v1h-1zM185 685h1v1h-1zM186 685h1v1h-1zM190 684h1v1h-1zM191 684h1v1h-1zM192 684h1v1h-1zM196 684h1v1h-1zM197 683h1v1h-1zM198 683h1v1h-1zM202 682h1v1h-1zM203 682h1v1h-1zM204 681h1v1h-1zM208 680h1v1h-1zM209 679h1v1h-1zM210 679h1v1h-1zM214 678h1v1h-1zM215 678h1v1h-1zM216 678h1v1h-1zM220 678h1v1h-1zM221 678h1v1h-1zM222 678h1v1h-1zM226 679h1v1h-1zM227 679h1v1h-1zM228 679h1v1h-1zM232 680h1v1h-1zM233 681h1v1h-1zM234 681h1v1h-1zM238 681h1v1h-1zM239 681h1v1h-1zM240 681h1v1h-1zM244 682h1v1h-1zM245 683h1v1h-1zM246 683h1v1h-1zM250 683h1v1h-1zM251 683h1v1h-1zM252 683h1v1h-1zM256 683h1v1h-1zM257 683h1v1h-1zM258 683h1v1h-1zM262 682h1v1h-1zM263 682h1v1h-1zM264 682h1v1h-1zM268 682h1v1h-1zM269 681h1v1h-1zM270 681h1v1h-1zM274 682h1v1h-1zM275 682h1v1h-1zM276 682h1v1h-1zM280 681h1v1h-1zM281 682h1v1h-1zM282 682h1v1h-1zM286 682h1v1h-1zM287 682h1v1h-1zM288 682h1v1h-1zM292 682h1v1h-1zM293 682h1v1h-1zM294 682h1v1h-1zM298 682h1v1h-1zM299 682h1v1h-1zM300 682h1v1h-1zM304 683h1v1h-1zM305 683h1v1h-1zM306 683h1v1h-1zM310 684h1v1h-1zM311 684h1v1h-1zM312 684h1v1h-1zM316 685h1v1h-1zM317 686h1v1h-1zM318 686h1v1h-1zM322 687h1v1h-1zM323 687h1v1h-1zM324 688h1v1h-1zM328 689h1v1h-1zM329 690h1v1h-1zM330 690h1v1h-1zM334 692h1v1h-1zM335 692h1v1h-1zM336 693h1v1h-1zM340 694h1v1h-1zM341 695h1v1h-1zM342 695h1v1h-1zM346 697h1v1h-1zM347 697h1v1h-1zM348 697h1v1h-1zM352 699h1v1h-1zM353 699h1v1h-1zM354 700h1v1h-1zM358 702h1v1h-1zM359 703h1v1h-1zM360 704h1v1h-1zM364 706h1v1h-1zM365 706h1v1h-1zM366 707h1v1h-1zM370 708h1v1h-1zM371 708h1v1h-1zM372 709h1v1h-1zM376 710h1v1h-1zM377 711h1v1h-1zM378 711h1v1h-1zM382 712h1v1h-1zM383 712h1v1h-1zM384 712h1v1h-1zM388 713h1v1h-1zM389 712h1v1h-1zM390 712h1v1h-1zM394 711h1v1h-1zM395 711h1v1h-1zM396 711h1v1h-1zM400 711h1v1h-1zM401 710h1v1h-1zM402 710h1v1h-1zM406 710h1v1h-1zM407 710h1v1h-1zM408 710h1v1h-1zM412 709h1v1h-1zM413 708h1v1h-1zM414 708h1v1h-1zM418 708h1v1h-1zM419 708h1v1h-1zM420 708h1v1h-1zM424 707h1v1h-1zM425 707h1v1h-1zM426 707h1v1h-1zM430 706h1v1h-1zM431 706h1v1h-1zM432 706h1v1h-1zM436 706h1v1h-1zM437 705h1v1h-1zM438 705h1v1h-1zM442 705h1v1h-1zM443 705h1v1h-1zM444 705h1v1h-1zM448 704h1v1h-1zM449 704h1v1h-1zM450 704h1v1h-1zM454 705h1v1h-1zM455 705h1v1h-1zM456 705h1v1h-1zM460 705h1v1h-1zM461 705h1v1h-1zM462 705h1v1h-1zM466 706h1v1h-1zM467 706h1v1h-1zM468 706h1v1h-1zM472 706h1v1h-1zM473 706h1v1h-1zM474 706h1v1h-1zM478 706h1v1h-1zM479 706h1v1h-1zM480 706h1v1h-1zM484 705h1v1h-1zM485 705h1v1h-1zM486 705h1v1h-1zM490 704h1v1h-1zM491 704h1v1h-1zM492 704h1v1h-1zM496 704h1v1h-1zM497 704h1v1h-1zM498 704h1v1h-1zM502 704h1v1h-1zM503 704h1v1h-1zM504 704h1v1h-1zM508 706h1v1h-1zM509 706h1v1h-1zM510 707h1v1h-1zM514 709h1v1h-1zM515 709h1v1h-1zM516 710h1v1h-1zM520 713h1v1h-1zM521 714h1v1h-1zM522 714h1v1h-1zM526 717h1v1h-1zM527 718h1v1h-1zM528 719h1v1h-1zM532 722h1v1h-1zM533 723h1v1h-1zM534 723h1v1h-1zM538 726h1v1h-1zM539 726h1v1h-1zM540 726h1v1h-1zM544 728h1v1h-1zM545 728h1v1h-1zM546 729h1v1h-1zM550 730h1v1h-1zM551 730h1v1h-1zM552 730h1v1h-1zM556 730h1v1h-1zM557 730h1v1h-1zM558 730h1v1h-1zM562 730h1v1h-1zM563 730h1v1h-1zM564 729h1v1h-1zM568 728h1v1h-1zM569 727h1v1h-1zM570 727h1v1h-1zM574 726h1v1h-1zM575 726h1v1h-1zM576 725h1v1h-1zM580 724h1v1h-1zM581 723h1v1h-1zM582 723h1v1h-1zM586 722h1v1h-1zM587 722h1v1h-1zM588 722h1v1h-1zM592 721h1v1h-1zM593 720h1v1h-1zM594 720h1v1h-1zM598 719h1v1h-1zM599 719h1v1h-1zM600 719h1v1h-1zM604 718h1v1h-1zM605 717h1v1h-1zM606 717h1v1h-1zM610 715h1v1h-1zM611 715h1v1h-1zM612 715h1v1h-1zM616 714h1v1h-1zM617 713h1v1h-1zM618 713h1v1h-1zM622 711h1v1h-1zM623 711h1v1h-1zM624 711h1v1h-1zM628 710h1v1h-1zM629 709h1v1h-1zM630 709h1v1h-1zM634 708h1v1h-1zM635 708h1v1h-1zM636 708h1v1h-1zM640 707h1v1h-1zM641 707h1v1h-1zM642 707h1v1h-1zM646 706h1v1h-1zM647 706h1v1h-1zM648 706h1v1h-1zM652 705h1v1h-1zM653 704h1v1h-1zM654 704h1v1h-1zM658 702h1v1h-1zM659 702h1v1h-1zM660 701h1v1h-1zM664 699h1v1h-1zM665 699h1v1h-1zM666 698h1v1h-1zM670 696h1v1h-1zM671 696h1v1h-1zM672 695h1v1h-1zM676 693h1v1h-1zM677 693h1v1h-1zM678 692h1v1h-1zM682 691h1v1h-1zM683 691h1v1h-1zM684 691h1v1h-1zM688 690h1v1h-1zM689 690h1v1h-1zM690 690h1v1h-1zM694 690h1v1h-1zM695 690h1v1h-1zM696 690h1v1h-1zM700 690h1v1h-1zM701 690h1v1h-1zM702 690h1v1h-1zM706 690h1v1h-1zM707 690h1v1h-1zM708 690h1v1h-1zM712 689h1v1h-1zM713 688h1v1h-1zM714 688h1v1h-1zM718 686h1v1h-1zM719 686h1v1h-1zM720 685h1v1h-1zM724 682h1v1h-1zM725 681h1v1h-1zM726 681h1v1h-1zM730 678h1v1h-1zM731 677h1v1h-1zM732 676h1v1h-1zM736 673h1v1h-1zM737 673h1v1h-1zM738 672h1v1h-1zM742 670h1v1h-1zM743 670h1v1h-1zM744 669h1v1h-1zM748 668h1v1h-1zM749 668h1v1h-1zM750 668h1v1h-1zM754 668h1v1h-1zM755 668h1v1h-1zM756 668h1v1h-1zM760 669h1v1h-1zM761 670h1v1h-1zM762 670h1v1h-1zM766 672h1v1h-1zM767 672h1v1h-1zM768 673h1v1h-1zM772 675h1v1h-1zM773 675h1v1h-1zM774 676h1v1h-1zM778 678h1v1h-1zM779 678h1v1h-1zM780 679h1v1h-1zM784 681h1v1h-1zM785 682h1v1h-1zM786 682h1v1h-1zM790 684h1v1h-1zM791 684h1v1h-1zM792 685h1v1h-1zM796 686h1v1h-1zM797 687h1v1h-1zM798 687h1v1h-1zM802 688h1v1h-1zM803 688h1v1h-1zM804 688h1v1h-1zM808 689h1v1h-1zM809 690h1v1h-1zM810 690h1v1h-1zM814 691h1v1h-1zM815 691h1v1h-1zM816 691h1v1h-1zM820 692h1v1h-1zM821 693h1v1h-1zM822 693h1v1h-1zM826 695h1v1h-1zM827 695h1v1h-1zM828 695h1v1h-1zM832 696h1v1h-1zM833 697h1v1h-1zM834 697h1v1h-1zM838 697h1v1h-1zM839 697h1v1h-1zM840 697h1v1h-1zM844 697h1v1h-1zM845 696h1v1h-1zM846 696h1v1h-1zM850 694h1v1h-1zM851 694h1v1h-1zM852 694h1v1h-1zM856 692h1v1h-1zM857 692h1v1h-1zM858 691h1v1h-1zM862 690h1v1h-1zM863 690h1v1h-1zM864 690h1v1h-1zM868 689h1v1h-1zM869 689h1v1h-1zM870 689h1v1h-1zM874 689h1v1h-1zM875 689h1v1h-1zM876 689h1v1h-1zM880 689h1v1h-1zM881 689h1v1h-1zM882 689h1v1h-1zM886 689h1v1h-1zM887 689h1v1h-1zM888 689h1v1h-1zM892 690h1v1h-1zM893 690h1v1h-1zM894 690h1v1h-1zM898 689h1v1h-1zM899 689h1v1h-1zM900 689h1v1h-1zM904 688h1v1h-1zM905 687h1v1h-1zM906 687h1v1h-1zM910 686h1v1h-1zM911 686h1v1h-1zM912 686h1v1h-1zM916 685h1v1h-1zM917 685h1v1h-1zM918 685h1v1h-1zM922 685h1v1h-1zM923 685h1v1h-1zM924 685h1v1h-1zM928 685h1v1h-1zM929 685h1v1h-1zM930 685h1v1h-1zM934 685h1v1h-1zM935 685h1v1h-1zM936 685h1v1h-1zM940 686h1v1h-1zM941 687h1v1h-1zM942 687h1v1h-1zM946 687h1v1h-1zM947 687h1v1h-1zM948 688h1v1h-1zM952 689h1v1h-1zM953 690h1v1h-1zM954 690h1v1h-1zM958 692h1v1h-1zM959 692h1v1h-1zM960 693h1v1h-1zM964 696h1v1h-1zM965 697h1v1h-1zM966 697h1v1h-1zM970 700h1v1h-1zM971 701h1v1h-1zM972 702h1v1h-1zM976 705h1v1h-1zM977 706h1v1h-1zM978 706h1v1h-1zM982 709h1v1h-1zM983 710h1v1h-1zM984 711h1v1h-1zM988 713h1v1h-1zM989 713h1v1h-1zM990 714h1v1h-1zM994 715h1v1h-1zM995 715h1v1h-1zM996 715h1v1h-1zM1000 716h1v1h-1zM1001 717h1v1h-1zM1002 717h1v1h-1zM1006 717h1v1h-1zM1007 717h1v1h-1zM1008 717h1v1h-1zM1012 717h1v1h-1zM1013 717h1v1h-1zM1014 717h1v1h-1zM1018 717h1v1h-1zM1019 717h1v1h-1zM1020 717h1v1h-1zM1024 716h1v1h-1zM1025 715h1v1h-1zM1026 715h1v1h-1zM1030 714h1v1h-1zM1031 714h1v1h-1zM1032 714h1v1h-1zM1036 712h1v1h-1zM1037 712h1v1h-1zM1038 711h1v1h-1zM1042 709h1v1h-1zM1043 709h1v1h-1zM1044 709h1v1h-1zM1048 708h1v1h-1zM1049 707h1v1h-1zM1050 707h1v1h-1zM1054 706h1v1h-1zM1055 706h1v1h-1zM1056 706h1v1h-1zM1060 705h1v1h-1zM1061 705h1v1h-1zM1062 705h1v1h-1zM1066 705h1v1h-1zM1067 705h1v1h-1zM1068 705h1v1h-1zM1072 705h1v1h-1zM1073 705h1v1h-1zM1074 705h1v1h-1zM1078 704h1v1h-1zM1079 704h1v1h-1zM1080 704h1v1h-1zM1084 703h1v1h-1zM1085 703h1v1h-1zM1086 702h1v1h-1zM1090 701h1v1h-1zM1091 701h1v1h-1zM1092 701h1v1h-1zM1096 699h1v1h-1zM1097 699h1v1h-1zM1098 698h1v1h-1zM1102 696h1v1h-1zM1103 696h1v1h-1zM1104 695h1v1h-1zM1108 693h1v1h-1zM1109 693h1v1h-1zM1110 692h1v1h-1zM1114 690h1v1h-1zM1115 690h1v1h-1zM1116 690h1v1h-1zM1120 689h1v1h-1zM1121 688h1v1h-1zM1122 688h1v1h-1zM1126 687h1v1h-1zM1127 687h1v1h-1zM1128 687h1v1h-1zM1132 687h1v1h-1zM1133 687h1v1h-1zM1134 687h1v1h-1zM1138 686h1v1h-1zM1139 686h1v1h-1zM1140 686h1v1h-1zM1144 686h1v1h-1zM1145 686h1v1h-1zM1146 686h1v1h-1zM1150 686h1v1h-1zM1151 686h1v1h-1zM1152 686h1v1h-1zM1156 686h1v1h-1zM1157 685h1v1h-1zM1158 685h1v1h-1zM1162 683h1v1h-1zM1163 683h1v1h-1zM1164 682h1v1h-1zM1168 680h1v1h-1zM1169 680h1v1h-1zM1170 679h1v1h-1zM1174 677h1v1h-1zM1175 677h1v1h-1zM1176 676h1v1h-1zM1180 675h1v1h-1zM1181 674h1v1h-1zM1182 674h1v1h-1zM1186 672h1v1h-1zM1187 672h1v1h-1zM1188 672h1v1h-1zM1192 672h1v1h-1zM1193 672h1v1h-1zM1194 672h1v1h-1zM1198 673h1v1h-1zM1199 673h1v1h-1zM1200 673h1v1h-1zM1204 674h1v1h-1zM1205 675h1v1h-1zM1206 675h1v1h-1zM1210 677h1v1h-1zM1211 677h1v1h-1zM1212 677h1v1h-1zM1216 678h1v1h-1zM1217 679h1v1h-1zM1218 679h1v1h-1zM1222 679h1v1h-1zM1223 679h1v1h-1zM1224 679h1v1h-1zM1228 680h1v1h-1zM1229 679h1v1h-1zM1230 679h1v1h-1zM1234 679h1v1h-1zM1235 679h1v1h-1zM1236 678h1v1h-1zM1240 677h1v1h-1zM1241 676h1v1h-1zM1242 676h1v1h-1zM1246 674h1v1h-1zM1247 674h1v1h-1zM1248 673h1v1h-1zM1252 671h1v1h-1zM1253 671h1v1h-1zM1254 670h1v1h-1z" fill="#ff0000" shape-rendering="crispEdges"/>
<rect x="1581" y="363" width="41" height="11" fill="#000"/>
<text x="1585.5" y="372" font-size="10.0" fill="#fff" text-anchor="start" textLength="32" lengthAdjust="spacingAndGlyphs" stroke="#fff" stroke-width="0.1">0.91569</text>
<rect x="3" y="306" width="1577" height="2" fill="#ff0000"/>
<rect x="1581" y="301" width="41" height="11" fill="#ff0000"/>
<text x="1585.5" y="310" font-size="10.0" fill="#fff" text-anchor="start" textLength="32" lengthAdjust="spacingAndGlyphs" stroke="#fff" stroke-width="0.1">0.93001</text>
<rect x="3" y="361" width="1577" height="2" fill="#ff0000"/>
<rect x="2" y="359" width="6" height="6" fill="#ff0000"/>
<rect x="4" y="361" width="2" height="2" fill="#fff"/>
<rect x="1573" y="359" width="6" height="6" fill="#ff0000"/>
<rect x="1575" y="361" width="2" height="2" fill="#fff"/>
<rect x="1581" y="356" width="41" height="11" fill="#ff0000"/>
<text x="1585.5" y="365" font-size="10.0" fill="#fff" text-anchor="start" textLength="32" lengthAdjust="spacingAndGlyphs" stroke="#fff" stroke-width="0.1">0.91709</text>
<rect x="3" y="432" width="1577" height="2" fill="#00ff00"/>
<rect x="2" y="430" width="6" height="6" fill="#00ff00"/>
<rect x="4" y="432" width="2" height="2" fill="#fff"/>
<rect x="1573" y="430" width="6" height="6" fill="#00ff00"/>
<rect x="1575" y="432" width="2" height="2" fill="#fff"/>
<rect x="1581" y="427" width="41" height="11" fill="#00ff00"/>
<text x="1585.5" y="436" font-size="10.0" fill="#fff" text-anchor="start" textLength="32" lengthAdjust="spacingAndGlyphs" stroke="#fff" stroke-width="0.1">0.90055</text>
<rect x="3" y="490" width="1577" height="2" fill="#0000ff"/>
<rect x="2" y="488" width="6" height="6" fill="#0000ff"/>
<rect x="4" y="490" width="2" height="2" fill="#fff"/>
<rect x="1573" y="488" width="6" height="6" fill="#0000ff"/>
<rect x="1575" y="490" width="2" height="2" fill="#fff"/>
<rect x="1581" y="485" width="41" height="11" fill="#0000ff"/>
<text x="1585.5" y="494" font-size="10.0" fill="#fff" text-anchor="start" textLength="32" lengthAdjust="spacingAndGlyphs" stroke="#fff" stroke-width="0.1">0.88703</text>
<rect x="3" y="541" width="1577" height="2" fill="#0000ff"/>
<rect x="2" y="539" width="6" height="6" fill="#0000ff"/>
<rect x="4" y="541" width="2" height="2" fill="#fff"/>
<rect x="1573" y="539" width="6" height="6" fill="#0000ff"/>
<rect x="1575" y="541" width="2" height="2" fill="#fff"/>
<rect x="1581" y="536" width="41" height="11" fill="#0000ff"/>
<text x="1585.5" y="545" font-size="10.0" fill="#fff" text-anchor="start" textLength="32" lengthAdjust="spacingAndGlyphs" stroke="#fff" stroke-width="0.1">0.87513</text>
<rect x="3" y="749" width="1" height="3" fill="#000"/>
<text x="3" y="761" font-size="10.0" fill="#000" text-anchor="start" textLength="51.96" lengthAdjust="spacingAndGlyphs" stroke="#000" stroke-width="0.1">28 Feb 2020</text>
<rect x="67" y="749" width="1" height="3" fill="#000"/>
<text x="67" y="761" font-size="10.0" fill="#000" text-anchor="start" textLength="51.94" lengthAdjust="spacingAndGlyphs" stroke="#000" stroke-width="0.1">18 Mar 2020</text>
<rect x="131" y="749" width="1" height="3" fill="#000"/>
<text x="131" y="761" font-size="10.0" fill="#000" text-anchor="start" textLength="44.75" lengthAdjust="spacingAndGlyphs" stroke="#000" stroke-width="0.1">6 Apr 2020</text>
<rect x="195" y="749" width="1" height="3" fill="#000"/>
<text x="195" y="761" font-size="10.0" fill="#000" text-anchor="start" textLength="49.89" lengthAdjust="spacingAndGlyphs" stroke="#000" stroke-width="0.1">24 Apr 2020</text>
<rect x="259" y="749" width="1" height="3" fill="#000"/>
<text x="259" y="761" font-size="10.0" fill="#000" text-anchor="start" textLength="53.49" lengthAdjust="spacingAndGlyphs" stroke="#000" stroke-width="0.1">13 May 2020</text>
<rect x="323" y="749" width="1" height="3" fill="#000"/>
<text x="323" y="761" font-size="10.0" fill="#000" text-anchor="start" textLength="45.79" lengthAdjust="spacingAndGlyphs" stroke="#000" stroke-width="0.1">1 Jun 2020</text>
<rect x="387" y="749" width="1" height="3" fill="#000"/>
<text x="387" y="761" font-size="10.0" fill="#000" text-anchor="start" textLength="50.93" lengthAdjust="spacingAndGlyphs" stroke="#000" stroke-width="0.1">19 Jun 2020</text>
<rect x="451" y="749" width="1" height="3" fill="#000"/>
<text x="451" y="761" font-size="10.0" fill="#000" text-anchor="start" textLength="42.69" lengthAdjust="spacingAndGlyphs" stroke="#000" stroke-width="0.1">8 Jul 2020</text>
<rect x="515" y="749" width="1" height="3" fill="#000"/>
<text x="515" y="761" font-size="10.0" fill="#000" text-anchor="start" textLength="47.84" lengthAdjust="spacingAndGlyphs" stroke="#000" stroke-width="0.1">27 Jul 2020</text>
<rect x="579" y="749" width="1" height="3" fill="#000"/>
<text x="579" y="761" font-size="10.0" fill="#000" text-anchor="start" textLength="51.96" lengthAdjust="spacingAndGlyphs" stroke="#000" stroke-width="0.1">14 Aug 2020</text>
<rect x="643" y="749" width="1" height="3" fill="#000"/>
<text x="643" y="761" font-size="10.0" fill="#000" text-anchor="start" textLength="47.33" lengthAdjust="spacingAndGlyphs" stroke="#000" stroke-width="0.1">2 Sep 2020</text>
<rect x="707" y="749" width="1" height="3" fill="#000"/>
<text x="707" y="761" font-size="10.0" fill="#000" text-anchor="start" textLength="52.46" lengthAdjust="spacingAndGlyphs" stroke="#000" stroke-width="0.1">21 Sep 2020</text>
<rect x="771" y="749" width="1" height="3" fill="#000"/>
<text x="771" y="761" font-size="10.0" fill="#000" text-anchor="start" textLength="45.25" lengthAdjust="spacingAndGlyphs" stroke="#000" stroke-width="0.1">9 Oct 2020</text>
<rect x="835" y="749" width="1" height="3" fill="#000"/>
<text x="835" y="761" font-size="10.0" fill="#000" text-anchor="start" textLength="50.4" lengthAdjust="spacingAndGlyphs" stroke="#000" stroke-width="0.1">28 Oct 2020</text>
<rect x="899" y="749" width="1" height="3" fill="#000"/>
<text x="899" y="761" font-size="10.0" fill="#000" text-anchor="start" textLength="52.46" lengthAdjust="spacingAndGlyphs" stroke="#000" stroke-width="0.1">16 Nov 2020</text>
<rect x="963" y="749" width="1" height="3" fill="#000"/>
<text x="963" y="761" font-size="10.0" fill="#000" text-anchor="start" textLength="47.32" lengthAdjust="spacingAndGlyphs" stroke="#000" stroke-width="0.1">4 Dec 2020</text>
<rect x="1027" y="749" width="1" height="3" fill="#000"/>
<text x="1027" y="761" font-size="10.0" fill="#000" text-anchor="start" textLength="52.46" lengthAdjust="spacingAndGlyphs" stroke="#000" stroke-width="0.1">23 Dec 2020</text>
<rect x="1091" y="749" width="1" height="3" fill="#000"/>
<text x="1091" y="761" font-size="10.0" fill="#000" text-anchor="start" textLength="50.93" lengthAdjust="spacingAndGlyphs" stroke="#000" stroke-width="0.1">13 Jan 2021</text>
<rect x="1155" y="749" width="1" height="3" fill="#000"/>
<text x="1155" y="761" font-size="10.0" fill="#000" text-anchor="start" textLength="46.81" lengthAdjust="spacingAndGlyphs" stroke="#000" stroke-width="0.1">1 Feb 2021</text>
<rect x="1219" y="749" width="1" height="3" fill="#000"/>
<text x="1219" y="761" font-size="10.0" fill="#000" text-anchor="start" textLength="51.96" lengthAdjust="spacingAndGlyphs" stroke="#000" stroke-width="0.1">19 Feb 2021</text>
<rect x="1580" y="556" width="2" height="1" fill="#000"/>
<rect x="1580" y="584" width="2" height="1" fill="#000"/>
<rect x="1580" y="621" width="2" height="1" fill="#000"/>
<rect x="1580" y="649" width="2" height="1" fill="#000"/>
<text x="1583" y="565.0" font-size="10.0" fill="#000" text-anchor="start" textLength="15" lengthAdjust="spacingAndGlyphs" stroke="#000" stroke-width="0.1">100</text>
<text x="1583" y="588.0" font-size="10.0" fill="#000" text-anchor="start" textLength="10" lengthAdjust="spacingAndGlyphs" stroke="#000" stroke-width="0.1">70</text>
<text x="1583" y="625.0" font-size="10.0" fill="#000" text-anchor="start" textLength="10" lengthAdjust="spacingAndGlyphs" stroke="#000" stroke-width="0.1">30</text>
<text x="1583" y="647.0" font-size="10.0" fill="#000" text-anchor="start" textLength="5" lengthAdjust="spacingAndGlyphs" stroke="#000" stroke-width="0.1">0</text>
<rect x="1580" y="654" width="2" height="1" fill="#000"/>
<rect x="1580" y="685" width="2" height="1" fill="#000"/>
<rect x="1580" y="748" width="2" height="1" fill="#000"/>
<text x="1583" y="663.0" font-size="10.0" fill="#000" text-anchor="start" textLength="37" lengthAdjust="spacingAndGlyphs" stroke="#000" stroke-width="0.1">0.005844</text>
<text x="1583" y="689.0" font-size="10.0" fill="#000" text-anchor="start" textLength="17" lengthAdjust="spacingAndGlyphs" stroke="#000" stroke-width="0.1">0.00</text>
<text x="1583" y="745.0" font-size="10.0" fill="#000" text-anchor="start" textLength="41" lengthAdjust="spacingAndGlyphs" stroke="#000" stroke-width="0.1">-0.011516</text>
<g stroke="#c0c0c0" stroke-width="1" stroke-dasharray="3 3" shape-rendering="crispEdges"><path d="M4 584.5H1579M4 621.5H1579"/></g>
<text x="7" y="567" font-size="10.0" fill="#000" text-anchor="start" textLength="68" lengthAdjust="spacingAndGlyphs" stroke="#000" stroke-width="0.1">RSI(14) 71.3656</text>
<text x="7" y="665" font-size="10.0" fill="#000" text-anchor="start" textLength="147" lengthAdjust="spacingAndGlyphs" stroke="#000" stroke-width="0.1">MACD(12,26,9) 0.005055 0.002847</text>
<path d="M6 32h7l-3.5 4z" fill="#000"/>
<text x="18" y="37" font-size="10.0" fill="#000" text-anchor="start" textLength="64" lengthAdjust="spacingAndGlyphs" stroke="#000" stroke-width="0.1">USDCHF,Daily</text>
<text x="89" y="37" font-size="10.0" fill="#000" text-anchor="start" textLength="141" lengthAdjust="spacingAndGlyphs" stroke="#000" stroke-width="0.1">0.91365 0.91634 0.91238 0.91569</text>
<path d="M1258 26h9l-4.5 4.5z" fill="#c0c0c0"/>
<rect x="0" y="769" width="1623" height="1" fill="#e3e3e3"/>
<rect x="0" y="771" width="1623" height="1" fill="#000"/>
<rect x="0" y="772" width="1623" height="19" fill="#f0f0f0"/>
<rect x="108" y="771" width="100" height="19" fill="#000"/>
<rect x="109" y="771" width="98" height="18" fill="#fff"/>
<text x="16" y="786" font-size="12.0" fill="#6d6d6d" text-anchor="start" textLength="80" lengthAdjust="spacingAndGlyphs">EURUSD,Daily</text>
<text x="118" y="786" font-size="12.0" fill="#000" text-anchor="start" textLength="79" lengthAdjust="spacingAndGlyphs">USDCHF,Daily</text>
<text x="219" y="786" font-size="12.0" fill="#6d6d6d" text-anchor="start" textLength="82" lengthAdjust="spacingAndGlyphs">AUDUSD,Daily</text>
<text x="323" y="786" font-size="12.0" fill="#6d6d6d" text-anchor="start" textLength="82" lengthAdjust="spacingAndGlyphs">USDCAD,Daily</text>
<text x="426" y="786" font-size="12.0" fill="#6d6d6d" text-anchor="start" textLength="83" lengthAdjust="spacingAndGlyphs">USDCNH,Daily</text>
<text x="532" y="786" font-size="12.0" fill="#6d6d6d" text-anchor="start" textLength="80" lengthAdjust="spacingAndGlyphs">EURUSD,Daily</text>
<text x="636" y="786" font-size="12.0" fill="#6d6d6d" text-anchor="start" textLength="68" lengthAdjust="spacingAndGlyphs">GBPUSD,H4</text>
<text x="727" y="786" font-size="12.0" fill="#6d6d6d" text-anchor="start" textLength="69" lengthAdjust="spacingAndGlyphs">XAUUSD,H1</text>
<text x="819" y="786" font-size="12.0" fill="#6d6d6d" text-anchor="start" textLength="50" lengthAdjust="spacingAndGlyphs">HK50,H1</text>
<text x="891" y="786" font-size="12.0" fill="#6d6d6d" text-anchor="start" textLength="57" lengthAdjust="spacingAndGlyphs">UK100,H1</text>
<text x="971" y="786" font-size="12.0" fill="#6d6d6d" text-anchor="start" textLength="56" lengthAdjust="spacingAndGlyphs">UK100,H1</text>
<text x="1051" y="786" font-size="12.0" fill="#6d6d6d" text-anchor="start" textLength="57" lengthAdjust="spacingAndGlyphs">GER30,H1</text>
<text x="1131" y="786" font-size="12.0" fill="#6d6d6d" text-anchor="start" textLength="53" lengthAdjust="spacingAndGlyphs">FRA40,H1</text>
<text x="1206" y="786" font-size="12.0" fill="#6d6d6d" text-anchor="start" textLength="63" lengthAdjust="spacingAndGlyphs">USOil,Daily</text>
<text x="1290" y="786" font-size="12.0" fill="#6d6d6d" text-anchor="start" textLength="63" lengthAdjust="spacingAndGlyphs">USDJPY,H1</text>
<text x="1375" y="786" font-size="12.0" fill="#6d6d6d" text-anchor="start" textLength="58" lengthAdjust="spacingAndGlyphs">DJ30,Daily</text>
<text x="1454" y="786" font-size="12.0" fill="#6d6d6d" text-anchor="start" textLength="79" lengthAdjust="spacingAndGlyphs">CHINA300,H1</text>
<text x="1554" y="786" font-size="12.0" fill="#6d6d6d" text-anchor="start" textLength="34" lengthAdjust="spacingAndGlyphs">USOil,</text>
<rect x="312" y="774" width="1" height="14" fill="#6d6d6d"/>
<rect x="416" y="774" width="1" height="14" fill="#6d6d6d"/>
<rect x="521" y="774" width="1" height="14" fill="#6d6d6d"/>
<rect x="624" y="774" width="1" height="14" fill="#6d6d6d"/>
<rect x="716" y="774" width="1" height="14" fill="#6d6d6d"/>
<rect x="809" y="774" width="1" height="14" fill="#6d6d6d"/>
<rect x="880" y="774" width="1" height="14" fill="#6d6d6d"/>
<rect x="961" y="774" width="1" height="14" fill="#6d6d6d"/>
<rect x="1040" y="774" width="1" height="14" fill="#6d6d6d"/>
<rect x="1120" y="774" width="1" height="14" fill="#6d6d6d"/>
<rect x="1196" y="774" width="1" height="14" fill="#6d6d6d"/>
<rect x="1280" y="774" width="1" height="14" fill="#6d6d6d"/>
<rect x="1365" y="774" width="1" height="14" fill="#6d6d6d"/>
<rect x="1444" y="774" width="1" height="14" fill="#6d6d6d"/>
<rect x="1544" y="774" width="1" height="14" fill="#6d6d6d"/>
<rect x="1590" y="772" width="33" height="19" fill="#f0f0f0"/>
<path d="M1598 776.5v7l-3.5-3.5z" fill="#a0a0a0"/>
<path d="M1613.5 776.5v7l3.5-3.5z" fill="#000"/>
</svg></body></html>
